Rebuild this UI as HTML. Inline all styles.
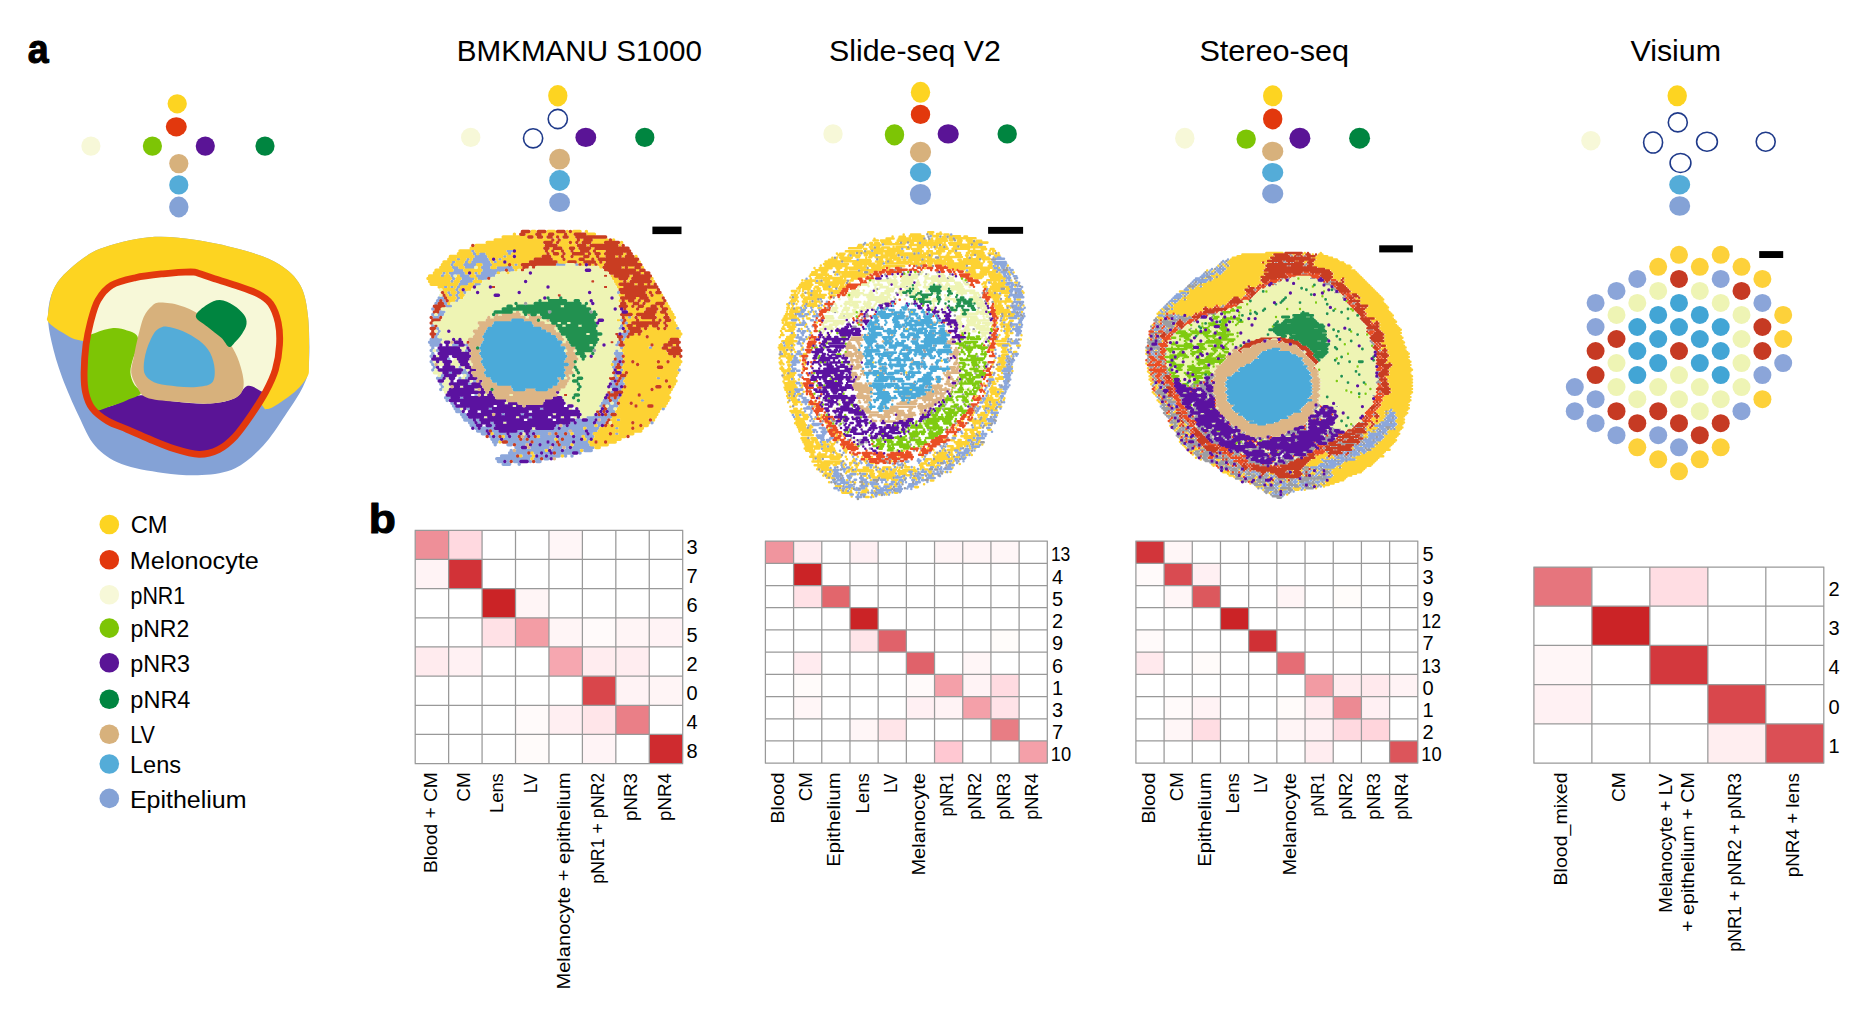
<!DOCTYPE html>
<html><head><meta charset="utf-8"><title>Figure</title>
<style>
html,body{margin:0;padding:0;background:#fff;}
svg{display:block;font-family:"Liberation Sans",sans-serif;fill:#000;}
</style></head><body>
<svg width="1875" height="1010" viewBox="0 0 1875 1010">
<text x="27.67" y="62.5" font-size="41" textLength="20.90" lengthAdjust="spacingAndGlyphs" font-weight="bold" stroke="#000" stroke-width="1.1" stroke-linejoin="round">a</text>
<text x="368.82" y="533.3" font-size="41" textLength="27.10" lengthAdjust="spacingAndGlyphs" font-weight="bold" stroke="#000" stroke-width="1.1" stroke-linejoin="round">b</text>
<text x="456.83" y="60.7" font-size="29.5" textLength="245.04" lengthAdjust="spacingAndGlyphs">BMKMANU S1000</text>
<text x="829.04" y="60.7" font-size="29.5" textLength="171.88" lengthAdjust="spacingAndGlyphs">Slide-seq V2</text>
<text x="1199.42" y="60.7" font-size="29.5" textLength="149.62" lengthAdjust="spacingAndGlyphs">Stereo-seq</text>
<text x="1630.45" y="60.7" font-size="29.5" textLength="90.65" lengthAdjust="spacingAndGlyphs">Visium</text>
<ellipse cx="177.2" cy="103.8" rx="9.65" ry="9.65" fill="#FDD421"/>
<ellipse cx="176.3" cy="126.8" rx="10.5" ry="9.6" fill="#E2380D"/>
<ellipse cx="90.9" cy="146.1" rx="9.6" ry="9.6" fill="#F7F8D8"/>
<ellipse cx="152.4" cy="146.1" rx="9.6" ry="9.6" fill="#7DC505"/>
<ellipse cx="205.3" cy="146.1" rx="9.6" ry="9.6" fill="#5A1496"/>
<ellipse cx="265" cy="146.1" rx="9.6" ry="9.6" fill="#008540"/>
<ellipse cx="178.8" cy="163.6" rx="9.6" ry="9.6" fill="#D7B17C"/>
<ellipse cx="178.8" cy="184.9" rx="9.6" ry="9.6" fill="#54ACD8"/>
<ellipse cx="178.8" cy="207" rx="9.7" ry="10.4" fill="#84A2D6"/>
<ellipse cx="557.8" cy="95.8" rx="9.65" ry="10.7" fill="#FDD421"/>
<ellipse cx="557.8" cy="119" rx="9.60" ry="9.60" fill="#fff" stroke="#1F3A8A" stroke-width="1.6"/>
<ellipse cx="470.7" cy="137.4" rx="9.7" ry="9.7" fill="#F7F8D8"/>
<ellipse cx="533.1" cy="138.3" rx="9.60" ry="9.60" fill="#fff" stroke="#1F3A8A" stroke-width="1.6"/>
<ellipse cx="585.8" cy="137.4" rx="10.4" ry="9.6" fill="#5A1496"/>
<ellipse cx="644.8" cy="137.4" rx="9.6" ry="9.6" fill="#008540"/>
<ellipse cx="559.6" cy="159.2" rx="10.4" ry="10.4" fill="#D7B17C"/>
<ellipse cx="559.6" cy="180.5" rx="10.4" ry="10.4" fill="#54ACD8"/>
<ellipse cx="559.6" cy="202.4" rx="10.4" ry="9.7" fill="#84A2D6"/>
<ellipse cx="920.5" cy="92.3" rx="9.7" ry="10.5" fill="#FDD421"/>
<ellipse cx="920.5" cy="114.4" rx="9.7" ry="9.7" fill="#E2380D"/>
<ellipse cx="833" cy="133.9" rx="9.7" ry="9.7" fill="#F7F8D8"/>
<ellipse cx="894.5" cy="134.8" rx="9.7" ry="10.6" fill="#7DC505"/>
<ellipse cx="948.2" cy="133.9" rx="10.6" ry="9.7" fill="#5A1496"/>
<ellipse cx="1007.2" cy="133.9" rx="9.7" ry="9.7" fill="#008540"/>
<ellipse cx="920.5" cy="152.1" rx="10.6" ry="10.4" fill="#D7B17C"/>
<ellipse cx="920.5" cy="172.5" rx="10.6" ry="9.7" fill="#54ACD8"/>
<ellipse cx="920.5" cy="194.5" rx="10.6" ry="10.5" fill="#84A2D6"/>
<ellipse cx="1272.7" cy="95.8" rx="9.7" ry="10.5" fill="#FDD421"/>
<ellipse cx="1272.7" cy="118.9" rx="9.7" ry="10.5" fill="#E2380D"/>
<ellipse cx="1184.8" cy="138.2" rx="9.7" ry="10.5" fill="#F7F8D8"/>
<ellipse cx="1246.2" cy="139.1" rx="9.7" ry="9.7" fill="#7DC505"/>
<ellipse cx="1299.9" cy="138.2" rx="10.5" ry="10.5" fill="#5A1496"/>
<ellipse cx="1359.6" cy="138.2" rx="10.5" ry="10.5" fill="#008540"/>
<ellipse cx="1272.7" cy="151.4" rx="10.6" ry="9.6" fill="#D7B17C"/>
<ellipse cx="1272.7" cy="172.5" rx="10.6" ry="9.6" fill="#54ACD8"/>
<ellipse cx="1272.7" cy="193.7" rx="10.6" ry="9.7" fill="#84A2D6"/>
<ellipse cx="1677.2" cy="95.8" rx="9.7" ry="10.5" fill="#FDD421"/>
<ellipse cx="1677.8" cy="122.4" rx="9.50" ry="9.50" fill="#fff" stroke="#1F3A8A" stroke-width="1.6"/>
<ellipse cx="1590.9" cy="140.7" rx="9.7" ry="9.7" fill="#F7F8D8"/>
<ellipse cx="1653.1" cy="142.5" rx="9.50" ry="10.50" fill="#fff" stroke="#1F3A8A" stroke-width="1.6"/>
<ellipse cx="1707" cy="141.7" rx="10.40" ry="9.50" fill="#fff" stroke="#1F3A8A" stroke-width="1.6"/>
<ellipse cx="1765.7" cy="141.7" rx="9.50" ry="9.50" fill="#fff" stroke="#1F3A8A" stroke-width="1.6"/>
<ellipse cx="1680.5" cy="163" rx="10.40" ry="9.50" fill="#fff" stroke="#1F3A8A" stroke-width="1.6"/>
<ellipse cx="1679.7" cy="184.7" rx="10.5" ry="9.7" fill="#54ACD8"/>
<ellipse cx="1679.7" cy="206" rx="10.5" ry="9.8" fill="#84A2D6"/>
<ellipse cx="109.3" cy="524.5" rx="9.8" ry="9.8" fill="#FDD421"/>
<text x="130.71" y="532.7" font-size="23" textLength="36.91" lengthAdjust="spacingAndGlyphs">CM</text>
<ellipse cx="109.3" cy="559.8" rx="9.8" ry="9.8" fill="#E2380D"/>
<text x="129.88" y="568.6" font-size="23" textLength="128.92" lengthAdjust="spacingAndGlyphs">Melonocyte</text>
<ellipse cx="109.3" cy="594.8" rx="9.8" ry="9.8" fill="#F7F8D8"/>
<text x="130.51" y="603.9" font-size="23" textLength="54.69" lengthAdjust="spacingAndGlyphs">pNR1</text>
<ellipse cx="109.3" cy="628.1" rx="9.8" ry="9.8" fill="#7DC505"/>
<text x="130.40" y="636.6" font-size="23" textLength="58.89" lengthAdjust="spacingAndGlyphs">pNR2</text>
<ellipse cx="109.3" cy="662.7" rx="9.8" ry="9.8" fill="#5A1496"/>
<text x="130.38" y="671.6" font-size="23" textLength="59.69" lengthAdjust="spacingAndGlyphs">pNR3</text>
<ellipse cx="109.3" cy="699.3" rx="9.8" ry="9.8" fill="#008540"/>
<text x="130.37" y="707.5" font-size="23" textLength="60.07" lengthAdjust="spacingAndGlyphs">pNR4</text>
<ellipse cx="109.3" cy="734.3" rx="9.8" ry="9.8" fill="#D7B17C"/>
<text x="130.17" y="742.5" font-size="23" textLength="24.82" lengthAdjust="spacingAndGlyphs">LV</text>
<ellipse cx="109.3" cy="764" rx="9.8" ry="9.8" fill="#54ACD8"/>
<text x="130.02" y="772.9" font-size="23" textLength="51.07" lengthAdjust="spacingAndGlyphs">Lens</text>
<ellipse cx="109.3" cy="798.4" rx="9.8" ry="9.8" fill="#84A2D6"/>
<text x="129.90" y="807.8" font-size="23" textLength="116.60" lengthAdjust="spacingAndGlyphs">Epithelium</text>
<rect x="415.20" y="530.30" width="33.44" height="29.16" fill="#EE8F98"/>
<rect x="448.64" y="530.30" width="33.44" height="29.16" fill="#FFD9E0"/>
<rect x="548.95" y="530.30" width="33.44" height="29.16" fill="#FFF6F7"/>
<rect x="415.20" y="559.46" width="33.44" height="29.16" fill="#FFF3F5"/>
<rect x="448.64" y="559.46" width="33.44" height="29.16" fill="#D23237"/>
<rect x="482.07" y="588.62" width="33.44" height="29.16" fill="#CB2326"/>
<rect x="515.51" y="588.62" width="33.44" height="29.16" fill="#FFF5F6"/>
<rect x="482.07" y="617.79" width="33.44" height="29.16" fill="#FFE1E6"/>
<rect x="515.51" y="617.79" width="33.44" height="29.16" fill="#F39DA5"/>
<rect x="548.95" y="617.79" width="33.44" height="29.16" fill="#FFF5F6"/>
<rect x="582.39" y="617.79" width="33.44" height="29.16" fill="#FFFAFA"/>
<rect x="615.83" y="617.79" width="33.44" height="29.16" fill="#FFF5F6"/>
<rect x="649.26" y="617.79" width="33.44" height="29.16" fill="#FFF3F5"/>
<rect x="415.20" y="646.95" width="33.44" height="29.16" fill="#FFEBEE"/>
<rect x="448.64" y="646.95" width="33.44" height="29.16" fill="#FFF1F3"/>
<rect x="548.95" y="646.95" width="33.44" height="29.16" fill="#F6A7B0"/>
<rect x="582.39" y="646.95" width="33.44" height="29.16" fill="#FFECEF"/>
<rect x="615.83" y="646.95" width="33.44" height="29.16" fill="#FFEDF0"/>
<rect x="582.39" y="676.11" width="33.44" height="29.16" fill="#D9464B"/>
<rect x="615.83" y="676.11" width="33.44" height="29.16" fill="#FFF3F5"/>
<rect x="649.26" y="676.11" width="33.44" height="29.16" fill="#FFF5F6"/>
<rect x="515.51" y="705.27" width="33.44" height="29.16" fill="#FFFAFA"/>
<rect x="548.95" y="705.27" width="33.44" height="29.16" fill="#FFEFF2"/>
<rect x="582.39" y="705.27" width="33.44" height="29.16" fill="#FFE5E9"/>
<rect x="615.83" y="705.27" width="33.44" height="29.16" fill="#EA7F87"/>
<rect x="515.51" y="734.44" width="33.44" height="29.16" fill="#FFFBFA"/>
<rect x="582.39" y="734.44" width="33.44" height="29.16" fill="#FFF4F6"/>
<rect x="649.26" y="734.44" width="33.44" height="29.16" fill="#CF2B2F"/>
<path d="M414.70 530.30H683.20M414.70 559.46H683.20M414.70 588.62H683.20M414.70 617.79H683.20M414.70 646.95H683.20M414.70 676.11H683.20M414.70 705.27H683.20M414.70 734.44H683.20M414.70 763.60H683.20M415.20 530.30V763.60M448.64 530.30V763.60M482.07 530.30V763.60M515.51 530.30V763.60M548.95 530.30V763.60M582.39 530.30V763.60M615.83 530.30V763.60M649.26 530.30V763.60M682.70 530.30V763.60" stroke="#999999" stroke-width="1.25" fill="none"/>
<text x="686.6" y="554.1" font-size="20">3</text>
<text x="686.6" y="583.2" font-size="20">7</text>
<text x="686.6" y="612.4" font-size="20">6</text>
<text x="686.6" y="641.6" font-size="20">5</text>
<text x="686.6" y="670.7" font-size="20">2</text>
<text x="686.6" y="699.9" font-size="20">0</text>
<text x="686.6" y="729.1" font-size="20">4</text>
<text x="686.6" y="758.2" font-size="20">8</text>
<text transform="translate(436.52 873.04) rotate(-90)" font-size="19" textLength="100.82" lengthAdjust="spacingAndGlyphs">Blood + CM</text>
<text transform="translate(469.96 801.75) rotate(-90)" font-size="19" textLength="29.57" lengthAdjust="spacingAndGlyphs">CM</text>
<text transform="translate(503.39 813.07) rotate(-90)" font-size="19" textLength="39.89" lengthAdjust="spacingAndGlyphs">Lens</text>
<text transform="translate(536.83 793.16) rotate(-90)" font-size="19" textLength="19.51" lengthAdjust="spacingAndGlyphs">LV</text>
<text transform="translate(570.27 989.51) rotate(-90)" font-size="19" textLength="216.95" lengthAdjust="spacingAndGlyphs">Melanocyte + epithelium</text>
<text transform="translate(603.71 883.85) rotate(-90)" font-size="19" textLength="111.00" lengthAdjust="spacingAndGlyphs">pNR1 + pNR2</text>
<text transform="translate(637.14 821.02) rotate(-90)" font-size="19" textLength="48.00" lengthAdjust="spacingAndGlyphs">pNR3</text>
<text transform="translate(670.58 821.02) rotate(-90)" font-size="19" textLength="47.81" lengthAdjust="spacingAndGlyphs">pNR4</text>
<rect x="765.40" y="541.10" width="28.19" height="22.21" fill="#F0959E"/>
<rect x="793.59" y="541.10" width="28.19" height="22.21" fill="#FFEDF0"/>
<rect x="849.97" y="541.10" width="28.19" height="22.21" fill="#FFF0F3"/>
<rect x="934.54" y="541.10" width="28.19" height="22.21" fill="#FFF5F6"/>
<rect x="962.73" y="541.10" width="28.19" height="22.21" fill="#FFF5F6"/>
<rect x="990.92" y="541.10" width="28.19" height="22.21" fill="#FFF6F7"/>
<rect x="793.59" y="563.31" width="28.19" height="22.21" fill="#CB2326"/>
<rect x="793.59" y="585.52" width="28.19" height="22.21" fill="#FFE1E6"/>
<rect x="821.78" y="585.52" width="28.19" height="22.21" fill="#E2666C"/>
<rect x="849.97" y="607.73" width="28.19" height="22.21" fill="#CB2326"/>
<rect x="849.97" y="629.94" width="28.19" height="22.21" fill="#FFE5E9"/>
<rect x="878.16" y="629.94" width="28.19" height="22.21" fill="#E0626A"/>
<rect x="990.92" y="629.94" width="28.19" height="22.21" fill="#FFFCFA"/>
<rect x="793.59" y="652.15" width="28.19" height="22.21" fill="#FFEBEF"/>
<rect x="906.35" y="652.15" width="28.19" height="22.21" fill="#E0626A"/>
<rect x="962.73" y="652.15" width="28.19" height="22.21" fill="#FFF6F7"/>
<rect x="793.59" y="674.36" width="28.19" height="22.21" fill="#FFFBFA"/>
<rect x="906.35" y="674.36" width="28.19" height="22.21" fill="#FFFAFA"/>
<rect x="934.54" y="674.36" width="28.19" height="22.21" fill="#F4A0A9"/>
<rect x="962.73" y="674.36" width="28.19" height="22.21" fill="#FFF3F5"/>
<rect x="990.92" y="674.36" width="28.19" height="22.21" fill="#FFDBE1"/>
<rect x="793.59" y="696.57" width="28.19" height="22.21" fill="#FFF6F7"/>
<rect x="906.35" y="696.57" width="28.19" height="22.21" fill="#FFF0F3"/>
<rect x="934.54" y="696.57" width="28.19" height="22.21" fill="#FFF3F5"/>
<rect x="962.73" y="696.57" width="28.19" height="22.21" fill="#F4A0A9"/>
<rect x="990.92" y="696.57" width="28.19" height="22.21" fill="#FFE3E8"/>
<rect x="849.97" y="718.78" width="28.19" height="22.21" fill="#FFF6F7"/>
<rect x="878.16" y="718.78" width="28.19" height="22.21" fill="#FFE5E9"/>
<rect x="990.92" y="718.78" width="28.19" height="22.21" fill="#E87D84"/>
<rect x="934.54" y="740.99" width="28.19" height="22.21" fill="#FFC8D2"/>
<rect x="1019.11" y="740.99" width="28.19" height="22.21" fill="#F4A0A9"/>
<path d="M764.90 541.10H1047.80M764.90 563.31H1047.80M764.90 585.52H1047.80M764.90 607.73H1047.80M764.90 629.94H1047.80M764.90 652.15H1047.80M764.90 674.36H1047.80M764.90 696.57H1047.80M764.90 718.78H1047.80M764.90 740.99H1047.80M764.90 763.20H1047.80M765.40 541.10V763.20M793.59 541.10V763.20M821.78 541.10V763.20M849.97 541.10V763.20M878.16 541.10V763.20M906.35 541.10V763.20M934.54 541.10V763.20M962.73 541.10V763.20M990.92 541.10V763.20M1019.11 541.10V763.20M1047.30 541.10V763.20" stroke="#999999" stroke-width="1.25" fill="none"/>
<text x="1050.89" y="561.4" font-size="20" textLength="19.45" lengthAdjust="spacingAndGlyphs">13</text>
<text x="1052" y="583.6" font-size="20">4</text>
<text x="1052" y="605.8" font-size="20">5</text>
<text x="1052" y="628.0" font-size="20">2</text>
<text x="1052" y="650.2" font-size="20">9</text>
<text x="1052" y="672.5" font-size="20">6</text>
<text x="1052" y="694.7" font-size="20">1</text>
<text x="1052" y="716.9" font-size="20">3</text>
<text x="1052" y="739.1" font-size="20">7</text>
<text x="1050.83" y="761.3" font-size="20" textLength="20.36" lengthAdjust="spacingAndGlyphs">10</text>
<text transform="translate(784.10 823.81) rotate(-90)" font-size="19" textLength="51.37" lengthAdjust="spacingAndGlyphs">Blood</text>
<text transform="translate(812.28 801.34) rotate(-90)" font-size="19" textLength="29.13" lengthAdjust="spacingAndGlyphs">CM</text>
<text transform="translate(840.48 866.82) rotate(-90)" font-size="19" textLength="94.31" lengthAdjust="spacingAndGlyphs">Epithelium</text>
<text transform="translate(868.66 813.49) rotate(-90)" font-size="19" textLength="40.31" lengthAdjust="spacingAndGlyphs">Lens</text>
<text transform="translate(896.86 793.05) rotate(-90)" font-size="19" textLength="19.40" lengthAdjust="spacingAndGlyphs">LV</text>
<text transform="translate(925.04 875.61) rotate(-90)" font-size="19" textLength="102.69" lengthAdjust="spacingAndGlyphs">Melanocyte</text>
<text transform="translate(953.24 816.51) rotate(-90)" font-size="19" textLength="43.50" lengthAdjust="spacingAndGlyphs">pNR1</text>
<text transform="translate(981.42 819.79) rotate(-90)" font-size="19" textLength="46.94" lengthAdjust="spacingAndGlyphs">pNR2</text>
<text transform="translate(1009.62 819.79) rotate(-90)" font-size="19" textLength="46.75" lengthAdjust="spacingAndGlyphs">pNR3</text>
<text transform="translate(1037.80 819.78) rotate(-90)" font-size="19" textLength="46.56" lengthAdjust="spacingAndGlyphs">pNR4</text>
<rect x="1135.90" y="541.10" width="28.19" height="22.21" fill="#D2353A"/>
<rect x="1164.09" y="541.10" width="28.19" height="22.21" fill="#FFF6F7"/>
<rect x="1135.90" y="563.31" width="28.19" height="22.21" fill="#FFFAFA"/>
<rect x="1164.09" y="563.31" width="28.19" height="22.21" fill="#D94B51"/>
<rect x="1192.28" y="563.31" width="28.19" height="22.21" fill="#FFF0F3"/>
<rect x="1164.09" y="585.52" width="28.19" height="22.21" fill="#FFF6F7"/>
<rect x="1192.28" y="585.52" width="28.19" height="22.21" fill="#DC585D"/>
<rect x="1276.85" y="585.52" width="28.19" height="22.21" fill="#FFF5F6"/>
<rect x="1333.23" y="585.52" width="28.19" height="22.21" fill="#FFFCFA"/>
<rect x="1220.47" y="607.73" width="28.19" height="22.21" fill="#CB2326"/>
<rect x="1135.90" y="629.94" width="28.19" height="22.21" fill="#FFFAFA"/>
<rect x="1248.66" y="629.94" width="28.19" height="22.21" fill="#D03035"/>
<rect x="1135.90" y="652.15" width="28.19" height="22.21" fill="#FFE9ED"/>
<rect x="1192.28" y="652.15" width="28.19" height="22.21" fill="#FFFBFA"/>
<rect x="1276.85" y="652.15" width="28.19" height="22.21" fill="#E56D75"/>
<rect x="1305.04" y="674.36" width="28.19" height="22.21" fill="#F29BA3"/>
<rect x="1333.23" y="674.36" width="28.19" height="22.21" fill="#FFECEF"/>
<rect x="1361.42" y="674.36" width="28.19" height="22.21" fill="#FFE9ED"/>
<rect x="1389.61" y="674.36" width="28.19" height="22.21" fill="#FFF3F5"/>
<rect x="1164.09" y="696.57" width="28.19" height="22.21" fill="#FFFAFA"/>
<rect x="1192.28" y="696.57" width="28.19" height="22.21" fill="#FFF3F5"/>
<rect x="1276.85" y="696.57" width="28.19" height="22.21" fill="#FFFBFA"/>
<rect x="1305.04" y="696.57" width="28.19" height="22.21" fill="#FFEDF0"/>
<rect x="1333.23" y="696.57" width="28.19" height="22.21" fill="#EC8A93"/>
<rect x="1361.42" y="696.57" width="28.19" height="22.21" fill="#FFF0F3"/>
<rect x="1164.09" y="718.78" width="28.19" height="22.21" fill="#FFF6F7"/>
<rect x="1192.28" y="718.78" width="28.19" height="22.21" fill="#FFDDE3"/>
<rect x="1276.85" y="718.78" width="28.19" height="22.21" fill="#FFF5F6"/>
<rect x="1305.04" y="718.78" width="28.19" height="22.21" fill="#FFF1F3"/>
<rect x="1333.23" y="718.78" width="28.19" height="22.21" fill="#FFD9E0"/>
<rect x="1361.42" y="718.78" width="28.19" height="22.21" fill="#FFD5DC"/>
<rect x="1305.04" y="740.99" width="28.19" height="22.21" fill="#FFEDF0"/>
<rect x="1389.61" y="740.99" width="28.19" height="22.21" fill="#DC555B"/>
<path d="M1135.40 541.10H1418.30M1135.40 563.31H1418.30M1135.40 585.52H1418.30M1135.40 607.73H1418.30M1135.40 629.94H1418.30M1135.40 652.15H1418.30M1135.40 674.36H1418.30M1135.40 696.57H1418.30M1135.40 718.78H1418.30M1135.40 740.99H1418.30M1135.40 763.20H1418.30M1135.90 541.10V763.20M1164.09 541.10V763.20M1192.28 541.10V763.20M1220.47 541.10V763.20M1248.66 541.10V763.20M1276.85 541.10V763.20M1305.04 541.10V763.20M1333.23 541.10V763.20M1361.42 541.10V763.20M1389.61 541.10V763.20M1417.80 541.10V763.20" stroke="#999999" stroke-width="1.25" fill="none"/>
<text x="1422.5" y="561.4" font-size="20">5</text>
<text x="1422.5" y="583.6" font-size="20">3</text>
<text x="1422.5" y="605.8" font-size="20">9</text>
<text x="1421.38" y="628.0" font-size="20" textLength="19.65" lengthAdjust="spacingAndGlyphs">12</text>
<text x="1422.5" y="650.2" font-size="20">7</text>
<text x="1421.39" y="672.5" font-size="20" textLength="19.45" lengthAdjust="spacingAndGlyphs">13</text>
<text x="1422.5" y="694.7" font-size="20">0</text>
<text x="1422.5" y="716.9" font-size="20">1</text>
<text x="1422.5" y="739.1" font-size="20">2</text>
<text x="1421.33" y="761.3" font-size="20" textLength="20.36" lengthAdjust="spacingAndGlyphs">10</text>
<text transform="translate(1154.60 823.81) rotate(-90)" font-size="19" textLength="51.37" lengthAdjust="spacingAndGlyphs">Blood</text>
<text transform="translate(1182.79 801.34) rotate(-90)" font-size="19" textLength="29.13" lengthAdjust="spacingAndGlyphs">CM</text>
<text transform="translate(1210.97 866.82) rotate(-90)" font-size="19" textLength="94.31" lengthAdjust="spacingAndGlyphs">Epithelium</text>
<text transform="translate(1239.16 813.49) rotate(-90)" font-size="19" textLength="40.31" lengthAdjust="spacingAndGlyphs">Lens</text>
<text transform="translate(1267.36 793.05) rotate(-90)" font-size="19" textLength="19.40" lengthAdjust="spacingAndGlyphs">LV</text>
<text transform="translate(1295.54 875.61) rotate(-90)" font-size="19" textLength="102.69" lengthAdjust="spacingAndGlyphs">Melanocyte</text>
<text transform="translate(1323.73 816.51) rotate(-90)" font-size="19" textLength="43.50" lengthAdjust="spacingAndGlyphs">pNR1</text>
<text transform="translate(1351.92 819.79) rotate(-90)" font-size="19" textLength="46.94" lengthAdjust="spacingAndGlyphs">pNR2</text>
<text transform="translate(1380.11 819.79) rotate(-90)" font-size="19" textLength="46.75" lengthAdjust="spacingAndGlyphs">pNR3</text>
<text transform="translate(1408.30 819.78) rotate(-90)" font-size="19" textLength="46.56" lengthAdjust="spacingAndGlyphs">pNR4</text>
<rect x="1533.90" y="567.00" width="57.98" height="39.24" fill="#E6757D"/>
<rect x="1649.86" y="567.00" width="57.98" height="39.24" fill="#FFDDE3"/>
<rect x="1591.88" y="606.24" width="57.98" height="39.24" fill="#CB2326"/>
<rect x="1533.90" y="645.48" width="57.98" height="39.24" fill="#FFF6F7"/>
<rect x="1649.86" y="645.48" width="57.98" height="39.24" fill="#D3383D"/>
<rect x="1533.90" y="684.72" width="57.98" height="39.24" fill="#FFF1F3"/>
<rect x="1707.84" y="684.72" width="57.98" height="39.24" fill="#D9474C"/>
<rect x="1707.84" y="723.96" width="57.98" height="39.24" fill="#FFEEF0"/>
<rect x="1765.82" y="723.96" width="57.98" height="39.24" fill="#DB4F55"/>
<path d="M1533.40 567.00H1824.30M1533.40 606.24H1824.30M1533.40 645.48H1824.30M1533.40 684.72H1824.30M1533.40 723.96H1824.30M1533.40 763.20H1824.30M1533.90 567.00V763.20M1591.88 567.00V763.20M1649.86 567.00V763.20M1707.84 567.00V763.20M1765.82 567.00V763.20M1823.80 567.00V763.20" stroke="#999999" stroke-width="1.25" fill="none"/>
<text x="1828.6" y="595.8" font-size="20">2</text>
<text x="1828.6" y="635.1" font-size="20">3</text>
<text x="1828.6" y="674.3" font-size="20">4</text>
<text x="1828.6" y="713.5" font-size="20">0</text>
<text x="1828.6" y="752.8" font-size="20">1</text>
<text transform="translate(1567.49 885.46) rotate(-90)" font-size="19" textLength="112.96" lengthAdjust="spacingAndGlyphs">Blood_mixed</text>
<text transform="translate(1625.47 801.96) rotate(-90)" font-size="19" textLength="29.79" lengthAdjust="spacingAndGlyphs">CM</text>
<text transform="translate(1672.25 912.70) rotate(-90)" font-size="19" textLength="139.04" lengthAdjust="spacingAndGlyphs">Melanocyte + LV</text>
<text transform="translate(1694.45 931.88) rotate(-90)" font-size="19" textLength="159.76" lengthAdjust="spacingAndGlyphs">+ epithelium + CM</text>
<text transform="translate(1741.43 951.87) rotate(-90)" font-size="19" textLength="178.78" lengthAdjust="spacingAndGlyphs">pNR1 + pNR2 + pNR3</text>
<text transform="translate(1799.41 877.22) rotate(-90)" font-size="19" textLength="104.10" lengthAdjust="spacingAndGlyphs">pNR4 + lens</text>
<path d="M48.0 314.3C48.3 305.5 50.1 296.7 53.6 289.3C57.0 281.9 61.2 276.6 68.8 269.9C76.4 263.2 85.9 254.6 99.3 249.1C112.7 243.7 133.0 238.7 149.2 237.2C165.4 235.7 180.2 237.7 196.4 240.0C212.5 242.3 232.4 247.0 246.3 251.1C260.1 255.1 270.5 258.7 279.5 264.4C288.5 270.0 295.6 276.4 300.3 285.2C305.1 293.9 306.7 303.9 308.1 317.0C309.5 330.2 309.8 352.6 308.9 364.2C308.1 375.7 307.1 377.8 303.1 386.4C299.1 394.9 291.8 405.5 285.1 415.5C278.4 425.4 271.2 437.2 262.9 446.0C254.6 454.8 245.3 463.3 235.2 468.2C225.0 473.0 213.9 474.3 201.9 475.1C189.9 475.9 176.5 474.7 163.1 472.9C149.7 471.0 132.8 468.5 121.5 464.0C110.2 459.5 102.3 454.1 95.2 446.0C88.0 437.9 84.1 427.0 78.5 415.5C73.0 403.9 66.4 388.9 61.9 376.7C57.4 364.4 53.9 352.4 51.6 342.0C49.3 331.6 47.7 323.0 48.0 314.3Z" fill="#84A2D6"/>
<path d="M48.0 314.3C48.9 308.8 50.1 296.7 53.6 289.3C57.0 281.9 61.2 276.6 68.8 269.9C76.4 263.2 85.9 254.6 99.3 249.1C112.7 243.7 133.0 238.7 149.2 237.2C165.4 235.7 180.2 237.7 196.4 240.0C212.5 242.3 232.4 247.0 246.3 251.1C260.1 255.1 270.5 258.7 279.5 264.4C288.5 270.0 295.6 276.4 300.3 285.2C305.1 293.9 306.7 303.9 308.1 317.0C309.5 330.2 309.1 354.2 308.9 364.2C308.8 374.1 309.4 372.3 307.3 376.7C305.1 381.0 300.8 386.1 296.2 390.5C291.6 394.9 284.4 399.9 279.5 403.0C274.7 406.1 270.3 409.1 267.1 409.1C263.8 409.1 267.3 411.4 260.1 403.0C253.0 394.6 244.0 368.3 224.1 358.6C204.2 348.9 164.5 347.7 140.9 344.8C117.3 341.8 95.6 342.8 82.7 340.9C69.7 338.9 69.0 336.3 63.3 333.1C57.5 330.0 50.8 325.2 48.3 322.0C45.8 318.9 47.1 319.7 48.0 314.3Z" fill="#FDD421"/>
<path d="M190.8 271.8C184.8 271.9 172.3 272.8 163.1 273.8C153.8 274.8 143.9 275.8 135.4 277.7C126.8 279.6 118.0 281.4 111.8 285.2C105.6 288.9 101.5 294.2 97.9 300.4C94.4 306.6 92.4 315.2 90.4 322.6C88.5 330.0 87.1 336.5 86.0 344.8C84.9 353.1 84.2 364.6 84.1 372.5C84.0 380.4 84.1 385.9 85.5 391.9C86.8 397.9 88.7 403.7 92.4 408.5C96.1 413.4 101.9 417.6 107.6 421.0C113.4 424.5 120.1 426.3 127.0 429.3C134.0 432.3 141.4 435.8 149.2 439.0C157.1 442.3 165.9 446.2 174.2 448.7C182.5 451.3 191.7 454.1 199.1 454.3C206.5 454.4 212.5 452.6 218.5 449.6C224.5 446.6 229.6 442.2 235.2 436.3C240.7 430.4 246.7 421.5 251.8 414.1C256.9 406.7 261.7 399.3 265.7 391.9C269.6 384.5 273.1 377.6 275.4 369.7C277.7 361.9 279.1 352.6 279.5 344.8C280.0 336.9 279.6 329.4 278.2 322.6C276.7 315.7 274.1 308.6 270.7 303.7C267.2 298.9 263.3 296.6 257.4 293.5C251.4 290.4 242.6 287.7 235.2 285.2C227.8 282.6 219.0 280.2 213.0 278.2C207.0 276.3 202.8 274.6 199.1 273.5C195.4 272.4 196.8 271.8 190.8 271.8Z" fill="#F7F8D8"/>
<clipPath id="rc"><path d="M190.8 271.8C184.8 271.9 172.3 272.8 163.1 273.8C153.8 274.8 143.9 275.8 135.4 277.7C126.8 279.6 118.0 281.4 111.8 285.2C105.6 288.9 101.5 294.2 97.9 300.4C94.4 306.6 92.4 315.2 90.4 322.6C88.5 330.0 87.1 336.5 86.0 344.8C84.9 353.1 84.2 364.6 84.1 372.5C84.0 380.4 84.1 385.9 85.5 391.9C86.8 397.9 88.7 403.7 92.4 408.5C96.1 413.4 101.9 417.6 107.6 421.0C113.4 424.5 120.1 426.3 127.0 429.3C134.0 432.3 141.4 435.8 149.2 439.0C157.1 442.3 165.9 446.2 174.2 448.7C182.5 451.3 191.7 454.1 199.1 454.3C206.5 454.4 212.5 452.6 218.5 449.6C224.5 446.6 229.6 442.2 235.2 436.3C240.7 430.4 246.7 421.5 251.8 414.1C256.9 406.7 261.7 399.3 265.7 391.9C269.6 384.5 273.1 377.6 275.4 369.7C277.7 361.9 279.1 352.6 279.5 344.8C280.0 336.9 279.6 329.4 278.2 322.6C276.7 315.7 274.1 308.6 270.7 303.7C267.2 298.9 263.3 296.6 257.4 293.5C251.4 290.4 242.6 287.7 235.2 285.2C227.8 282.6 219.0 280.2 213.0 278.2C207.0 276.3 202.8 274.6 199.1 273.5C195.4 272.4 196.8 271.8 190.8 271.8Z"/></clipPath>
<path d="M92.4 411.3C97.0 408.9 105.1 407.9 113.2 405.2C121.3 402.5 130.7 395.8 140.9 395.2C151.1 394.6 162.6 400.2 174.2 401.6C185.7 403.0 200.1 404.1 210.2 403.5C220.4 402.9 228.9 401.0 235.2 398.0C241.4 395.0 243.0 386.8 247.7 385.8C252.3 384.8 257.6 390.0 262.9 391.9C268.2 393.8 278.6 389.1 279.5 397.4C280.5 405.8 277.7 429.8 268.4 441.8C259.2 453.8 240.7 466.3 224.1 469.5C207.4 472.8 187.1 465.8 168.6 461.2C150.1 456.6 127.0 448.7 113.2 441.8C99.3 434.9 88.9 424.7 85.5 419.6C82.0 414.5 87.8 413.7 92.4 411.3Z" fill="#5A1496" clip-path="url(#rc)"/>
<path d="M79.9 342.0C82.9 335.9 89.6 335.4 95.2 333.1C100.7 330.8 107.9 328.6 113.2 328.1C118.5 327.7 123.2 329.2 127.0 330.4C130.9 331.5 134.6 332.7 136.5 335.1C138.3 337.5 138.7 340.8 138.1 344.8C137.6 348.7 134.4 354.0 133.1 358.6C131.8 363.3 130.2 368.2 130.4 372.5C130.5 376.7 132.2 380.7 134.0 384.1C135.7 387.6 142.1 390.6 140.9 393.3C139.8 396.0 132.1 398.0 127.0 400.2C122.0 402.4 116.2 404.6 110.4 406.3C104.6 408.1 97.9 412.2 92.4 410.8C86.8 409.3 79.7 404.3 77.1 397.4C74.6 390.6 76.7 379.0 77.1 369.7C77.6 360.5 76.9 348.1 79.9 342.0Z" fill="#7DC505" clip-path="url(#rc)"/>
<path d="M160.3 302.6C164.9 302.5 173.3 303.5 179.7 305.4C186.2 307.3 192.7 310.0 199.1 314.3C205.6 318.5 213.0 325.4 218.5 330.9C224.1 336.5 228.7 341.5 232.4 347.5C236.1 353.5 238.9 360.5 240.7 367.0C242.6 373.4 244.4 381.2 243.5 386.4C242.6 391.5 240.7 395.1 235.2 398.0C229.6 400.9 220.4 402.9 210.2 403.5C200.1 404.1 184.8 402.6 174.2 401.6C163.5 400.6 152.7 400.0 146.5 397.4C140.2 394.9 139.3 390.5 136.7 386.4C134.2 382.2 131.7 377.6 131.2 372.5C130.7 367.4 132.8 361.9 134.0 355.9C135.1 349.9 136.5 342.9 138.1 336.5C139.8 330.0 141.4 322.1 143.7 317.0C146.0 312.0 149.2 308.4 152.0 306.0C154.8 303.5 155.7 302.7 160.3 302.6Z" fill="#D7B17C"/>
<path d="M167.2 326.7C171.0 327.2 177.2 328.6 182.5 330.9C187.8 333.2 194.5 336.9 199.1 340.6C203.8 344.3 207.6 348.2 210.2 353.1C212.8 357.9 214.4 364.7 214.7 369.7C214.9 374.7 214.7 380.2 211.6 383.0C208.6 385.9 202.1 386.4 196.4 386.9C190.6 387.5 183.4 386.9 177.0 386.4C170.5 385.8 162.6 385.2 157.5 383.6C152.5 382.0 148.8 379.4 146.5 376.7C144.1 373.9 143.7 371.3 143.7 367.0C143.7 362.6 144.8 355.8 146.5 350.3C148.1 344.9 151.2 337.9 153.4 334.2C155.6 330.5 157.4 329.4 159.8 328.1C162.1 326.9 163.5 326.3 167.2 326.7Z" fill="#54ACD8"/>
<path d="M195.8 316.2C195.8 312.5 203.4 307.2 207.4 304.6C211.5 301.9 215.5 300.0 219.9 300.1C224.3 300.3 229.8 302.9 233.8 305.4C237.8 307.8 241.9 311.7 244.0 314.8C246.2 317.9 246.9 320.8 246.5 324.0C246.2 327.1 244.0 330.7 242.1 333.7C240.2 336.7 237.3 339.8 235.2 342.0C233.0 344.2 231.4 347.7 229.1 347.0C226.8 346.3 224.9 341.2 221.3 337.8C217.7 334.5 211.7 330.4 207.4 326.7C203.2 323.1 195.8 319.9 195.8 316.2Z" fill="#008540"/>
<path d="M190.8 271.8C184.8 271.9 172.3 272.8 163.1 273.8C153.8 274.8 143.9 275.8 135.4 277.7C126.8 279.6 118.0 281.4 111.8 285.2C105.6 288.9 101.5 294.2 97.9 300.4C94.4 306.6 92.4 315.2 90.4 322.6C88.5 330.0 87.1 336.5 86.0 344.8C84.9 353.1 84.2 364.6 84.1 372.5C84.0 380.4 84.1 385.9 85.5 391.9C86.8 397.9 88.7 403.7 92.4 408.5C96.1 413.4 101.9 417.6 107.6 421.0C113.4 424.5 120.1 426.3 127.0 429.3C134.0 432.3 141.4 435.8 149.2 439.0C157.1 442.3 165.9 446.2 174.2 448.7C182.5 451.3 191.7 454.1 199.1 454.3C206.5 454.4 212.5 452.6 218.5 449.6C224.5 446.6 229.6 442.2 235.2 436.3C240.7 430.4 246.7 421.5 251.8 414.1C256.9 406.7 261.7 399.3 265.7 391.9C269.6 384.5 273.1 377.6 275.4 369.7C277.7 361.9 279.1 352.6 279.5 344.8C280.0 336.9 279.6 329.4 278.2 322.6C276.7 315.7 274.1 308.6 270.7 303.7C267.2 298.9 263.3 296.6 257.4 293.5C251.4 290.4 242.6 287.7 235.2 285.2C227.8 282.6 219.0 280.2 213.0 278.2C207.0 276.3 202.8 274.6 199.1 273.5C195.4 272.4 196.8 271.8 190.8 271.8Z" fill="none" stroke="#E2380D" stroke-width="6.8" stroke-linejoin="round"/>
<path d="M472.8 250.9h0M508.0 250.9h3.2M474.4 253.7h0M480.8 253.7h3.2M509.6 253.7h0M476.0 256.5h9.6M504.8 256.5h0M458.4 259.2h0M468.0 259.2h0M474.4 259.2h12.8M500.0 259.2h0M453.6 262.0h0M466.4 262.0h0M472.8 262.0h16.0M495.2 262.0h0M452.0 264.8h0M464.8 264.8h9.6M484.0 264.8h6.4M516.0 264.8h0M557.6 264.8h6.4M576.8 264.8h0M453.6 267.6h3.2M466.4 267.6h6.4M482.4 267.6h6.4M498.4 267.6h12.8M455.2 270.3h6.4M484.0 270.3h19.2M509.6 270.3h3.2M444.0 273.1h0M450.4 273.1h12.8M476.0 273.1h0M482.4 273.1h12.8M442.4 275.9h0M452.0 275.9h0M461.6 275.9h6.4M477.6 275.9h16.0M453.6 278.6h0M463.2 278.6h9.6M479.2 278.6h6.4M452.0 281.4h0M461.6 281.4h9.6M460.0 284.2h6.4M476.0 284.2h3.2M445.6 286.9h0M452.0 286.9h0M458.4 286.9h0M456.8 289.7h0M448.8 292.5h0M458.4 292.5h0M464.8 292.5h0M618.4 292.5h0M450.4 295.2h0M456.8 295.2h0M439.2 298.0h3.2M458.4 298.0h0M437.6 300.8h0M444.0 300.8h0M456.8 300.8h0M436.0 303.6h0M445.6 303.6h0M447.2 306.3h3.2M432.8 309.1h0M440.8 311.9h3.2M432.8 314.6h0M439.2 314.6h3.2M434.4 317.4h3.2M629.6 317.4h0M621.6 320.2h0M626.4 322.9h0M432.8 325.7h0M621.6 325.7h0M437.6 328.5h0M620.0 328.5h0M677.6 328.5h0M439.2 331.3h0M628.0 331.3h0M437.6 334.0h0M623.2 334.0h3.2M436.0 336.8h0M624.8 336.8h0M431.2 339.6h9.6M623.2 339.6h0M429.6 342.3h9.6M618.4 342.3h0M431.2 345.1h6.4M453.6 345.1h3.2M466.4 345.1h0M616.8 345.1h0M432.8 347.9h0M621.6 347.9h0M650.4 347.9h0M431.2 350.6h0M437.6 350.6h0M466.4 350.6h0M616.8 350.6h0M432.8 353.4h0M615.2 353.4h6.4M431.2 356.2h0M616.8 356.2h3.2M448.8 359.0h0M618.4 359.0h3.2M431.2 361.7h0M613.6 361.7h3.2M432.8 364.5h0M615.2 364.5h0M621.6 364.5h0M434.4 367.3h0M460.0 367.3h0M613.6 367.3h0M432.8 370.0h0M464.8 370.0h0M621.6 370.0h0M679.2 370.0h0M450.4 372.8h0M463.2 372.8h3.2M442.4 375.6h0M468.0 375.6h0M615.2 375.6h0M437.6 378.3h3.2M460.0 378.3h0M466.4 378.3h0M616.8 378.3h0M623.2 378.3h0M658.4 378.3h0M474.4 381.1h0M612.0 381.1h0M621.6 381.1h0M440.8 383.9h0M469.6 383.9h0M613.6 383.9h0M620.0 383.9h3.2M442.4 386.7h0M612.0 386.7h6.4M440.8 389.4h0M620.0 389.4h0M612.0 392.2h0M476.0 395.0h0M445.6 397.7h3.2M461.6 397.7h0M612.0 397.7h0M618.4 397.7h0M447.2 400.5h0M604.0 400.5h3.2M613.6 400.5h3.2M642.4 400.5h0M452.0 403.3h0M602.4 403.3h6.4M615.2 403.3h0M453.6 406.0h0M600.8 406.0h0M610.4 406.0h6.4M455.2 408.8h3.2M468.0 408.8h0M490.4 408.8h0M541.6 408.8h0M608.8 408.8h3.2M663.2 408.8h0M456.8 411.6h3.2M610.4 411.6h3.2M461.6 414.4h3.2M503.2 414.4h0M522.4 414.4h0M608.8 414.4h0M463.2 417.1h3.2M530.4 417.1h0M588.0 417.1h22.4M464.8 419.9h6.4M477.6 419.9h0M576.8 419.9h3.2M589.6 419.9h3.2M602.4 419.9h3.2M618.4 419.9h0M469.6 422.7h3.2M479.2 422.7h0M492.0 422.7h0M572.0 422.7h0M578.4 422.7h12.8M597.6 422.7h6.4M652.0 422.7h0M471.2 425.4h3.2M493.6 425.4h0M557.6 425.4h0M564.0 425.4h0M570.4 425.4h22.4M599.2 425.4h0M476.0 428.2h0M482.4 428.2h9.6M556.0 428.2h0M562.4 428.2h19.2M588.0 428.2h9.6M616.8 428.2h0M477.6 431.0h6.4M493.6 431.0h3.2M519.2 431.0h3.2M532.0 431.0h35.2M573.6 431.0h9.6M589.6 431.0h6.4M482.4 433.7h3.2M495.2 433.7h9.6M511.2 433.7h6.4M530.4 433.7h0M536.8 433.7h9.6M552.8 433.7h0M559.2 433.7h3.2M568.8 433.7h0M575.2 433.7h9.6M591.2 433.7h0M616.8 433.7h0M490.4 436.5h0M496.8 436.5h0M506.4 436.5h0M512.8 436.5h3.2M525.6 436.5h0M532.0 436.5h0M541.6 436.5h12.8M560.8 436.5h9.6M576.8 436.5h3.2M586.4 436.5h6.4M492.0 439.3h6.4M504.8 439.3h12.8M524.0 439.3h0M530.4 439.3h22.4M559.2 439.3h0M565.6 439.3h12.8M588.0 439.3h0M493.6 442.1h3.2M509.6 442.1h19.2M535.2 442.1h9.6M551.2 442.1h3.2M560.8 442.1h9.6M576.8 442.1h9.6M495.2 444.8h0M508.0 444.8h3.2M517.6 444.8h6.4M533.6 444.8h3.2M543.2 444.8h6.4M556.0 444.8h0M562.4 444.8h6.4M575.2 444.8h12.8M516.0 447.6h3.2M532.0 447.6h16.0M554.4 447.6h6.4M567.2 447.6h0M573.6 447.6h19.2M511.2 450.4h0M517.6 450.4h25.6M552.8 450.4h6.4M565.6 450.4h12.8M584.8 450.4h6.4M509.6 453.1h16.0M535.2 453.1h3.2M544.8 453.1h3.2M557.6 453.1h12.8M580.0 453.1h0M501.6 455.9h12.8M524.0 455.9h6.4M540.0 455.9h3.2M549.6 455.9h9.6M565.6 455.9h0M572.0 455.9h0M496.8 458.7h32.0M535.2 458.7h3.2M544.8 458.7h3.2M498.4 461.4h3.2M508.0 461.4h0M514.4 461.4h3.2M530.4 461.4h0M536.8 461.4h3.2M503.2 464.2h6.4M519.2 464.2h0" stroke="#8CA7DB" stroke-width="3.5" stroke-linecap="round" fill="none"/>
<path d="M532.0 231.5h3.2M548.0 231.5h6.4M567.2 231.5h0M573.6 231.5h6.4M586.4 231.5h0M514.4 234.3h0M527.2 234.3h6.4M543.2 234.3h3.2M556.0 234.3h6.4M568.8 234.3h3.2M588.0 234.3h6.4M503.2 237.1h22.4M535.2 237.1h0M544.8 237.1h0M554.4 237.1h0M560.8 237.1h0M570.4 237.1h3.2M495.2 239.9h54.4M556.0 239.9h0M562.4 239.9h12.8M581.6 239.9h0M594.4 239.9h12.8M613.6 239.9h0M487.2 242.6h54.4M554.4 242.6h0M560.8 242.6h6.4M573.6 242.6h0M580.0 242.6h0M592.8 242.6h9.6M621.6 242.6h0M476.0 245.4h67.2M559.2 245.4h16.0M588.0 245.4h0M620.0 245.4h0M471.2 248.2h70.4M551.2 248.2h0M564.0 248.2h3.2M576.8 248.2h0M592.8 248.2h0M460.0 250.9h9.6M476.0 250.9h28.8M517.6 250.9h25.6M549.6 250.9h0M556.0 250.9h3.2M565.6 250.9h3.2M575.2 250.9h3.2M591.2 250.9h0M597.6 250.9h6.4M458.4 253.7h12.8M477.6 253.7h0M487.2 253.7h19.2M512.8 253.7h32.0M551.2 253.7h0M560.8 253.7h0M567.2 253.7h3.2M586.4 253.7h0M592.8 253.7h0M602.4 253.7h0M624.8 253.7h0M450.4 256.5h22.4M488.8 256.5h12.8M508.0 256.5h3.2M517.6 256.5h22.4M552.8 256.5h6.4M565.6 256.5h3.2M575.2 256.5h6.4M591.2 256.5h3.2M600.8 256.5h3.2M616.8 256.5h0M623.2 256.5h0M636.0 256.5h0M448.8 259.2h6.4M461.6 259.2h3.2M471.2 259.2h0M490.4 259.2h0M496.8 259.2h0M503.2 259.2h28.8M554.4 259.2h6.4M567.2 259.2h9.6M586.4 259.2h3.2M596.0 259.2h0M444.0 262.0h6.4M456.8 262.0h6.4M469.6 262.0h0M492.0 262.0h0M498.4 262.0h3.2M508.0 262.0h19.2M559.2 262.0h6.4M578.4 262.0h3.2M597.6 262.0h0M604.0 262.0h0M639.2 262.0h0M442.4 264.8h6.4M455.2 264.8h6.4M477.6 264.8h3.2M493.6 264.8h12.8M512.8 264.8h0M519.2 264.8h0M583.2 264.8h0M592.8 264.8h0M599.2 264.8h3.2M440.8 267.6h9.6M460.0 267.6h3.2M479.2 267.6h0M492.0 267.6h3.2M514.4 267.6h6.4M600.8 267.6h0M623.2 267.6h0M629.6 267.6h3.2M642.4 267.6h0M436.0 270.3h16.0M464.8 270.3h16.0M516.0 270.3h0M637.6 270.3h0M434.4 273.1h6.4M447.2 273.1h0M466.4 273.1h0M472.8 273.1h0M479.2 273.1h0M498.4 273.1h0M508.0 273.1h0M642.4 273.1h0M429.6 275.9h9.6M445.6 275.9h3.2M458.4 275.9h0M471.2 275.9h3.2M612.0 275.9h0M631.2 275.9h0M428.0 278.6h22.4M456.8 278.6h3.2M476.0 278.6h0M613.6 278.6h3.2M629.6 278.6h0M652.0 278.6h0M429.6 281.4h19.2M455.2 281.4h3.2M474.4 281.4h6.4M615.2 281.4h6.4M628.0 281.4h0M653.6 281.4h0M431.2 284.2h25.6M469.6 284.2h3.2M616.8 284.2h0M636.0 284.2h0M645.6 284.2h0M652.0 284.2h0M439.2 286.9h3.2M448.8 286.9h0M455.2 286.9h0M461.6 286.9h9.6M618.4 286.9h3.2M444.0 289.7h9.6M460.0 289.7h0M466.4 289.7h3.2M648.8 289.7h6.4M445.6 292.5h0M452.0 292.5h3.2M461.6 292.5h0M647.2 292.5h0M653.6 292.5h0M447.2 295.2h0M453.6 295.2h0M460.0 295.2h3.2M620.0 295.2h3.2M648.8 295.2h0M655.2 295.2h6.4M448.8 298.0h6.4M461.6 298.0h0M637.6 298.0h0M650.4 298.0h9.6M450.4 300.8h3.2M620.0 300.8h0M626.4 300.8h0M636.0 300.8h0M642.4 300.8h0M652.0 300.8h9.6M448.8 303.6h0M628.0 303.6h3.2M640.8 303.6h0M647.2 303.6h6.4M666.4 303.6h0M629.6 306.3h0M636.0 306.3h0M645.6 306.3h3.2M658.4 306.3h0M664.8 306.3h3.2M628.0 309.1h6.4M640.8 309.1h3.2M660.0 309.1h0M669.6 309.1h0M629.6 311.9h12.8M658.4 311.9h0M668.0 311.9h3.2M634.4 314.6h0M656.8 314.6h6.4M669.6 314.6h3.2M626.4 317.4h0M632.8 317.4h0M639.2 317.4h0M658.4 317.4h3.2M671.2 317.4h3.2M618.4 320.2h0M628.0 320.2h6.4M640.8 320.2h9.6M656.8 320.2h0M663.2 320.2h0M672.8 320.2h0M629.6 322.9h0M661.6 322.9h0M668.0 322.9h6.4M624.8 325.7h0M634.4 325.7h0M650.4 325.7h0M660.0 325.7h3.2M669.6 325.7h6.4M626.4 328.5h0M642.4 328.5h0M648.8 328.5h6.4M661.6 328.5h0M668.0 328.5h6.4M644.0 331.3h35.2M636.0 334.0h0M642.4 334.0h38.4M631.2 336.8h12.8M650.4 336.8h28.8M626.4 339.6h41.6M624.8 342.3h41.6M626.4 345.1h22.4M655.2 345.1h6.4M674.4 345.1h0M624.8 347.9h22.4M653.6 347.9h6.4M669.6 347.9h0M623.2 350.6h41.6M624.8 353.4h41.6M626.4 356.2h44.8M677.6 356.2h0M624.8 359.0h54.4M626.4 361.7h3.2M636.0 361.7h19.2M661.6 361.7h3.2M671.2 361.7h9.6M612.0 364.5h0M624.8 364.5h9.6M640.8 364.5h38.4M623.2 367.3h32.0M664.8 367.3h12.8M618.4 370.0h0M624.8 370.0h51.2M623.2 372.8h0M629.6 372.8h48.0M618.4 375.6h0M628.0 375.6h48.0M626.4 378.3h28.8M661.6 378.3h12.8M624.8 381.1h38.4M669.6 381.1h6.4M626.4 383.9h48.0M628.0 386.7h25.6M663.2 386.7h3.2M672.8 386.7h0M623.2 389.4h25.6M655.2 389.4h16.0M624.8 392.2h44.8M623.2 395.0h12.8M642.4 395.0h25.6M621.6 397.7h48.0M620.0 400.5h19.2M645.6 400.5h22.4M621.6 403.3h6.4M634.4 403.3h32.0M620.0 406.0h12.8M639.2 406.0h6.4M655.2 406.0h9.6M618.4 408.8h41.6M616.8 411.6h41.6M618.4 414.4h38.4M613.6 417.1h41.6M612.0 419.9h3.2M621.6 419.9h25.6M653.6 419.9h0M613.6 422.7h16.0M636.0 422.7h12.8M596.0 425.4h0M608.8 425.4h0M615.2 425.4h22.4M644.0 425.4h3.2M584.8 428.2h0M600.8 428.2h12.8M620.0 428.2h9.6M636.0 428.2h6.4M599.2 431.0h41.6M492.0 433.7h0M572.0 433.7h0M594.4 433.7h12.8M613.6 433.7h0M620.0 433.7h12.8M503.2 436.5h0M538.4 436.5h0M583.2 436.5h0M596.0 436.5h28.8M556.0 439.3h0M584.8 439.3h0M594.4 439.3h25.6M500.0 442.1h0M589.6 442.1h3.2M599.2 442.1h3.2M608.8 442.1h6.4M572.0 444.8h0M591.2 444.8h16.0M596.0 447.6h3.2M546.4 450.4h0M581.6 450.4h0M532.0 453.1h0M520.8 455.9h0M533.6 455.9h0M562.4 455.9h0M532.0 458.7h0" stroke="#FDD233" stroke-width="3.5" stroke-linecap="round" fill="none"/>
<path d="M522.4 231.5h6.4M538.4 231.5h6.4M557.6 231.5h6.4M570.4 231.5h0M520.8 234.3h3.2M536.8 234.3h3.2M549.6 234.3h3.2M565.6 234.3h0M575.2 234.3h9.6M528.8 237.1h3.2M538.4 237.1h3.2M548.0 237.1h3.2M557.6 237.1h0M564.0 237.1h3.2M576.8 237.1h28.8M552.8 239.9h0M559.2 239.9h0M578.4 239.9h0M584.8 239.9h6.4M610.4 239.9h0M544.8 242.6h6.4M557.6 242.6h0M570.4 242.6h0M576.8 242.6h0M583.2 242.6h6.4M605.6 242.6h12.8M472.8 245.4h0M546.4 245.4h9.6M578.4 245.4h6.4M591.2 245.4h25.6M623.2 245.4h0M544.8 248.2h3.2M554.4 248.2h6.4M570.4 248.2h3.2M580.0 248.2h9.6M596.0 248.2h32.0M546.4 250.9h0M552.8 250.9h0M562.4 250.9h0M572.0 250.9h0M581.6 250.9h6.4M594.4 250.9h0M607.2 250.9h22.4M548.0 253.7h0M554.4 253.7h3.2M564.0 253.7h0M573.6 253.7h9.6M589.6 253.7h0M596.0 253.7h3.2M605.6 253.7h16.0M628.0 253.7h3.2M543.2 256.5h6.4M562.4 256.5h0M572.0 256.5h0M584.8 256.5h3.2M597.6 256.5h0M607.2 256.5h6.4M620.0 256.5h0M626.4 256.5h6.4M535.2 259.2h16.0M564.0 259.2h0M580.0 259.2h3.2M592.8 259.2h0M599.2 259.2h38.4M530.4 262.0h25.6M568.8 262.0h6.4M584.8 262.0h9.6M600.8 262.0h0M607.2 262.0h28.8M509.6 264.8h0M522.4 264.8h32.0M580.0 264.8h0M589.6 264.8h0M596.0 264.8h0M605.6 264.8h35.2M524.0 267.6h3.2M533.6 267.6h0M604.0 267.6h16.0M626.4 267.6h0M636.0 267.6h3.2M506.4 270.3h0M522.4 270.3h0M605.6 270.3h28.8M640.8 270.3h3.2M610.4 273.1h28.8M645.6 273.1h3.2M605.6 275.9h0M615.2 275.9h12.8M634.4 275.9h16.0M488.8 278.6h0M620.0 278.6h6.4M632.8 278.6h16.0M592.8 281.4h0M624.8 281.4h0M631.2 281.4h19.2M620.0 284.2h12.8M639.2 284.2h3.2M648.8 284.2h0M655.2 284.2h0M493.6 286.9h0M605.6 286.9h0M624.8 286.9h32.0M620.0 289.7h25.6M658.4 289.7h0M442.4 292.5h0M621.6 292.5h22.4M650.4 292.5h0M656.8 292.5h3.2M444.0 295.2h0M559.2 295.2h0M626.4 295.2h19.2M652.0 295.2h0M445.6 298.0h0M621.6 298.0h12.8M640.8 298.0h6.4M663.2 298.0h0M440.8 300.8h0M447.2 300.8h0M623.2 300.8h0M629.6 300.8h3.2M639.2 300.8h0M645.6 300.8h3.2M664.8 300.8h0M439.2 303.6h3.2M621.6 303.6h3.2M634.4 303.6h3.2M644.0 303.6h0M656.8 303.6h6.4M434.4 306.3h9.6M620.0 306.3h6.4M632.8 306.3h0M639.2 306.3h3.2M652.0 306.3h3.2M661.6 306.3h0M436.0 309.1h3.2M624.8 309.1h0M637.6 309.1h0M647.2 309.1h9.6M663.2 309.1h3.2M434.4 311.9h3.2M645.6 311.9h9.6M661.6 311.9h3.2M621.6 314.6h9.6M637.6 314.6h16.0M666.4 314.6h0M431.2 317.4h0M440.8 317.4h0M623.2 317.4h0M636.0 317.4h0M642.4 317.4h12.8M664.8 317.4h3.2M432.8 320.2h6.4M624.8 320.2h0M637.6 320.2h0M653.6 320.2h0M660.0 320.2h0M666.4 320.2h3.2M431.2 322.9h0M623.2 322.9h0M632.8 322.9h25.6M664.8 322.9h0M436.0 325.7h0M628.0 325.7h3.2M637.6 325.7h9.6M653.6 325.7h3.2M666.4 325.7h0M431.2 328.5h3.2M629.6 328.5h9.6M645.6 328.5h0M658.4 328.5h0M664.8 328.5h0M432.8 331.3h0M624.8 331.3h0M631.2 331.3h9.6M431.2 334.0h3.2M616.8 334.0h0M629.6 334.0h3.2M639.2 334.0h0M432.8 336.8h0M618.4 336.8h3.2M628.0 336.8h0M647.2 336.8h0M620.0 339.6h0M671.2 339.6h6.4M468.0 342.3h0M612.0 342.3h0M621.6 342.3h0M669.6 342.3h9.6M620.0 345.1h3.2M652.0 345.1h0M664.8 345.1h6.4M677.6 345.1h0M663.2 347.9h3.2M672.8 347.9h6.4M668.0 350.6h12.8M669.6 353.4h9.6M623.2 356.2h0M674.4 356.2h0M680.8 356.2h0M615.2 359.0h0M623.2 361.7h0M632.8 361.7h0M658.4 361.7h0M668.0 361.7h0M618.4 364.5h0M637.6 364.5h0M616.8 367.3h3.2M658.4 367.3h3.2M613.6 372.8h0M626.4 372.8h0M621.6 375.6h3.2M610.4 378.3h3.2M620.0 378.3h0M618.4 381.1h0M666.4 381.1h0M616.8 383.9h0M624.8 386.7h0M656.8 386.7h3.2M669.6 386.7h0M652.0 389.4h0M608.8 392.2h0M615.2 392.2h6.4M565.6 395.0h0M610.4 395.0h6.4M639.2 395.0h0M608.8 397.7h0M615.2 397.7h0M610.4 400.5h0M618.4 403.3h0M631.2 403.3h0M604.0 406.0h0M636.0 406.0h0M648.8 406.0h3.2M605.6 408.8h0M597.6 411.6h0M604.0 411.6h0M599.2 414.4h0M605.6 414.4h0M612.0 414.4h3.2M608.8 419.9h0M650.4 419.9h0M607.2 422.7h0M632.8 422.7h0M605.6 425.4h0M612.0 425.4h0M640.8 425.4h0M632.8 428.2h0M490.4 431.0h0M556.0 433.7h0M565.6 433.7h0M610.4 433.7h0M487.2 436.5h0M500.0 436.5h0M519.2 436.5h0M535.2 436.5h0M628.0 436.5h0M520.8 439.3h0M527.2 439.3h0M562.4 439.3h0M503.2 442.1h3.2M532.0 442.1h0M557.6 442.1h0M596.0 442.1h0M605.6 442.1h0M514.4 444.8h0M559.2 444.8h0M528.8 453.1h0M554.4 453.1h0M517.6 455.9h0M541.6 458.7h0M511.2 461.4h0M533.6 461.4h0" stroke="#C93D22" stroke-width="3.5" stroke-linecap="round" fill="none"/>
<path d="M567.2 264.8h6.4M476.0 267.6h0M530.4 267.6h0M536.8 267.6h60.8M519.2 270.3h0M525.6 270.3h57.6M592.8 270.3h9.6M501.6 273.1h3.2M511.2 273.1h16.0M533.6 273.1h73.6M455.2 275.9h0M496.8 275.9h105.6M608.8 275.9h0M492.0 278.6h118.4M484.0 281.4h38.4M528.8 281.4h60.8M596.0 281.4h16.0M482.4 284.2h131.2M477.6 286.9h9.6M496.8 286.9h48.0M551.2 286.9h51.2M608.8 286.9h6.4M440.8 289.7h0M472.8 289.7h144.0M468.0 292.5h6.4M480.8 292.5h35.2M522.4 292.5h64.0M592.8 292.5h22.4M440.8 295.2h0M466.4 295.2h25.6M501.6 295.2h54.4M562.4 295.2h54.4M464.8 298.0h76.8M551.2 298.0h6.4M564.0 298.0h44.8M615.2 298.0h3.2M460.0 300.8h76.8M543.2 300.8h3.2M568.8 300.8h3.2M581.6 300.8h6.4M594.4 300.8h22.4M452.0 303.6h60.8M519.2 303.6h3.2M528.8 303.6h3.2M583.2 303.6h0M589.6 303.6h0M596.0 303.6h22.4M453.6 306.3h51.2M514.4 306.3h0M562.4 306.3h0M588.0 306.3h28.8M442.4 309.1h57.6M592.8 309.1h19.2M618.4 309.1h0M447.2 311.9h44.8M514.4 311.9h0M520.8 311.9h0M597.6 311.9h22.4M436.0 314.6h0M445.6 314.6h44.8M500.0 314.6h0M522.4 314.6h0M538.4 314.6h0M599.2 314.6h19.2M444.0 317.4h41.6M492.0 317.4h0M527.2 317.4h0M597.6 317.4h22.4M442.4 320.2h41.6M541.6 320.2h3.2M596.0 320.2h0M605.6 320.2h9.6M434.4 322.9h41.6M546.4 322.9h3.2M559.2 322.9h0M568.8 322.9h0M600.8 322.9h19.2M439.2 325.7h38.4M564.0 325.7h0M580.0 325.7h0M599.2 325.7h19.2M440.8 328.5h35.2M556.0 328.5h0M597.6 328.5h19.2M436.0 331.3h0M442.4 331.3h3.2M452.0 331.3h19.2M557.6 331.3h0M599.2 331.3h22.4M440.8 334.0h32.0M588.0 334.0h0M604.0 334.0h9.6M439.2 336.8h32.0M564.0 336.8h0M599.2 336.8h16.0M444.0 339.6h6.4M456.8 339.6h0M463.2 339.6h3.2M565.6 339.6h0M600.8 339.6h16.0M442.4 342.3h0M464.8 342.3h0M564.0 342.3h0M599.2 342.3h9.6M615.2 342.3h0M450.4 345.1h0M591.2 345.1h0M597.6 345.1h3.2M607.2 345.1h6.4M461.6 347.9h3.2M596.0 347.9h22.4M434.4 350.6h0M463.2 350.6h0M565.6 350.6h0M575.2 350.6h0M597.6 350.6h16.0M620.0 350.6h0M586.4 353.4h3.2M596.0 353.4h16.0M437.6 356.2h0M578.4 356.2h0M588.0 356.2h0M594.4 356.2h19.2M455.2 359.0h0M580.0 359.0h0M586.4 359.0h25.6M434.4 361.7h0M440.8 361.7h0M453.6 361.7h3.2M469.6 361.7h0M578.4 361.7h32.0M439.2 364.5h3.2M452.0 364.5h6.4M471.2 364.5h0M576.8 364.5h32.0M456.8 367.3h0M463.2 367.3h0M578.4 367.3h32.0M436.0 370.0h0M468.0 370.0h0M573.6 370.0h0M580.0 370.0h32.0M434.4 372.8h6.4M575.2 372.8h0M581.6 372.8h28.8M439.2 375.6h0M458.4 375.6h0M464.8 375.6h0M570.4 375.6h0M576.8 375.6h35.2M447.2 378.3h0M463.2 378.3h0M565.6 378.3h0M572.0 378.3h3.2M584.8 378.3h22.4M445.6 381.1h3.2M471.2 381.1h0M570.4 381.1h0M580.0 381.1h28.8M444.0 383.9h3.2M568.8 383.9h6.4M581.6 383.9h25.6M445.6 386.7h3.2M461.6 386.7h0M567.2 386.7h9.6M583.2 386.7h22.4M444.0 389.4h3.2M476.0 389.4h0M562.4 389.4h12.8M581.6 389.4h28.8M445.6 392.2h0M560.8 392.2h44.8M485.6 395.0h0M511.2 395.0h0M559.2 395.0h3.2M568.8 395.0h3.2M581.6 395.0h22.4M564.0 397.7h6.4M576.8 397.7h25.6M565.6 400.5h9.6M581.6 400.5h19.2M506.4 403.3h0M567.2 403.3h32.0M612.0 403.3h0M514.4 406.0h0M575.2 406.0h22.4M607.2 406.0h0M461.6 408.8h0M570.4 408.8h0M580.0 408.8h19.2M615.2 408.8h0M581.6 411.6h12.8M554.4 414.4h0M583.2 414.4h9.6M485.6 417.1h0M517.6 417.1h0M562.4 417.1h0M575.2 417.1h0M581.6 417.1h3.2M504.8 422.7h0M610.4 422.7h0M533.6 428.2h0M524.0 433.7h0" stroke="#EEF4B4" stroke-width="3.5" stroke-linecap="round" fill="none"/>
<path d="M514.4 250.9h0M514.4 256.5h0M493.6 259.2h0M504.8 262.0h0M586.4 264.8h0M586.4 270.3h3.2M469.6 273.1h0M530.4 273.1h0M525.6 281.4h0M474.4 286.9h0M490.4 286.9h0M548.0 286.9h0M463.2 289.7h0M477.6 292.5h0M519.2 292.5h0M589.6 292.5h0M495.2 295.2h3.2M544.8 298.0h0M612.0 298.0h0M591.2 300.8h0M592.8 303.6h0M615.2 309.1h0M621.6 309.1h0M623.2 311.9h3.2M599.2 320.2h3.2M597.6 322.9h0M623.2 328.5h0M448.8 331.3h0M620.0 334.0h0M453.6 339.6h0M460.0 339.6h0M445.6 342.3h3.2M455.2 342.3h6.4M440.8 345.1h0M447.2 345.1h0M460.0 345.1h3.2M604.0 345.1h0M439.2 347.9h19.2M468.0 347.9h0M440.8 350.6h19.2M469.6 350.6h0M439.2 353.4h28.8M434.4 356.2h0M440.8 356.2h6.4M453.6 356.2h16.0M591.2 356.2h0M432.8 359.0h12.8M458.4 359.0h9.6M437.6 361.7h0M444.0 361.7h6.4M460.0 361.7h6.4M620.0 361.7h0M445.6 364.5h3.2M461.6 364.5h6.4M437.6 367.3h0M444.0 367.3h9.6M466.4 367.3h3.2M439.2 370.0h22.4M471.2 370.0h3.2M615.2 370.0h0M444.0 372.8h3.2M453.6 372.8h6.4M469.6 372.8h0M616.8 372.8h3.2M445.6 375.6h9.6M471.2 375.6h0M444.0 378.3h0M450.4 378.3h3.2M469.6 378.3h6.4M439.2 381.1h3.2M452.0 381.1h0M458.4 381.1h9.6M480.8 381.1h0M615.2 381.1h0M450.4 383.9h16.0M472.8 383.9h6.4M610.4 383.9h0M455.2 386.7h3.2M464.8 386.7h16.0M608.8 386.7h0M621.6 386.7h0M450.4 389.4h22.4M482.4 389.4h0M613.6 389.4h3.2M448.8 392.2h35.2M490.4 392.2h0M557.6 392.2h0M447.2 395.0h22.4M482.4 395.0h0M488.8 395.0h3.2M607.2 395.0h0M620.0 395.0h0M452.0 397.7h6.4M464.8 397.7h28.8M554.4 397.7h6.4M605.6 397.7h0M450.4 400.5h54.4M546.4 400.5h16.0M455.2 403.3h0M461.6 403.3h41.6M509.6 403.3h6.4M544.8 403.3h19.2M456.8 406.0h35.2M498.4 406.0h12.8M517.6 406.0h3.2M527.2 406.0h35.2M568.8 406.0h3.2M464.8 408.8h0M471.2 408.8h16.0M493.6 408.8h44.8M544.8 408.8h22.4M576.8 408.8h0M602.4 408.8h0M463.2 411.6h0M469.6 411.6h6.4M482.4 411.6h44.8M533.6 411.6h44.8M600.8 411.6h0M607.2 411.6h0M468.0 414.4h22.4M496.8 414.4h3.2M506.4 414.4h12.8M525.6 414.4h25.6M557.6 414.4h22.4M596.0 414.4h0M602.4 414.4h0M469.6 417.1h12.8M488.8 417.1h25.6M520.8 417.1h6.4M533.6 417.1h12.8M552.8 417.1h6.4M565.6 417.1h3.2M578.4 417.1h0M474.4 419.9h0M480.8 419.9h41.6M528.8 419.9h22.4M557.6 419.9h16.0M583.2 419.9h3.2M596.0 419.9h0M476.0 422.7h0M482.4 422.7h6.4M495.2 422.7h6.4M508.0 422.7h60.8M575.2 422.7h0M594.4 422.7h0M477.6 425.4h3.2M487.2 425.4h3.2M496.8 425.4h57.6M567.2 425.4h0M602.4 425.4h0M472.8 428.2h0M479.2 428.2h0M495.2 428.2h35.2M536.8 428.2h16.0M559.2 428.2h0M487.2 431.0h0M500.0 431.0h16.0M525.6 431.0h3.2M586.4 431.0h0M488.8 433.7h0M508.0 433.7h0M520.8 433.7h0M527.2 433.7h0M533.6 433.7h0M588.0 433.7h0M493.6 436.5h0M509.6 436.5h0M528.8 436.5h0M557.6 436.5h0M573.6 436.5h0M501.6 439.3h0M581.6 439.3h0M591.2 439.3h0M548.0 442.1h0M573.6 442.1h0M530.4 444.8h0M540.0 444.8h0M552.8 444.8h0M522.4 447.6h3.2M570.4 447.6h0M549.6 450.4h0M562.4 450.4h0M541.6 453.1h0M551.2 453.1h0M573.6 453.1h3.2M536.8 455.9h0M546.4 455.9h0M551.2 458.7h0M504.8 461.4h0M520.8 461.4h6.4" stroke="#5B12A0" stroke-width="3.5" stroke-linecap="round" fill="none"/>
<path d="M517.6 311.9h0M496.8 314.6h0M503.2 314.6h16.0M528.8 314.6h0M488.8 317.4h0M495.2 317.4h28.8M530.4 317.4h9.6M487.2 320.2h22.4M525.6 320.2h9.6M548.0 320.2h0M479.2 322.9h12.8M533.6 322.9h9.6M480.8 325.7h9.6M535.2 325.7h19.2M479.2 328.5h6.4M543.2 328.5h9.6M474.4 331.3h9.6M548.0 331.3h6.4M476.0 334.0h6.4M552.8 334.0h6.4M474.4 336.8h6.4M557.6 336.8h3.2M469.6 339.6h12.8M559.2 339.6h3.2M452.0 342.3h0M471.2 342.3h9.6M567.2 342.3h0M469.6 345.1h9.6M562.4 345.1h6.4M471.2 347.9h3.2M567.2 347.9h6.4M472.8 350.6h6.4M568.8 350.6h3.2M471.2 353.4h6.4M567.2 353.4h6.4M472.8 356.2h6.4M568.8 356.2h6.4M471.2 359.0h9.6M567.2 359.0h9.6M472.8 361.7h6.4M565.6 361.7h6.4M436.0 364.5h0M474.4 364.5h6.4M570.4 364.5h3.2M472.8 367.3h9.6M565.6 367.3h6.4M477.6 370.0h6.4M567.2 370.0h3.2M472.8 372.8h9.6M565.6 372.8h6.4M474.4 375.6h9.6M567.2 375.6h0M479.2 378.3h9.6M559.2 378.3h0M568.8 378.3h0M477.6 381.1h0M484.0 381.1h6.4M560.8 381.1h6.4M482.4 383.9h12.8M559.2 383.9h6.4M452.0 386.7h0M484.0 386.7h25.6M554.4 386.7h9.6M479.2 389.4h0M485.6 389.4h3.2M495.2 389.4h16.0M527.2 389.4h6.4M549.6 389.4h9.6M487.2 392.2h0M493.6 392.2h60.8M479.2 395.0h0M495.2 395.0h12.8M514.4 395.0h41.6M496.8 397.7h54.4M508.0 400.5h35.2M519.2 403.3h22.4M524.0 406.0h0M493.6 414.4h0M599.2 419.9h0M560.8 425.4h0M570.4 431.0h0M549.6 433.7h0M522.4 436.5h0M527.2 444.8h0M528.8 447.6h0M551.2 447.6h0M564.0 447.6h0M514.4 450.4h0M554.4 458.7h0" stroke="#DDB585" stroke-width="3.5" stroke-linecap="round" fill="none"/>
<path d="M548.0 298.0h0M560.8 298.0h0M540.0 300.8h0M549.6 300.8h16.0M575.2 300.8h3.2M516.0 303.6h0M535.2 303.6h44.8M586.4 303.6h0M508.0 306.3h3.2M517.6 306.3h41.6M565.6 306.3h19.2M503.2 309.1h86.4M495.2 311.9h16.0M524.0 311.9h22.4M552.8 311.9h35.2M594.4 311.9h0M493.6 314.6h0M525.6 314.6h0M532.0 314.6h3.2M541.6 314.6h54.4M543.2 317.4h51.2M538.4 320.2h0M551.2 320.2h41.6M552.8 322.9h3.2M562.4 322.9h3.2M572.0 322.9h22.4M557.6 325.7h3.2M567.2 325.7h9.6M583.2 325.7h12.8M559.2 328.5h35.2M560.8 331.3h35.2M562.4 334.0h22.4M591.2 334.0h9.6M567.2 336.8h28.8M568.8 339.6h28.8M570.4 342.3h25.6M572.0 345.1h16.0M594.4 345.1h0M477.6 347.9h0M576.8 347.9h16.0M578.4 350.6h12.8M576.8 353.4h6.4M592.8 353.4h0M581.6 356.2h3.2M583.2 359.0h0M575.2 361.7h0M575.2 367.3h0M576.8 370.0h0M578.4 372.8h0M573.6 375.6h0M578.4 378.3h3.2M573.6 381.1h3.2M578.4 383.9h0M580.0 386.7h0M492.0 389.4h0M578.4 389.4h0M575.2 395.0h3.2M573.6 397.7h0M578.4 400.5h0" stroke="#229150" stroke-width="3.5" stroke-linecap="round" fill="none"/>
<path d="M512.8 320.2h9.6M495.2 322.9h35.2M493.6 325.7h38.4M488.8 328.5h51.2M487.2 331.3h57.6M485.6 334.0h64.0M484.0 336.8h70.4M485.6 339.6h70.4M484.0 342.3h76.8M482.4 345.1h76.8M480.8 347.9h83.2M482.4 350.6h80.0M480.8 353.4h83.2M482.4 356.2h83.2M484.0 359.0h80.0M482.4 361.7h80.0M484.0 364.5h83.2M485.6 367.3h76.8M487.2 370.0h76.8M485.6 372.8h76.8M487.2 375.6h76.8M492.0 378.3h64.0M562.4 378.3h0M493.6 381.1h64.0M498.4 383.9h57.6M512.8 386.7h38.4M514.4 389.4h9.6M536.8 389.4h9.6" stroke="#4BAAD9" stroke-width="3.5" stroke-linecap="round" fill="none"/>
<path d="M525.6 303.6h0M549.6 311.9h0M591.2 311.9h0M594.4 350.6h0" stroke="#9B9DA2" stroke-width="3.5" stroke-linecap="round" fill="none"/>
<rect x="652.4" y="226.6" width="29.1" height="7.5" fill="#000"/>
<path d="M928.2 232.2h5.0M940.6 232.5h0M903.7 234.6h0M911.0 234.4h9.2M930.3 234.3h1.8M937.1 234.0h4.3M944.4 234.5h4.1M892.6 236.5h0M899.6 236.8h5.3M909.8 236.3h13.8M933.3 236.1h4.7M943.0 236.9h2.4M949.8 236.3h10.2M964.5 236.4h2.5M874.5 238.7h0M886.6 238.5h7.0M898.8 238.5h11.3M913.0 238.4h9.6M932.0 238.5h0M936.6 238.7h9.9M949.5 238.4h2.2M955.9 238.3h19.6M873.5 240.5h4.4M880.9 240.6h9.1M897.7 240.6h28.1M928.8 240.6h3.9M935.5 240.7h11.7M950.1 240.1h2.5M957.9 240.7h3.7M966.8 240.4h4.9M976.7 240.7h4.5M870.3 242.9h1.6M874.9 243.2h4.2M882.1 242.5h9.0M896.3 242.8h1.8M903.5 242.6h2.2M910.5 242.7h2.5M917.9 242.8h0M922.2 242.8h19.4M944.7 242.7h0M949.2 243.0h11.8M968.4 242.6h19.0M858.9 245.0h2.4M866.6 244.8h1.7M871.2 244.9h9.4M885.1 244.3h19.2M909.7 244.9h27.9M943.1 244.7h2.3M950.2 244.7h19.0M973.9 244.8h2.9M858.0 246.6h4.8M869.8 247.1h2.5M877.0 247.2h2.2M882.2 247.5h6.9M893.6 247.0h0M896.5 247.0h9.5M910.7 247.1h0M917.9 246.9h5.0M927.5 246.7h0M931.4 247.2h0M936.9 246.8h0M940.0 246.8h1.7M946.5 246.6h0M954.0 247.0h2.1M961.0 247.1h24.0M849.1 248.3h12.2M864.2 249.0h2.1M871.0 248.9h12.0M888.0 249.0h11.5M907.0 248.8h2.1M912.1 249.0h8.9M928.8 248.7h0M935.6 248.8h0M938.5 248.6h9.2M952.6 248.7h16.4M974.2 249.2h0M981.7 249.1h4.4M990.9 249.0h2.7M845.9 251.3h16.1M867.4 251.4h2.3M874.6 251.0h28.6M913.3 251.2h9.4M927.3 251.3h4.6M937.1 251.2h7.0M949.1 251.1h4.4M968.7 251.0h13.8M989.9 250.8h0M993.1 251.0h1.9M836.9 253.6h0M839.9 253.7h4.6M849.6 253.7h4.7M859.3 253.1h0M863.9 253.1h18.5M885.6 253.0h9.0M897.5 253.4h14.4M916.6 253.5h0M920.9 253.5h0M923.9 253.5h4.5M931.4 253.4h9.2M947.8 253.2h2.5M955.2 253.1h4.9M966.9 253.0h2.2M972.4 253.1h11.2M988.7 253.6h4.6M998.6 253.1h0M838.5 255.3h4.9M848.4 255.6h0M852.8 255.5h7.2M864.8 255.3h2.0M869.9 255.5h4.6M881.7 255.4h14.4M900.9 255.3h24.1M927.9 254.8h0M932.0 255.5h0M939.4 255.5h0M946.7 255.4h1.9M956.3 254.9h4.7M966.0 255.4h1.9M970.8 255.0h2.4M977.6 255.4h7.1M994.9 255.6h4.5M832.4 257.8h0M837.1 257.5h0M840.2 257.7h11.6M856.4 257.2h2.6M866.2 257.8h0M869.1 257.3h2.2M875.7 257.2h11.7M890.4 257.8h9.0M904.8 257.3h0M909.6 257.3h21.5M940.6 257.0h21.3M967.2 257.5h0M971.5 257.5h0M977.0 257.5h11.5M995.7 257.6h0M829.0 259.8h7.4M841.4 259.9h8.9M859.9 259.9h10.0M879.7 259.6h2.2M886.5 259.6h4.6M894.3 259.4h6.2M903.4 259.5h2.2M908.6 259.7h11.7M924.5 259.8h0M927.9 259.6h6.4M937.4 259.5h3.9M944.5 259.6h7.0M958.4 259.8h2.3M963.9 259.2h13.8M982.7 259.1h7.1M825.5 261.6h14.3M844.5 261.3h26.2M876.0 261.5h6.9M885.8 261.9h0M889.9 261.4h2.7M897.4 262.0h14.2M914.8 261.5h3.7M921.8 261.3h23.4M948.1 261.3h4.9M959.7 261.6h19.6M984.0 261.6h0M988.5 262.0h2.7M824.0 264.1h24.0M853.1 263.7h21.2M877.6 263.7h4.6M886.1 263.4h21.7M910.9 263.8h13.9M928.0 263.3h4.2M935.1 263.6h47.3M990.0 263.4h2.0M820.8 265.4h0M825.4 266.0h21.1M854.6 265.7h6.9M864.6 266.0h1.6M869.3 265.6h11.4M883.6 266.2h20.6M918.7 265.9h0M928.8 265.7h2.3M942.8 266.1h0M947.8 265.6h16.5M972.0 265.8h9.7M988.8 265.7h2.6M995.4 266.0h0M1007.8 265.6h0M814.5 268.1h0M819.7 268.1h11.9M836.4 267.8h4.8M846.0 267.8h19.1M872.1 267.8h11.9M889.2 267.7h0M925.0 268.2h0M949.0 267.7h43.0M999.1 267.9h0M815.9 270.2h11.5M837.4 269.8h1.8M845.0 269.8h1.7M849.8 269.5h7.0M860.9 270.3h19.6M888.2 270.2h0M955.3 269.9h0M960.0 269.2h4.6M969.5 270.1h5.0M981.2 269.7h7.6M993.3 270.3h2.4M812.2 272.2h4.5M821.8 272.0h4.6M835.9 272.3h25.9M869.5 272.3h2.8M965.9 272.2h9.2M980.6 272.2h14.2M999.5 272.4h0M1009.0 272.2h0M1013.6 272.4h0M810.8 274.6h17.2M835.2 274.6h0M839.5 274.3h0M842.4 274.0h26.1M971.7 274.4h14.4M989.0 274.5h11.5M1010.1 274.4h0M809.8 276.2h0M816.9 276.3h5.2M826.0 276.5h0M829.1 276.2h2.1M841.0 276.4h24.3M869.8 276.7h0M970.6 276.5h12.2M989.8 276.4h12.1M810.8 278.4h0M815.8 278.1h26.2M845.2 278.3h0M852.0 278.4h5.1M974.6 278.0h6.7M991.1 278.2h14.4M802.4 280.3h0M805.3 280.6h9.5M819.4 280.9h0M823.9 280.3h5.1M833.6 280.5h12.4M850.4 280.4h2.3M987.2 280.3h12.5M1003.9 280.4h0M1011.2 280.4h0M801.8 283.0h9.5M815.9 282.8h6.5M825.4 282.6h19.0M849.6 282.9h0M983.9 282.6h2.2M991.0 282.8h0M993.9 282.7h1.9M998.7 282.8h7.0M1015.2 282.5h2.0M800.1 284.7h12.3M819.4 284.6h18.7M841.0 284.8h2.3M846.2 284.9h0M982.4 284.3h0M985.4 285.0h0M992.5 284.3h11.5M799.1 286.8h11.6M815.5 286.7h2.3M823.3 286.6h4.5M832.7 286.8h4.3M840.0 287.1h4.7M983.7 287.0h2.8M991.0 286.8h17.0M1015.2 286.5h0M797.4 288.5h2.7M803.2 289.0h6.5M814.4 288.5h0M817.4 288.5h2.2M824.1 289.1h7.4M839.2 288.6h2.1M989.6 289.0h9.5M1006.7 288.8h2.6M791.9 291.1h4.6M799.5 291.0h0M803.0 291.0h0M808.5 290.7h0M813.4 290.9h7.4M829.6 291.1h10.3M989.0 290.9h1.4M993.4 290.8h14.6M1022.3 291.2h0M795.0 293.2h0M798.5 292.9h0M802.7 293.7h0M807.4 293.1h9.5M819.9 293.0h0M829.0 293.4h0M833.8 292.8h5.0M989.6 292.8h2.9M996.9 293.6h0M1001.8 292.7h7.3M1023.5 292.8h0M791.8 294.9h5.1M801.3 295.5h2.4M808.9 295.5h0M813.0 295.0h12.7M830.1 295.5h4.9M988.6 295.1h11.7M1005.1 295.6h2.6M790.4 297.4h0M795.2 297.3h2.4M802.3 297.3h0M805.3 297.6h18.8M828.9 297.5h0M992.0 297.2h7.3M1007.0 297.0h0M792.1 299.6h4.4M804.0 298.9h12.0M830.0 298.6h0M993.8 299.2h4.4M1005.9 299.1h4.2M1017.4 299.5h2.5M790.7 301.4h4.1M798.0 301.5h0M802.9 301.6h4.1M810.0 301.8h0M814.7 301.4h4.5M994.4 301.4h17.3M787.3 304.3h0M791.8 303.9h0M796.5 304.1h0M803.8 304.0h0M808.4 303.8h7.5M820.5 303.5h0M988.3 303.6h0M995.7 303.6h0M998.7 303.6h1.8M1005.5 303.6h0M788.7 305.4h0M792.9 305.6h0M802.6 305.8h0M807.4 305.6h9.5M824.1 306.1h0M994.7 305.8h7.1M1007.0 306.0h1.8M1018.5 305.7h0M1023.4 305.5h0M787.4 307.8h1.7M792.2 307.9h0M796.5 307.7h2.4M803.9 308.3h0M813.0 307.2h0M818.4 308.0h2.3M996.0 307.9h7.0M1010.4 307.6h0M1021.2 308.0h0M787.5 309.6h0M790.6 309.8h6.7M800.7 309.8h0M996.9 310.1h11.8M786.9 311.8h0M790.1 311.7h9.0M808.6 311.7h0M813.6 311.8h0M911.8 312.2h0M996.2 312.1h14.2M1021.9 311.9h0M786.0 314.3h6.8M802.3 313.9h0M809.6 314.3h0M814.4 314.3h0M997.2 313.9h1.8M1004.2 314.1h2.0M1011.2 313.9h2.6M784.7 316.2h2.0M789.8 315.9h6.2M806.4 316.1h0M997.6 316.7h0M1000.8 316.3h0M1005.1 316.3h7.6M783.6 318.4h14.4M803.0 318.5h0M807.4 318.4h2.2M1003.8 318.2h0M1006.8 319.0h0M1018.5 318.4h0M782.5 320.2h4.1M799.0 320.1h0M1002.9 320.3h2.4M1010.2 320.7h2.5M782.8 322.8h0M785.8 322.7h9.4M800.2 322.8h0M816.9 322.5h0M996.9 322.7h0M1001.9 322.7h0M1009.0 322.6h0M784.5 324.7h5.1M792.5 324.6h2.0M806.1 324.2h0M1000.7 324.5h7.2M1019.7 324.4h0M783.4 326.8h0M788.0 326.7h7.3M805.2 326.5h0M992.3 326.5h0M1001.8 327.1h0M1006.7 326.2h2.5M1013.5 326.6h0M782.3 328.6h2.2M789.4 329.2h4.7M801.6 329.0h0M907.0 329.3h0M995.8 328.7h0M1005.0 328.7h5.1M781.0 330.9h0M785.8 330.7h6.8M807.5 330.7h0M1001.4 330.6h0M1006.6 330.6h2.6M782.2 332.9h0M793.8 333.0h0M811.1 332.7h0M1005.4 333.1h2.2M1010.6 333.0h1.8M781.1 334.9h2.4M790.6 335.3h4.7M999.5 335.1h0M1006.6 335.4h2.2M1021.5 335.3h0M779.8 337.2h0M787.2 337.0h7.1M809.0 337.2h0M997.8 337.2h0M1005.9 337.1h1.9M786.1 339.3h6.5M806.9 338.9h0M812.2 339.4h0M1002.5 339.1h3.9M1020.8 339.5h0M782.3 341.3h14.2M995.8 341.0h9.6M1012.6 341.2h0M781.2 344.0h0M786.0 343.8h6.7M802.8 343.3h0M990.0 343.5h0M996.9 343.9h11.7M779.6 345.3h2.5M787.1 345.1h1.8M794.2 345.1h0M998.5 345.4h2.0M1010.2 345.7h0M1017.2 345.6h2.7M778.8 347.4h14.1M802.6 347.6h0M1002.0 347.4h4.4M779.8 349.5h4.7M789.5 349.5h0M793.9 349.6h0M801.7 349.6h0M990.9 349.7h2.4M1003.3 349.8h2.0M1010.5 349.6h0M783.6 351.8h2.3M791.1 351.6h0M795.4 352.0h0M1001.9 351.8h4.8M1014.1 352.1h2.1M784.5 353.9h4.8M804.0 354.1h2.0M1002.7 354.6h5.1M780.8 356.3h4.6M788.4 356.0h4.6M800.4 356.1h0M1002.0 355.7h2.4M1011.4 356.3h0M779.6 358.2h0M787.0 357.8h4.7M998.5 358.3h6.8M781.3 360.4h0M788.4 359.9h2.5M800.0 360.5h0M941.7 360.7h0M994.5 360.6h0M999.5 360.4h4.1M779.7 362.4h2.4M787.2 362.3h2.0M803.7 362.4h0M873.4 362.6h0M998.3 362.5h7.1M780.6 364.2h0M783.5 364.2h0M788.3 365.0h2.3M805.1 364.4h0M992.6 364.5h0M1001.8 364.1h2.3M781.8 366.8h0M788.9 366.6h0M998.4 366.8h7.2M1012.0 366.9h0M780.4 368.6h2.8M788.3 368.9h1.9M803.0 369.1h0M996.6 368.9h5.0M782.3 370.6h7.3M998.3 370.7h2.1M1012.4 371.0h0M783.8 372.8h1.7M790.2 373.0h5.1M906.3 372.6h0M992.1 372.8h0M1002.0 372.9h0M784.4 374.9h0M787.3 374.9h6.7M878.4 375.3h0M998.3 375.0h0M783.6 377.2h9.3M989.9 377.2h2.4M999.6 377.1h2.7M784.6 379.3h4.4M793.8 379.0h0M798.9 379.5h0M996.0 378.6h7.0M783.5 381.5h0M788.8 381.4h6.7M991.7 381.4h2.5M997.5 381.3h0M784.6 383.3h9.3M801.3 383.3h0M984.0 383.6h0M993.2 383.8h2.2M785.5 385.3h9.9M802.7 385.4h0M987.5 385.5h0M992.2 386.1h0M784.6 387.4h12.0M801.7 387.7h0M981.6 387.7h0M991.3 387.8h4.4M785.4 389.7h7.8M896.2 389.2h0M910.8 389.7h0M989.9 389.4h11.7M787.0 392.1h0M791.8 391.8h2.3M803.8 391.7h0M990.8 392.1h4.9M1000.2 392.3h2.8M787.9 393.8h5.3M798.1 393.9h2.5M985.0 393.3h0M991.9 393.7h7.5M787.1 395.9h0M792.0 396.0h0M796.6 395.7h0M810.7 396.0h0M976.7 396.0h0M988.3 395.6h0M991.2 395.8h0M996.1 396.1h1.5M788.0 398.0h7.5M975.1 397.7h0M987.4 398.1h4.9M999.5 398.3h0M1004.4 398.2h0M792.1 400.1h4.7M980.9 400.3h0M986.0 400.1h12.1M1003.7 399.9h0M788.1 402.3h0M793.2 402.0h6.6M814.8 402.1h0M985.1 402.4h2.0M992.4 402.2h2.2M999.3 402.3h0M793.8 404.5h2.9M801.4 404.5h0M809.1 404.4h0M986.1 404.5h2.6M993.3 404.6h2.8M790.4 406.7h0M814.5 406.6h0M978.0 406.5h0M982.8 406.6h11.6M999.2 406.7h2.0M794.3 408.7h2.4M801.4 409.0h0M984.2 408.9h0M991.0 408.9h2.3M790.5 410.9h9.7M987.5 410.4h2.3M994.3 410.2h2.4M791.9 412.5h11.8M974.1 412.4h0M981.4 412.9h2.7M988.7 412.8h0M795.8 415.0h2.5M802.5 414.9h4.9M821.5 415.0h0M972.7 414.9h0M978.2 414.9h9.3M992.4 414.4h0M996.9 415.2h0M796.7 417.3h2.4M804.0 417.0h4.2M817.8 417.1h0M820.9 417.3h0M967.3 417.0h0M978.8 417.2h0M983.7 417.0h2.8M795.2 418.9h11.8M814.5 418.9h0M821.4 418.8h0M972.6 419.2h0M982.3 419.0h2.5M796.5 421.4h7.3M829.8 421.2h0M962.3 421.2h0M969.8 420.8h16.1M795.1 423.3h9.6M826.5 423.0h0M973.4 423.1h6.9M985.0 423.4h4.8M797.0 425.0h8.8M810.8 425.5h0M957.7 425.2h0M974.7 425.6h0M979.9 425.6h0M986.2 425.3h0M797.9 427.3h7.1M810.0 427.1h2.2M829.6 427.5h0M956.0 427.7h0M975.1 427.7h5.4M799.2 429.6h11.2M828.0 430.0h0M964.8 429.7h11.9M988.3 429.7h2.5M799.6 431.6h0M802.8 431.7h9.1M834.1 432.0h0M966.1 431.7h0M970.6 432.1h2.6M977.6 432.0h2.3M801.6 434.1h9.2M836.9 434.3h0M842.1 434.0h0M964.7 433.8h2.3M971.9 433.7h2.1M979.3 433.6h0M802.5 435.2h10.3M836.5 435.9h0M843.7 435.9h0M953.5 435.8h2.5M961.4 436.2h14.1M979.9 435.7h0M801.5 438.2h4.9M811.4 438.2h4.4M964.8 437.9h6.9M802.7 440.2h6.6M812.4 440.1h4.5M838.2 440.1h0M944.5 440.0h0M951.3 440.2h2.4M958.5 440.0h2.2M966.3 440.4h0M973.0 440.0h2.6M979.6 440.1h0M803.5 442.2h9.7M816.1 442.6h2.1M823.2 441.9h2.2M830.2 442.1h0M835.3 442.3h0M954.9 442.2h14.0M978.8 442.0h0M804.9 444.4h7.5M817.0 444.4h2.8M824.0 444.5h4.6M831.7 444.1h2.1M855.3 444.4h0M956.6 444.1h11.8M975.5 444.3h2.6M982.3 444.5h0M805.8 446.4h19.5M830.3 446.5h2.1M842.0 446.3h0M921.2 446.6h0M947.7 446.3h5.0M957.4 446.5h4.3M965.0 446.2h0M969.7 446.3h0M804.7 448.4h7.2M815.0 448.5h4.3M823.9 448.5h10.1M845.7 448.5h0M927.9 448.2h0M944.0 448.9h0M951.5 448.6h7.2M970.2 448.5h0M975.2 448.3h0M806.2 450.6h7.5M823.3 450.7h11.7M844.5 450.6h2.1M904.4 450.7h0M933.4 450.1h0M942.7 450.3h0M947.9 450.1h4.8M960.1 450.5h0M810.3 452.3h4.2M819.6 452.8h0M826.4 452.8h0M831.0 452.6h0M836.2 452.9h0M846.0 452.5h0M920.1 452.4h0M935.1 452.8h0M939.3 452.8h7.3M951.6 452.5h0M956.2 452.3h0M970.3 452.9h0M811.5 454.7h1.8M818.1 454.6h7.5M830.4 455.3h2.6M837.3 454.4h2.4M852.0 454.5h0M933.6 454.9h0M937.7 454.7h7.6M949.9 454.6h2.5M967.1 455.0h0M971.8 455.0h0M810.1 456.7h30.9M845.8 456.7h0M857.8 456.7h0M862.3 457.1h0M872.0 457.1h0M898.7 456.7h0M922.5 456.8h0M934.3 456.7h12.4M952.0 457.2h0M956.2 457.1h2.6M963.4 457.1h0M813.5 459.0h0M817.9 459.3h2.4M830.6 458.6h8.7M846.9 459.3h0M854.0 459.0h0M866.6 459.0h0M926.1 459.2h4.8M936.0 458.7h16.6M812.5 461.5h9.0M824.4 461.5h17.0M852.9 461.1h2.4M864.7 461.1h0M891.6 461.2h0M925.1 461.0h2.0M932.2 461.0h9.9M946.9 461.4h0M953.8 461.1h0M818.4 463.3h0M821.3 463.1h11.0M835.5 463.5h4.1M844.5 463.5h0M850.1 463.1h1.4M858.9 463.2h0M866.3 462.9h0M871.3 462.9h2.2M904.9 463.3h0M921.4 463.5h4.6M931.1 462.6h4.7M947.7 463.3h0M952.6 463.0h0M959.8 464.0h0M814.7 465.3h14.5M833.8 465.1h2.1M842.9 465.2h0M850.3 465.1h0M855.4 465.3h2.5M876.0 465.5h0M893.7 465.3h0M905.6 465.7h0M920.0 465.3h2.4M927.1 465.3h7.2M937.3 465.4h2.3M818.4 467.4h9.4M844.3 467.2h0M852.2 467.5h0M856.7 467.6h0M863.7 467.6h4.5M873.8 467.6h0M878.1 467.8h0M883.3 467.4h7.0M897.3 467.5h0M900.2 467.5h0M905.2 467.2h4.0M914.3 467.6h0M921.1 467.4h2.4M935.6 467.3h0M952.5 467.7h0M817.2 469.3h0M821.9 469.8h9.3M848.6 469.2h2.3M857.9 470.0h14.4M882.0 469.8h2.3M889.0 469.3h0M893.5 469.4h2.3M899.1 469.8h0M903.3 469.9h12.1M920.5 469.2h0M925.1 469.5h2.4M820.5 471.4h0M825.7 471.5h0M832.6 471.4h0M847.1 471.4h2.0M852.1 471.4h4.2M859.2 471.1h13.9M877.9 471.5h2.8M885.6 471.6h1.8M890.3 471.6h4.4M897.8 471.2h9.1M913.9 471.3h2.7M929.0 471.6h2.2M945.6 472.0h0M950.5 471.9h0M824.4 473.7h7.0M846.0 473.3h0M857.7 474.3h0M866.9 474.0h0M870.3 473.7h3.6M879.5 473.7h14.1M898.8 473.7h6.9M912.8 474.1h0M925.0 473.8h0M929.9 473.5h0M823.3 475.6h0M827.8 475.9h2.4M851.5 476.0h0M864.0 475.8h1.8M871.0 475.9h2.8M878.2 475.9h16.8M899.5 475.5h0M907.1 475.3h2.6M933.1 475.7h0M826.9 477.8h0M831.6 478.0h2.2M867.4 477.9h0M872.4 477.5h4.9M882.0 477.9h9.2M903.8 478.1h0M913.1 478.1h2.5M922.8 477.9h0M847.0 480.2h0M870.9 480.3h0M887.6 479.9h0M892.2 479.8h5.3M916.5 479.6h0M930.9 480.4h2.4M829.1 482.2h0M850.7 482.3h0M855.1 482.5h0M895.9 482.2h0M901.2 482.3h0M846.9 484.2h0M863.7 484.0h0M868.3 484.0h0M885.0 484.4h2.6M894.9 484.5h0M924.1 484.3h0M835.9 486.3h5.2M874.6 486.4h2.6M891.2 486.0h0M896.2 486.3h0M915.2 487.1h2.7M847.2 488.3h0M852.1 488.3h0M866.3 488.2h0M878.4 488.5h0M888.3 488.2h2.2M841.2 490.3h0M846.0 490.3h0M851.0 490.7h0M862.6 490.5h5.2M874.6 490.9h0M842.3 492.6h9.1M856.6 492.5h0M861.4 492.4h4.4M885.4 492.9h0M889.8 492.6h0M894.9 492.6h2.5M872.1 495.1h0M879.4 494.5h0M886.7 494.4h0M851.7 496.4h0M865.8 496.9h2.8M873.4 496.7h0" stroke="#FDD233" stroke-width="2.55" stroke-linecap="round" fill="none"/>
<path d="M951.2 234.5h0M930.7 236.1h0M865.1 243.1h0M919.9 242.9h0M883.0 244.4h0M979.3 244.6h2.3M902.2 248.8h0M872.2 250.8h0M918.6 253.3h0M850.6 255.5h0M876.9 255.3h0M907.3 257.6h0M993.7 257.6h0M998.2 257.4h2.1M857.7 259.7h0M996.3 258.7h7.7M993.4 262.1h12.2M883.8 263.5h0M994.9 263.6h11.3M993.6 265.9h0M997.8 265.9h0M1000.8 265.5h4.7M994.4 268.3h2.6M1002.0 267.6h2.2M1009.5 267.9h0M967.0 270.4h0M998.3 270.0h2.3M1010.4 269.9h2.2M1001.5 272.3h5.0M1011.2 272.5h0M837.3 274.4h0M1003.8 274.2h1.2M1008.0 274.1h0M1012.6 274.0h0M1004.4 276.3h2.0M1009.3 276.2h0M1013.9 276.3h2.5M806.6 278.8h0M1007.3 278.1h2.9M1017.1 277.9h0M817.0 281.0h0M1002.0 280.8h0M1006.3 280.4h0M1009.3 280.3h0M1016.4 280.8h0M989.2 282.6h0M1007.6 282.9h4.9M1019.2 282.8h0M1006.4 284.5h2.3M1011.7 284.8h2.0M1018.6 284.6h0M829.6 286.7h0M1010.1 286.7h2.1M1017.6 286.5h0M1022.1 287.1h0M987.3 288.9h0M1011.2 289.2h9.5M811.6 291.1h0M1010.1 291.1h2.0M1015.6 291.2h4.7M999.9 293.4h0M1011.3 293.0h0M1018.4 293.1h2.8M1010.1 295.1h12.0M1009.1 297.1h0M1014.1 297.3h9.2M820.8 299.3h0M1014.8 299.5h0M826.9 301.7h0M1014.2 301.9h8.8M789.4 303.3h0M793.8 303.7h0M1017.0 303.7h0M1022.3 304.1h0M805.1 306.1h0M818.9 305.7h0M821.8 305.2h0M1011.3 305.8h4.9M1020.7 305.5h0M801.0 307.7h0M806.1 307.7h0M811.3 307.7h0M1015.0 307.7h5.1M1024.7 307.8h0M802.1 310.1h2.8M812.2 309.9h0M819.4 309.8h0M1013.8 309.4h9.2M801.4 311.8h2.1M810.7 312.0h0M815.7 311.6h0M1012.3 312.0h2.7M1019.9 312.2h0M798.0 314.1h2.5M805.3 314.2h2.6M817.0 314.1h0M1016.4 313.6h1.9M1023.7 313.7h0M799.5 316.2h4.3M813.2 316.2h5.1M1015.0 316.0h4.7M1024.4 316.2h0M1001.4 318.2h0M1009.4 317.9h6.7M1021.1 318.3h1.8M792.1 320.1h4.3M803.6 320.7h0M811.0 320.3h2.0M816.0 320.2h0M1019.6 320.1h2.1M802.6 322.7h2.5M1004.2 322.4h0M1011.2 322.9h0M1019.0 322.4h2.0M796.7 324.8h7.0M1012.6 324.5h4.6M1022.0 324.7h0M807.0 326.7h0M812.6 326.3h0M997.2 327.0h0M1011.4 326.6h0M1016.4 326.9h5.0M799.0 328.9h0M808.4 329.1h0M1013.0 329.2h6.6M797.7 331.0h2.2M802.9 331.3h2.3M809.8 331.3h0M1004.3 331.0h0M1011.1 331.2h0M1016.1 330.9h4.8M791.9 332.9h0M801.6 333.1h2.0M1017.3 333.2h2.9M797.9 335.1h0M802.9 335.2h0M809.9 335.1h0M997.0 335.0h0M1016.5 335.2h1.8M796.5 337.5h4.8M806.3 337.1h0M799.8 339.4h4.9M1008.6 339.0h0M1016.2 339.5h0M798.9 341.4h0M803.8 341.4h0M1010.1 341.4h0M1014.7 341.1h2.5M783.8 342.7h0M797.7 343.4h2.5M1011.4 343.2h7.0M784.5 345.4h0M791.8 345.5h0M801.4 345.8h0M1003.0 345.4h4.6M1011.1 348.2h0M1018.4 347.7h0M803.3 349.5h0M995.4 349.8h0M1007.9 349.8h0M798.1 351.6h1.8M1009.2 352.0h1.9M781.9 354.0h0M792.0 354.3h0M796.8 353.9h4.6M995.7 353.7h0M1015.3 354.0h2.4M795.1 356.1h0M999.4 355.9h0M1006.9 356.4h1.8M1013.5 356.2h0M1016.5 355.7h0M794.3 357.9h2.4M995.6 357.8h0M1010.2 358.5h0M793.1 360.6h4.8M1006.4 360.3h0M1011.7 360.3h2.3M791.6 362.3h7.4M1007.6 362.1h4.9M792.9 364.7h2.5M999.4 364.2h0M1006.8 364.8h0M1011.6 364.4h0M791.8 366.6h0M1007.5 366.5h2.7M793.0 368.8h2.4M1004.3 368.7h7.5M791.6 370.9h2.4M797.0 370.8h2.4M1002.6 370.7h7.6M1004.2 373.5h2.5M1011.6 373.0h0M798.7 374.9h2.6M993.6 374.7h0M1005.4 375.0h4.6M800.1 376.7h0M1004.2 376.9h5.2M792.0 379.1h0M988.7 379.6h4.6M1006.1 379.4h4.2M1004.1 381.3h2.9M796.7 383.1h2.4M988.7 383.6h0M1004.9 383.1h2.8M800.3 385.4h0M989.2 385.8h0M999.6 385.3h0M1004.9 385.4h1.5M1009.4 385.3h0M986.4 387.4h0M1000.5 387.3h7.5M795.1 389.6h7.3M985.2 389.7h0M1003.9 389.3h2.6M796.4 391.6h2.6M988.0 391.6h0M998.1 392.1h0M1005.5 391.7h0M795.0 393.7h0M802.5 393.9h0M987.2 393.4h0M1002.1 393.5h2.6M799.5 395.9h2.0M986.4 395.8h0M1000.7 396.2h2.3M802.6 397.9h2.9M982.5 398.4h2.5M1001.7 398.0h0M798.8 399.8h0M804.0 400.3h4.3M983.7 400.4h0M1000.9 400.5h0M802.4 402.0h5.2M980.5 402.4h1.9M996.9 402.4h0M1004.1 402.3h0M805.8 404.1h0M990.6 404.4h0M998.5 404.4h1.8M807.5 406.9h1.7M812.2 406.5h0M980.1 406.9h0M997.1 407.1h0M804.2 408.4h6.8M977.0 408.5h2.3M988.4 408.6h0M1000.5 408.6h0M805.1 411.2h0M811.6 410.7h0M977.9 410.8h0M985.2 410.5h0M991.8 410.6h0M811.3 412.7h0M976.5 412.8h0M986.2 412.5h0M991.4 412.7h6.4M792.9 414.9h0M800.2 415.0h0M809.6 414.8h0M995.1 415.0h0M794.2 416.9h0M811.1 416.7h0M815.7 417.3h0M993.5 417.0h2.6M812.0 418.7h0M987.3 419.2h5.0M810.4 420.7h0M813.5 421.3h0M988.8 421.2h4.9M812.6 424.0h9.1M982.5 423.0h0M994.8 423.1h0M808.6 425.4h0M813.4 425.0h4.9M981.2 425.6h0M988.9 425.1h0M819.8 428.0h4.4M972.9 427.4h0M987.2 427.9h2.3M813.4 429.9h2.1M822.8 429.1h2.5M814.0 431.9h0M817.0 432.1h0M821.6 431.8h5.0M958.2 431.8h0M961.3 431.6h0M982.9 431.5h0M992.0 431.8h0M823.1 433.5h2.2M962.1 433.3h0M981.6 434.0h4.6M816.9 435.6h6.8M982.4 436.1h0M985.4 435.9h0M818.0 437.6h5.2M830.2 438.3h2.6M952.7 438.1h2.3M974.0 438.0h0M977.0 438.3h6.9M821.4 439.8h2.4M827.0 440.1h2.5M968.3 440.2h2.3M977.6 440.1h0M820.8 442.1h0M827.6 441.8h0M973.7 442.8h0M976.6 442.3h0M822.0 444.4h0M946.6 444.0h0M970.8 444.2h0M980.1 444.7h0M827.9 446.5h0M940.7 446.1h0M945.3 446.6h0M967.3 446.3h0M972.1 446.6h6.9M821.9 448.7h0M942.1 448.2h0M960.9 448.6h0M965.9 449.0h2.1M972.5 448.5h0M840.0 450.7h0M940.1 451.0h0M955.1 450.5h2.4M964.7 450.4h4.6M974.5 450.5h0M843.6 452.7h0M930.0 452.6h0M958.3 452.8h9.6M926.4 454.3h0M947.5 455.1h0M957.2 455.1h0M962.4 454.9h2.2M969.4 454.9h0M853.1 456.8h0M948.8 457.0h0M961.4 456.7h0M965.5 457.5h0M856.4 459.2h0M918.4 459.3h0M924.0 459.2h0M955.2 459.2h2.3M962.3 458.7h2.2M860.3 461.1h0M905.9 461.6h2.4M917.8 460.8h2.6M944.1 461.3h0M951.3 460.9h0M956.2 460.6h0M963.5 461.2h0M841.6 463.1h0M854.3 462.8h0M861.5 463.1h0M868.7 463.5h0M892.8 463.8h0M897.3 463.2h0M902.0 463.5h0M919.0 462.7h0M928.8 463.3h0M938.1 463.0h0M945.0 462.7h0M957.0 463.0h0M841.5 465.3h0M845.7 464.7h0M867.1 465.2h5.1M898.5 465.0h2.0M949.1 465.1h4.7M830.5 467.9h0M835.1 467.6h0M842.2 467.3h0M847.1 467.4h2.1M870.8 467.5h0M895.0 467.1h0M911.7 467.1h0M931.1 467.3h1.8M938.0 467.2h0M941.3 467.3h0M947.8 467.0h2.1M833.6 469.9h4.9M843.1 469.3h2.3M855.4 469.4h0M879.8 469.1h0M887.1 469.1h0M891.2 469.6h0M917.9 469.1h0M922.9 469.8h0M939.6 469.3h1.7M944.3 469.0h7.1M830.1 471.7h0M834.9 472.1h2.3M844.4 471.6h0M909.3 471.7h2.5M918.5 471.9h0M921.6 471.8h4.6M933.6 471.4h0M937.7 471.6h0M942.8 471.5h0M947.2 472.1h0M834.2 473.6h4.4M850.6 474.1h4.8M862.4 473.9h2.7M896.0 473.4h0M910.7 473.9h0M917.8 473.7h0M927.6 474.0h0M934.6 473.7h5.1M832.9 475.9h7.0M847.3 475.7h2.1M869.0 475.8h0M897.5 475.9h0M902.6 476.2h0M911.5 475.3h0M916.3 475.7h2.3M921.5 475.3h1.8M928.7 475.6h2.5M940.0 476.1h0M836.7 477.8h1.8M843.1 478.1h0M848.1 477.6h2.8M860.1 478.0h2.6M869.9 477.7h0M895.9 477.4h5.2M905.8 478.2h0M910.5 477.6h0M918.0 477.7h2.4M927.3 478.0h7.4M833.0 479.8h0M837.6 480.2h6.6M849.5 480.1h0M854.6 479.7h1.5M861.5 479.7h4.5M880.7 479.8h4.3M899.6 480.2h2.9M912.3 480.1h2.0M919.0 479.7h0M921.9 480.1h2.0M833.9 482.0h2.4M841.4 482.6h6.9M864.9 482.3h2.6M870.4 482.4h4.3M882.0 482.3h0M886.2 482.0h0M891.8 481.9h2.1M898.6 482.3h0M902.9 481.8h0M906.0 482.2h0M915.9 482.3h3.9M927.4 482.0h0M837.6 484.0h2.4M844.3 484.1h0M849.2 485.1h2.7M866.4 484.2h0M871.0 483.9h7.0M890.0 484.2h2.6M899.4 484.3h0M909.3 484.3h7.4M845.7 486.8h4.8M853.7 486.7h0M860.5 486.0h6.7M872.4 486.1h0M879.5 486.4h0M884.4 486.6h4.3M898.5 486.6h2.3M908.3 486.4h4.6M834.4 488.3h2.7M842.7 488.5h1.7M849.5 488.7h0M856.7 487.9h0M861.4 488.3h2.8M873.6 488.0h0M881.0 488.4h1.9M885.8 488.4h0M895.0 488.9h6.9M907.3 488.5h0M911.3 488.9h0M838.7 490.2h0M847.9 490.9h0M855.3 489.8h4.7M872.0 490.5h0M876.9 490.3h14.3M896.0 490.9h4.8M858.9 492.8h0M871.3 492.7h2.2M878.1 492.8h4.7M887.4 492.3h0M892.5 492.4h0M899.9 492.3h0M850.5 494.5h2.3M857.9 495.0h0M862.7 494.6h2.4M875.0 494.5h1.9M884.3 494.6h0M889.0 494.6h0M856.4 497.0h4.9M871.2 497.2h0M876.1 496.3h0" stroke="#8CA7DB" stroke-width="2.55" stroke-linecap="round" fill="none"/>
<path d="M927.4 234.3h0M928.5 236.7h0M940.4 236.4h0M947.6 236.7h0M924.4 238.5h0M929.3 238.7h0M953.8 238.6h0M954.9 240.3h0M974.1 241.1h0M901.0 242.7h0M908.0 242.5h0M863.7 244.5h0M940.1 245.0h0M971.8 244.6h0M874.9 247.4h0M908.2 247.2h0M934.6 246.9h0M944.3 246.9h0M958.3 246.4h0M865.1 251.3h0M956.0 250.7h0M857.0 253.0h0M861.4 253.2h0M914.4 253.6h0M996.1 253.2h0M898.6 255.2h0M929.7 255.3h0M975.1 255.0h0M989.7 255.3h0M835.0 257.8h0M902.1 257.2h0M936.0 257.5h2.1M969.7 257.8h0M877.2 259.3h0M922.5 259.5h0M980.1 259.3h0M992.2 259.5h2.7M842.2 261.4h0M888.1 261.4h0M916.5 266.0h0M921.4 265.8h0M933.0 266.0h0M966.8 265.8h0M867.6 268.1h0M900.9 268.0h0M1006.8 268.1h0M859.0 270.4h0M894.9 270.0h0M1003.4 269.9h4.2M834.0 271.9h0M865.1 272.2h2.0M903.5 272.2h0M920.1 272.3h0M937.4 272.3h0M997.0 271.8h0M885.3 274.5h0M918.6 274.5h0M926.3 274.2h0M950.2 274.1h0M887.6 278.6h0M947.9 278.3h0M1015.0 278.5h0M821.5 280.7h0M847.9 280.7h0M847.0 283.0h0M967.2 282.8h0M939.4 284.7h0M1016.2 284.9h0M907.0 287.1h0M1020.2 286.3h0M836.3 288.6h0M877.5 289.0h0M1001.5 288.7h2.4M986.6 290.7h0M805.4 292.8h0M831.8 292.9h0M896.4 292.9h0M982.7 293.1h0M994.9 293.0h0M1015.8 292.9h0M811.2 295.1h0M906.6 295.2h0M792.9 297.2h0M833.7 297.6h0M980.3 297.7h0M818.3 299.3h0M895.2 299.3h0M1000.9 299.1h0M812.5 301.3h0M821.8 301.5h0M985.2 301.3h0M992.6 301.9h0M806.4 303.9h0M882.7 303.4h0M911.9 303.8h0M1012.6 303.5h0M1019.9 303.5h0M831.4 305.6h0M794.1 308.4h0M827.7 307.7h0M885.4 307.8h0M978.7 307.6h0M1007.6 307.8h0M1012.7 307.5h0M874.3 309.9h0M884.1 309.5h0M908.5 309.6h0M835.1 312.0h0M892.4 311.9h0M1017.3 312.2h0M795.7 314.1h0M867.2 314.3h0M898.7 314.5h0M937.4 314.3h0M1002.2 313.9h0M1009.1 314.3h0M1021.0 314.6h0M844.1 316.4h0M865.5 316.1h2.7M907.1 316.5h0M954.8 315.4h0M1002.6 316.1h0M1022.4 316.0h0M862.4 317.8h0M989.9 318.2h0M859.1 320.4h0M1000.7 320.4h0M848.7 322.5h0M860.1 322.1h2.3M1010.5 324.6h0M853.3 326.7h2.3M882.0 327.1h0M903.6 326.4h0M1004.0 326.5h0M973.7 329.2h0M933.2 333.2h0M939.9 335.5h0M990.8 336.7h0M913.0 339.1h2.4M987.5 339.1h0M996.7 339.0h0M1011.3 339.3h0M1018.8 339.4h0M890.0 341.3h0M1007.9 341.4h0M877.4 343.9h0M946.5 343.4h0M815.9 345.6h0M934.0 345.6h0M967.2 345.9h0M988.4 345.6h0M869.4 347.5h0M787.2 349.9h0M791.7 349.9h0M887.3 349.8h0M907.1 349.9h0M924.1 350.0h0M780.5 351.9h0M925.0 351.7h0M779.8 354.3h0M1012.7 354.0h0M977.5 356.6h0M806.2 358.5h0M923.7 358.1h0M947.8 358.2h0M1007.7 358.5h0M1012.9 358.5h0M912.9 360.2h0M949.4 360.6h0M1009.3 360.6h0M921.7 362.5h0M932.1 364.5h0M987.5 364.4h0M997.1 364.8h0M1009.1 364.2h0M885.2 366.7h0M921.7 366.6h0M976.4 366.6h0M993.5 366.9h0M869.3 370.7h1.3M788.3 373.2h0M884.2 373.4h0M901.3 373.7h0M975.5 373.2h0M994.4 372.9h0M1008.8 373.0h0M782.5 375.4h0M811.3 375.0h0M907.1 375.0h0M894.2 381.1h0M958.5 381.4h0M990.1 381.7h0M1008.6 381.3h0M913.8 383.4h0M990.5 383.5h0M927.3 385.7h0M979.9 385.7h0M1001.6 385.4h0M926.0 387.2h0M810.0 389.3h0M822.2 389.8h0M789.7 391.9h0M963.0 394.5h0M789.4 395.6h0M794.1 396.0h0M818.2 396.1h0M902.2 396.4h0M789.5 400.4h0M823.3 400.0h0M963.6 401.9h0M989.9 402.1h0M1001.8 402.3h0M945.4 404.5h0M793.1 406.3h0M958.5 406.9h0M970.5 406.8h0M975.2 406.8h0M943.0 409.3h0M954.7 408.3h0M974.1 408.5h0M986.2 408.3h0M995.9 408.4h0M975.6 410.7h0M827.7 412.8h0M933.1 412.8h0M819.2 414.8h0M836.3 415.1h0M981.3 417.4h0M990.9 416.9h0M831.5 418.8h0M925.0 419.1h0M975.4 419.0h0M980.4 419.3h0M994.3 419.4h0M822.7 421.2h0M832.4 421.0h2.6M995.7 420.8h0M843.6 422.9h0M955.7 423.3h0M968.0 423.0h0M992.0 423.4h0M839.5 425.4h0M972.0 425.2h0M984.2 425.5h0M991.1 425.0h0M807.8 427.7h0M831.3 427.6h0M983.0 427.5h0M928.3 429.7h0M945.4 429.5h0M976.5 434.1h0M978.0 435.6h0M808.3 437.9h0M851.5 438.0h0M877.9 438.4h0M909.8 438.1h0M914.2 438.0h0M947.6 438.0h0M848.4 440.0h0M860.3 440.1h0M881.5 440.1h0M837.2 442.2h0M859.1 442.3h0M866.3 442.3h0M971.7 442.1h0M981.2 442.3h2.5M860.5 444.3h2.2M910.8 444.6h0M944.1 443.6h0M973.0 444.5h0M943.4 446.3h0M869.9 448.4h0M920.6 448.4h0M963.1 448.3h0M914.0 450.5h0M945.3 450.6h0M971.9 450.7h0M833.6 452.4h0M937.2 452.8h0M949.2 452.5h0M842.0 455.1h0M959.5 454.9h0M887.1 456.4h0M925.0 456.6h0M954.0 456.6h0M815.7 458.4h0M822.8 458.9h0M882.7 459.2h0M890.1 459.1h0M933.9 459.1h0M960.1 459.0h0M843.2 461.2h0M867.2 461.2h0M886.3 461.5h0M898.6 461.4h0M949.2 461.0h0M958.5 461.3h0M856.5 463.5h0M887.9 462.7h0M940.7 463.3h2.2M950.3 463.5h0M903.1 465.3h0M946.5 465.2h0M837.4 467.3h0M875.9 467.0h0M902.0 467.6h0M945.6 467.6h0M819.1 469.5h0M840.9 469.6h0M853.0 470.1h0M876.5 469.7h0M929.8 469.2h2.3M935.1 469.4h2.0M822.3 471.7h0M883.3 471.3h0M940.6 471.6h0M840.8 474.0h0M860.1 473.5h0M915.5 473.5h0M920.0 473.7h0M932.4 473.7h0M942.0 473.4h0M825.7 475.6h0M842.3 475.7h0M861.3 476.0h0M904.4 475.8h0M914.3 475.9h0M926.1 475.8h0M938.6 475.5h0M829.0 477.7h0M841.0 478.2h0M879.2 478.0h0M893.6 477.7h0M834.8 479.6h0M873.5 480.1h4.5M905.0 479.8h0M926.0 479.9h1.7M831.4 482.3h0M852.9 481.8h0M860.3 481.9h2.2M876.8 481.7h0M913.2 482.2h0M835.2 483.6h0M854.3 484.3h0M862.1 484.4h0M897.1 484.1h0M902.5 484.3h0M843.4 486.2h0M894.0 486.8h0M839.9 488.1h0M854.1 488.9h0M859.0 488.5h0M876.0 488.5h0M892.5 488.7h0M904.9 488.2h0M843.2 490.6h0M894.2 490.4h0M868.3 492.6h0M876.0 492.6h0M860.9 494.7h0M881.9 495.0h0M864.0 496.6h0M857.9 498.9h0" stroke="#9B9DA2" stroke-width="2.55" stroke-linecap="round" fill="none"/>
<path d="M909.6 265.6h0M914.2 266.0h0M923.6 265.6h2.7M936.0 265.8h4.8M945.2 266.4h0M887.0 268.1h0M896.1 268.1h2.6M913.0 268.4h0M917.7 267.7h2.3M923.0 267.8h0M927.5 267.9h4.6M937.1 267.7h9.9M882.9 270.2h2.5M890.3 270.1h2.4M897.6 269.8h9.1M909.7 270.0h1.6M914.3 270.3h2.0M921.4 269.8h0M931.2 270.1h0M935.8 270.2h2.0M940.8 269.8h1.9M947.7 270.3h2.2M952.9 269.6h0M957.5 270.0h0M874.8 271.9h1.9M879.7 272.3h4.0M886.9 272.0h13.9M918.2 271.7h0M942.0 271.8h1.8M949.1 271.7h2.0M954.2 272.0h0M958.9 271.6h3.8M870.5 274.8h0M873.7 274.2h4.1M880.7 274.3h0M888.0 273.9h2.1M955.4 274.2h0M960.1 274.4h9.2M867.6 276.7h0M872.2 276.3h0M876.7 276.4h2.5M901.1 276.4h0M961.2 276.4h6.9M858.9 278.7h2.4M866.4 278.5h6.8M966.5 278.4h5.3M860.3 280.5h2.1M865.3 281.0h0M968.5 280.6h9.1M861.2 282.8h4.9M971.8 283.0h0M976.4 282.5h2.7M848.2 284.8h11.9M970.6 284.9h2.3M847.0 286.6h9.3M974.0 286.7h0M843.4 289.0h4.1M850.9 288.8h3.8M985.2 289.0h0M842.3 291.1h4.8M983.9 290.8h0M840.8 293.1h2.1M845.9 293.5h0M984.5 293.1h0M987.5 292.9h0M837.8 295.2h1.7M842.8 294.9h1.8M983.6 294.9h2.5M831.1 297.1h0M838.7 296.9h0M983.1 297.2h6.6M899.7 299.7h0M986.4 299.3h2.2M829.0 301.9h0M833.7 301.9h0M987.4 300.9h0M825.4 304.0h7.0M890.2 303.4h0M895.1 303.6h0M993.1 304.0h0M828.8 305.7h0M992.5 305.8h0M825.3 307.9h0M829.8 307.8h0M990.9 307.7h2.3M822.3 309.9h7.1M992.0 310.3h2.8M820.3 311.6h5.3M991.2 311.9h2.5M819.5 314.2h2.5M860.4 314.3h2.2M874.9 314.4h0M992.0 313.9h2.8M820.3 315.5h0M823.2 316.4h0M859.1 315.9h0M870.6 316.3h0M933.2 315.9h0M993.2 316.2h2.7M816.8 318.2h0M821.7 318.3h2.1M853.3 318.2h0M857.5 318.3h0M865.0 318.6h0M994.3 318.2h0M997.4 318.2h0M818.9 320.6h1.9M854.1 320.2h0M861.4 320.1h0M993.4 320.5h2.6M814.8 322.3h0M822.0 322.3h0M857.7 322.8h0M944.0 322.6h0M994.5 322.5h0M813.5 325.1h2.0M820.3 324.7h0M861.3 324.9h0M993.2 324.7h2.3M814.9 326.5h1.9M994.5 326.5h0M815.5 328.5h0M993.4 329.4h0M997.9 329.0h0M814.7 331.0h2.0M994.8 330.7h2.2M950.2 332.4h0M993.8 333.3h1.9M812.1 335.4h0M961.2 335.4h0M991.8 335.1h2.7M811.3 337.2h4.3M818.8 337.0h0M993.8 336.9h2.3M809.8 338.6h0M814.7 339.4h0M990.3 339.0h4.6M809.1 341.8h6.5M993.1 341.3h0M807.9 343.8h6.7M819.7 343.1h0M992.1 343.6h2.6M808.4 345.5h2.8M984.1 345.5h0M990.9 345.8h2.5M807.6 347.1h2.2M814.9 347.4h0M989.6 347.5h4.7M806.2 350.0h5.1M988.8 349.6h0M807.4 352.2h2.3M987.5 351.8h1.8M992.3 351.9h0M993.1 354.1h0M802.4 356.1h4.8M990.0 356.0h4.3M803.6 358.2h0M803.0 360.3h2.0M814.6 360.3h0M805.9 362.4h0M811.2 362.3h0M988.6 362.2h4.9M802.7 364.2h0M803.6 366.7h0M811.2 366.5h0M991.2 366.6h0M804.8 368.6h2.1M987.5 368.7h2.4M803.8 370.5h0M983.5 370.6h0M986.6 370.8h2.2M802.2 372.7h0M806.9 373.2h0M811.8 372.8h0M990.0 372.8h0M808.3 375.3h0M986.1 374.7h4.7M802.6 377.6h0M985.1 377.1h0M804.2 379.3h4.4M984.0 379.0h0M807.3 381.1h2.6M816.8 381.1h0M987.3 381.1h0M803.7 383.4h9.5M981.1 383.4h0M805.0 385.7h2.3M982.4 385.6h0M985.3 385.8h0M806.2 387.6h6.6M818.1 387.5h2.6M807.1 389.7h0M980.0 390.0h2.2M806.5 391.5h4.3M980.9 391.8h0M983.9 391.6h0M807.0 394.1h0M810.0 394.1h2.3M821.4 394.2h0M813.0 395.7h0M974.0 396.2h0M979.4 396.2h0M983.1 396.0h0M811.7 397.8h2.5M819.2 398.2h0M973.0 398.2h0M977.5 398.2h2.9M811.1 400.7h0M815.8 400.7h0M974.4 399.8h4.5M809.6 402.3h2.8M819.5 402.1h0M978.2 402.4h0M810.8 404.0h7.6M971.4 404.4h5.0M816.8 406.3h2.8M973.4 406.5h0M812.9 408.6h0M816.4 408.8h6.5M969.7 408.7h2.4M814.5 410.7h7.6M968.1 410.5h5.0M816.0 412.5h2.0M824.9 412.4h0M966.8 412.9h5.1M817.1 414.8h0M824.0 415.3h0M963.7 415.2h2.0M970.5 414.9h0M822.7 417.2h0M825.6 417.0h6.8M962.3 416.8h2.5M968.9 416.9h0M972.0 417.4h0M817.3 418.8h2.1M824.2 419.2h2.8M833.7 419.2h0M838.7 419.0h0M961.0 418.8h2.5M968.3 419.4h2.4M820.5 421.3h0M825.6 421.5h2.6M957.4 421.3h2.7M828.7 423.1h2.3M958.6 423.0h4.6M966.2 423.3h0M822.6 425.1h0M827.6 425.7h7.3M952.5 425.0h1.8M960.0 425.6h4.6M827.0 427.4h0M833.5 427.7h2.7M951.7 427.4h1.6M963.2 427.3h0M830.0 430.1h7.2M947.3 429.4h0M950.4 429.8h0M953.3 429.6h0M957.3 429.6h2.5M828.8 431.5h2.8M836.3 432.2h4.7M946.4 431.9h9.7M830.2 433.8h4.4M840.2 433.6h0M947.6 434.1h0M955.1 434.1h0M831.5 435.7h2.2M838.7 435.9h1.8M939.7 436.3h6.8M835.0 438.0h4.5M844.9 438.3h0M935.6 437.4h9.9M833.7 439.9h2.4M840.8 440.0h2.5M850.2 440.0h0M932.3 440.0h9.6M946.6 440.1h2.6M842.2 441.9h6.9M852.1 442.7h0M931.4 441.7h14.0M841.0 444.4h12.0M872.3 444.0h0M924.6 444.3h4.7M932.6 444.3h6.8M844.2 446.4h0M847.1 446.9h9.5M878.7 446.7h0M923.8 446.7h0M928.9 446.3h6.6M843.4 448.3h0M848.0 448.6h9.6M910.7 448.6h7.1M922.6 448.9h2.4M930.3 448.7h1.8M851.9 450.3h2.7M866.5 450.6h0M907.3 450.9h0M916.9 450.4h0M921.6 450.4h9.3M850.2 452.6h0M853.4 453.0h0M857.8 453.0h1.9M862.7 453.1h8.8M874.6 452.7h0M879.3 452.8h2.2M891.4 452.8h11.4M906.2 452.6h4.1M923.1 452.7h4.2M854.4 454.5h2.4M863.6 454.9h5.2M873.7 454.3h9.4M887.6 454.8h23.9M919.1 454.8h4.0M865.0 456.7h5.0M877.2 456.8h6.9M889.2 457.2h6.6M901.3 457.1h11.5M861.7 459.3h2.5M869.1 459.2h11.4M885.5 459.3h2.2M892.4 458.8h7.0M904.7 459.2h1.9M911.7 459.2h0M870.1 461.7h6.5M879.5 461.1h4.5M889.7 461.1h0M894.2 461.2h2.1M900.9 461.0h2.1M876.0 462.9h2.3M883.7 462.8h1.8M889.8 463.0h0M894.8 463.4h0" stroke="#EA4E24" stroke-width="2.55" stroke-linecap="round" fill="none"/>
<path d="M922.5 272.0h0M894.8 274.5h0M899.6 274.4h0M906.9 274.5h0M911.4 274.3h0M914.3 274.7h2.2M921.2 274.0h0M928.4 274.4h0M938.3 274.2h4.7M893.7 276.7h2.4M903.2 276.4h14.2M924.7 276.2h2.8M932.3 276.4h4.6M942.1 276.1h2.4M949.1 276.8h0M954.0 276.3h0M890.4 278.5h0M894.9 278.5h0M902.1 278.1h14.4M925.7 278.5h12.3M941.0 278.4h4.7M950.2 278.3h2.3M872.2 280.5h2.0M877.2 280.5h19.1M901.2 280.7h11.4M918.1 280.5h0M925.3 280.4h0M932.3 280.6h21.5M963.4 280.7h0M868.6 282.7h0M873.5 282.3h0M878.5 282.6h0M888.0 282.5h9.3M902.6 282.8h9.1M916.8 282.6h2.1M924.3 282.2h2.0M931.1 283.0h2.1M938.5 282.4h1.9M947.4 282.7h0M955.1 282.8h4.7M964.3 282.5h0M862.2 284.6h5.5M874.5 284.7h7.3M889.2 284.7h0M893.9 284.6h2.4M901.3 284.4h9.3M915.6 284.9h4.6M925.0 284.8h0M929.4 284.5h0M932.6 284.4h0M937.4 284.9h0M941.7 284.8h0M946.2 284.6h2.7M956.2 284.6h5.4M965.6 284.3h2.5M859.2 286.5h0M868.6 286.2h0M875.5 286.9h0M880.6 287.1h7.1M894.9 286.8h9.5M909.4 287.2h2.2M914.6 286.8h2.1M923.9 287.1h4.3M943.2 286.8h3.9M950.2 286.5h12.4M969.7 286.9h0M857.9 289.4h0M874.6 289.1h0M879.1 288.8h0M887.2 288.8h6.7M898.7 288.8h0M905.6 288.3h2.3M915.2 289.1h2.7M927.4 288.8h0M941.9 289.1h4.8M951.4 289.1h12.3M852.1 290.7h6.8M863.7 290.6h0M870.8 291.1h0M875.8 291.0h0M885.5 291.1h7.4M899.7 290.9h5.0M914.0 290.8h5.0M926.2 291.1h2.0M952.4 290.9h0M957.6 290.8h16.6M848.2 293.2h14.5M869.7 292.9h2.6M876.9 293.0h0M881.6 293.2h7.4M898.8 293.0h2.7M908.3 293.0h0M912.9 293.1h2.3M934.7 293.4h0M956.6 293.2h9.4M970.4 292.9h7.5M847.0 295.3h0M851.7 295.3h7.5M863.9 294.9h9.6M880.3 295.5h2.8M887.7 294.9h2.4M901.4 295.3h0M909.4 295.5h4.7M918.8 295.0h0M940.5 294.8h0M945.1 295.2h0M950.1 295.8h0M961.9 295.1h0M974.4 295.3h1.9M979.3 295.0h0M848.3 297.1h4.3M855.8 297.0h2.0M867.4 297.3h21.4M894.1 297.2h0M918.1 297.4h2.0M930.0 297.5h0M946.5 297.8h2.1M970.4 297.6h7.6M839.5 299.2h0M849.4 299.6h2.4M868.6 299.6h18.6M890.5 299.1h0M904.9 299.3h0M926.5 299.3h2.0M933.6 298.9h2.3M945.4 299.7h2.1M950.5 299.3h4.1M974.1 299.6h7.2M845.7 301.9h14.6M864.6 301.7h0M867.6 302.0h1.9M876.6 301.6h12.4M896.0 301.7h0M917.1 301.6h0M932.2 300.9h4.8M954.1 301.4h2.4M973.1 301.6h4.4M980.6 301.4h1.8M835.0 303.7h0M844.6 303.8h5.0M852.5 303.6h4.4M863.9 303.7h6.8M875.8 303.7h0M880.5 303.6h0M933.5 303.6h0M976.7 303.6h7.3M836.1 305.5h0M841.2 306.0h0M845.7 305.8h0M850.2 305.3h7.7M865.3 305.7h4.4M874.5 305.6h0M934.1 305.6h0M946.4 306.0h0M977.9 305.9h6.9M832.6 308.1h4.6M844.4 307.9h4.6M854.3 307.5h4.1M861.5 307.5h2.3M866.7 307.7h6.6M931.5 307.7h2.0M945.4 307.7h0M954.8 307.6h0M981.2 308.0h0M984.4 307.9h2.0M831.4 310.7h4.8M843.3 310.0h5.2M853.0 310.2h2.5M860.2 310.0h5.0M939.4 310.1h0M944.4 309.7h0M961.1 310.2h0M978.1 310.1h0M982.7 310.1h4.2M828.2 311.9h0M833.2 311.7h0M837.3 312.1h0M842.4 311.6h0M847.1 312.0h0M853.9 312.2h0M859.4 311.9h0M955.1 311.6h0M962.4 312.0h0M967.3 312.0h0M976.8 311.9h6.5M841.0 314.0h13.6M858.2 314.3h0M944.2 314.4h0M961.4 313.9h0M968.1 313.8h9.5M980.7 313.7h6.6M825.6 316.2h6.9M840.1 316.0h1.5M847.1 316.5h4.7M957.4 316.4h18.9M983.6 316.2h0M986.7 316.6h1.5M826.3 318.2h7.0M838.9 317.6h6.3M848.6 318.3h0M944.4 318.6h0M956.3 318.7h4.2M967.9 318.3h0M971.1 318.4h6.3M984.4 318.5h0M825.3 320.9h19.6M957.6 320.7h2.3M967.1 320.5h21.6M824.4 322.5h1.9M834.0 323.1h9.3M946.3 322.4h0M958.3 322.3h2.6M968.0 322.4h6.9M977.9 322.9h2.1M982.9 323.2h9.3M823.1 324.5h0M830.1 324.7h7.4M842.4 324.3h0M952.1 324.3h0M959.6 324.3h2.5M967.1 324.9h11.9M986.3 324.9h2.4M823.8 326.7h7.7M835.9 327.0h0M949.0 326.5h0M954.0 327.0h0M958.8 326.6h2.2M965.7 327.2h2.5M975.3 326.3h9.3M987.6 326.6h0M820.4 329.0h2.5M828.0 328.7h4.8M839.5 328.7h0M959.9 328.3h0M964.7 329.4h4.8M976.7 328.5h12.0M824.0 330.6h0M961.1 331.1h4.2M968.3 331.1h0M973.0 331.2h2.4M980.1 330.3h9.7M822.6 332.7h0M830.4 333.1h0M959.9 332.6h0M966.9 333.1h0M981.7 333.1h7.0M826.6 335.3h0M982.7 335.4h2.4M990.1 334.9h0M824.7 337.1h0M981.6 337.4h0M986.0 337.6h0M965.8 339.3h0M984.9 339.0h0M827.6 341.4h2.4M842.3 341.5h0M957.9 341.1h0M984.1 341.3h0M972.0 345.4h0M842.1 350.4h0M849.7 366.6h0M971.7 367.0h0M981.6 366.4h0M980.0 368.9h2.3M851.9 370.7h0M971.6 370.8h0M839.0 373.4h0M961.3 372.8h0M832.6 375.2h0M833.8 377.3h0M968.6 376.9h0M981.6 379.7h0M963.1 381.7h0M962.8 385.6h0M969.2 387.9h0M965.9 389.7h0M970.4 389.8h0M844.7 391.5h0M954.3 393.7h0M968.3 397.6h0M839.9 400.4h0M847.3 400.4h0M838.5 401.9h0M858.1 402.6h0M951.5 402.2h0M967.2 404.2h0M834.9 408.5h0M952.3 408.7h0M956.5 410.7h0M854.3 417.2h0M931.1 416.8h0M842.0 420.9h0M923.2 423.5h0M862.6 427.2h0M900.9 428.1h0M900.0 429.5h0M906.9 429.6h0M862.6 435.5h0M879.6 436.1h0M906.8 438.2h0M916.4 438.5h0M855.1 440.2h0M894.1 439.7h0M882.7 441.9h0M928.6 441.9h0M915.5 444.3h0M900.7 448.1h0M895.0 450.9h0" stroke="#EEF4B4" stroke-width="2.55" stroke-linecap="round" fill="none"/>
<path d="M908.3 272.1h0M915.3 271.9h0M904.3 273.8h0M962.0 278.6h0M870.0 280.3h0M965.7 280.3h0M849.2 295.1h0M916.3 299.3h0M923.0 305.4h0M931.8 309.9h0M856.7 312.3h0M988.8 312.3h0M856.7 316.4h0M858.9 324.4h0M991.3 329.0h0M819.5 331.2h0M991.7 330.9h0M837.4 333.1h0M962.4 333.2h0M969.2 333.5h0M979.1 332.6h0M963.1 335.1h0M968.8 335.4h0M842.5 337.0h2.3M967.4 337.5h6.4M976.8 336.5h2.3M960.9 339.1h1.8M968.0 339.0h0M970.9 339.0h9.1M964.7 341.9h12.3M988.5 341.3h0M826.8 343.1h0M845.7 343.7h0M956.2 343.4h6.8M965.8 343.3h4.4M973.8 343.8h1.4M982.3 343.7h0M960.0 345.5h4.8M969.4 346.0h0M974.4 345.8h6.8M812.3 347.8h0M816.7 347.8h0M824.3 347.5h0M958.8 347.9h0M963.7 347.4h11.6M978.3 347.6h8.5M962.1 350.0h0M966.5 349.6h5.4M981.7 349.3h2.3M845.8 352.0h0M961.5 352.0h1.9M968.5 351.8h2.0M982.3 351.7h0M985.3 352.3h0M837.4 354.5h2.8M959.6 354.3h0M964.7 354.1h0M969.2 353.8h0M976.5 354.0h0M981.4 354.3h4.7M819.4 356.1h0M968.1 356.1h7.2M985.2 356.5h0M818.5 357.9h0M960.0 358.4h1.9M967.0 358.6h0M971.6 358.5h12.3M961.0 359.9h21.3M820.9 362.2h0M825.2 362.1h0M842.2 362.3h0M959.7 362.9h4.5M972.1 362.6h4.2M979.4 362.5h0M983.3 362.5h2.3M848.5 364.0h0M963.5 364.6h2.0M968.5 364.7h0M972.7 364.8h5.0M984.9 364.6h0M959.7 366.7h0M962.6 366.8h1.9M973.9 366.6h0M979.2 366.7h0M984.0 366.4h0M961.0 369.2h2.3M970.4 368.9h7.2M985.1 368.2h0M965.0 370.7h1.6M974.6 371.2h7.3M814.3 372.9h0M966.0 373.1h4.7M980.2 373.3h4.7M960.1 375.0h11.9M976.7 375.1h7.1M960.7 377.2h4.8M970.1 376.8h0M973.2 377.2h6.5M830.6 379.1h0M957.3 379.5h0M962.1 379.3h0M966.7 379.1h7.3M814.6 381.4h0M836.0 381.5h0M961.4 381.2h0M965.3 381.5h0M968.2 380.9h4.4M975.9 381.7h4.7M959.8 383.4h18.8M817.1 385.6h0M824.3 385.4h0M955.9 385.6h0M961.2 385.7h0M973.1 385.1h2.3M978.4 385.5h0M952.8 387.4h0M960.1 387.7h2.0M974.2 387.8h5.0M958.6 389.4h4.4M968.1 389.6h0M973.1 389.7h0M977.6 389.5h0M952.3 391.6h0M955.3 391.9h6.6M965.2 392.2h1.4M970.0 391.4h1.0M974.3 391.4h2.0M814.4 393.7h0M843.5 393.8h0M951.1 393.8h0M965.7 393.9h9.6M947.7 396.2h0M952.3 396.6h0M957.8 396.4h6.5M967.4 395.9h0M829.1 398.4h0M946.2 398.5h5.1M956.5 397.6h0M963.3 398.0h2.6M945.2 400.0h7.3M957.4 400.1h0M962.6 400.2h4.7M972.0 400.4h0M942.0 402.1h0M946.6 402.3h0M953.6 402.2h0M966.0 401.8h2.0M823.1 404.5h0M839.4 404.4h0M851.7 404.4h0M942.9 404.4h0M954.9 404.8h2.8M964.6 404.3h0M969.5 404.4h0M853.3 406.2h0M941.4 406.3h2.7M951.5 406.5h4.6M961.2 406.5h0M965.7 405.8h0M935.7 408.4h4.8M945.4 408.8h4.8M957.4 408.6h4.9M859.9 411.0h0M931.9 410.5h0M937.4 410.5h2.2M944.2 410.8h0M949.0 410.0h4.9M958.5 410.7h7.6M931.0 412.8h0M935.8 412.5h2.2M945.4 412.6h12.1M962.5 412.7h2.0M826.7 415.0h0M845.2 415.1h0M925.2 415.0h0M932.3 415.1h4.7M942.1 414.7h0M946.7 415.1h4.5M954.3 415.1h1.8M961.0 415.0h0M860.9 417.3h0M933.6 417.3h1.9M938.6 417.2h4.1M945.8 417.1h6.9M843.8 419.3h0M927.7 418.9h23.9M955.9 419.1h0M916.5 421.4h0M923.4 421.1h0M926.4 421.0h12.0M943.2 421.1h7.1M955.0 421.2h0M833.2 423.5h0M840.8 423.8h0M869.6 422.7h0M910.3 423.2h0M916.1 423.5h0M920.3 423.4h0M924.8 423.4h12.0M944.3 423.5h6.9M895.1 425.6h0M911.9 425.5h2.7M918.6 425.7h2.8M925.9 425.8h2.4M933.6 425.4h4.7M950.2 425.2h0M908.0 427.6h0M911.0 427.5h11.2M927.3 427.6h14.4M947.2 427.6h0M849.8 429.6h0M909.1 429.7h0M916.5 429.4h0M924.0 429.6h0M930.6 429.8h0M933.5 429.4h2.1M938.6 429.9h4.3M845.4 431.6h0M848.3 432.1h0M901.5 431.8h0M905.8 431.6h0M913.3 431.8h4.0M920.2 431.7h4.8M930.0 431.7h2.2M936.9 432.2h5.0M847.0 434.4h0M882.7 433.7h0M909.5 433.6h9.5M922.1 434.0h1.6M928.9 433.6h11.5M869.7 435.4h0M897.9 436.4h0M905.9 436.0h0M910.6 436.1h6.9M929.6 435.7h7.4M880.6 438.2h0M895.3 437.6h9.0M911.8 438.1h0M919.5 438.1h0M926.0 437.9h7.3M872.0 440.2h0M876.9 439.9h2.6M883.8 440.0h7.4M898.6 439.8h7.6M910.7 439.9h9.6M925.1 440.2h0M873.7 442.1h0M877.9 441.8h2.7M888.1 441.9h4.5M897.4 442.2h4.6M907.3 442.0h2.3M916.4 442.3h9.7M877.1 444.3h7.0M888.5 444.3h0M891.6 444.4h16.5M917.8 443.9h5.2M858.5 446.1h0M873.5 445.9h2.9M880.5 446.5h2.5M888.0 446.3h1.8M892.8 446.4h0M900.1 446.6h9.5M914.0 446.9h0M918.8 446.3h0M879.3 448.8h2.5M888.9 448.2h4.9M903.9 448.5h4.4M888.0 450.3h4.5M897.7 450.3h0M901.8 450.8h0" stroke="#7FCB10" stroke-width="2.55" stroke-linecap="round" fill="none"/>
<path d="M926.1 312.2h0M878.3 316.7h0M919.0 320.5h0M934.6 322.5h0M939.3 322.6h0M875.6 324.5h0M931.0 324.8h0M946.3 331.1h0M948.0 333.0h0M862.3 335.3h0M867.4 334.9h0M891.9 334.8h0M852.0 337.5h9.2M851.0 339.8h11.4M951.4 339.2h2.3M849.4 341.4h0M856.7 341.5h1.9M882.9 341.4h0M947.8 341.4h2.3M848.1 343.4h2.6M858.0 343.4h2.1M948.9 343.4h5.1M847.1 345.8h7.0M859.2 345.5h0M846.2 347.7h9.2M859.7 347.7h0M951.1 348.0h0M956.1 348.1h0M961.0 348.0h0M847.4 350.0h0M854.2 349.7h2.6M954.8 350.0h2.5M848.2 352.3h2.5M855.5 352.3h4.9M953.8 352.0h4.9M844.7 354.0h11.3M859.0 353.7h2.7M890.1 354.2h0M950.3 354.3h7.4M846.1 356.0h7.0M856.1 356.3h6.9M956.5 355.9h0M851.5 358.3h0M857.4 358.2h4.3M952.8 358.0h0M957.2 358.4h0M850.9 360.3h6.8M860.8 360.4h0M956.6 360.4h0M852.4 362.3h0M856.4 362.3h2.4M911.9 362.4h0M954.9 362.7h2.4M850.6 364.9h2.6M857.3 364.9h2.7M954.2 364.3h1.6M958.8 364.7h0M854.5 367.0h6.8M880.6 366.5h0M940.7 366.9h0M950.2 367.2h4.6M957.8 366.8h0M853.4 368.4h4.7M951.4 368.8h2.4M956.9 368.5h1.4M861.4 370.8h2.1M880.8 370.5h0M948.2 370.7h0M952.3 370.5h4.6M853.1 373.0h2.5M863.1 373.1h0M943.9 373.2h0M947.0 372.8h12.0M851.6 374.8h5.1M861.0 374.3h0M864.0 374.8h0M945.4 375.2h4.5M852.9 377.0h0M858.2 377.1h1.7M947.1 376.7h0M951.4 377.1h0M958.2 377.5h0M851.6 379.1h0M856.8 379.1h1.9M936.2 379.3h0M942.6 379.0h0M947.8 378.9h4.8M855.2 381.3h0M946.9 381.5h2.0M953.5 381.3h2.8M854.5 383.6h6.8M865.8 383.5h0M868.8 383.6h2.0M938.2 383.9h0M945.4 383.9h4.9M957.6 383.7h0M853.1 385.5h13.8M932.0 385.8h9.8M949.2 385.7h4.5M854.1 387.7h16.7M933.3 387.8h7.6M945.6 388.1h0M954.6 387.8h0M855.5 389.6h16.6M884.0 389.9h0M931.9 389.7h0M934.9 389.7h1.8M939.6 389.6h9.3M951.9 389.7h0M859.1 391.7h9.7M926.0 391.6h0M928.9 392.0h2.1M935.6 391.8h2.2M940.7 391.6h0M945.6 392.0h0M950.5 392.3h0M858.0 394.2h4.5M867.5 393.3h4.6M927.3 393.4h17.2M857.0 395.9h11.6M906.7 395.4h2.2M923.6 395.8h9.7M936.2 396.1h0M940.8 396.1h2.3M857.9 397.8h11.8M917.9 397.9h13.9M936.9 398.2h4.4M944.3 397.9h0M859.2 400.7h0M863.9 399.8h0M866.8 400.3h4.1M892.5 400.4h0M907.1 400.1h0M914.7 400.6h1.9M923.3 400.0h17.3M860.1 402.4h0M865.0 402.2h2.2M900.7 402.3h5.1M910.6 402.0h4.7M924.9 402.0h0M929.4 402.5h0M932.4 402.6h4.7M868.7 404.7h0M897.4 403.8h18.9M919.5 404.3h2.5M926.6 404.4h6.8M859.8 406.5h2.8M867.4 407.0h0M884.4 406.8h0M891.2 406.8h23.9M918.3 406.3h14.1M861.6 408.8h6.9M890.3 408.7h7.1M909.7 408.4h2.3M919.0 408.3h7.1M929.0 408.2h0M865.2 410.9h4.7M884.1 410.9h19.0M908.2 410.8h2.4M920.6 410.7h1.8M927.3 411.0h0M866.8 412.5h11.2M885.3 412.7h7.1M897.1 413.3h7.0M909.2 413.1h5.1M921.5 413.0h4.5M870.0 415.2h11.6M884.5 414.6h4.3M894.0 414.8h0M898.3 415.0h16.8M920.3 414.1h0M868.8 416.9h2.1M878.4 416.7h11.5M897.6 416.6h2.4M904.8 416.9h7.1M872.3 419.4h0M881.6 418.9h2.6M888.8 419.0h0M896.3 418.8h4.2M903.5 419.7h2.2M873.3 420.9h2.8M880.7 420.8h0M885.5 421.4h9.5M897.9 421.4h0M904.4 420.6h0M885.7 425.3h0" stroke="#DDB585" stroke-width="2.55" stroke-linecap="round" fill="none"/>
<path d="M910.8 271.9h0M939.4 272.0h0M892.4 274.2h0M897.9 273.7h0M902.3 274.2h0M909.7 274.8h0M952.6 274.5h0M881.9 276.0h0M886.7 276.2h0M939.4 276.2h0M956.0 276.3h0M876.2 278.5h4.3M914.4 282.6h0M891.6 284.6h0M900.7 289.0h0M873.8 290.7h0M897.6 294.8h0M891.7 301.7h2.1M914.9 301.3h0M885.4 303.8h2.9M906.9 303.5h0M914.3 303.7h2.3M921.5 303.8h0M986.0 303.5h0M879.5 305.5h2.3M886.5 305.8h2.1M891.5 305.7h0M907.9 305.6h0M918.0 305.9h1.8M927.8 305.6h0M987.7 306.0h0M880.7 308.0h1.8M918.8 308.1h2.6M928.6 308.0h0M935.7 307.7h0M947.8 307.6h0M988.4 307.9h0M867.7 310.3h0M872.2 309.8h0M927.3 309.8h2.7M934.7 310.0h0M942.0 309.5h0M949.2 310.0h0M861.5 311.5h0M866.3 311.9h0M876.0 311.7h0M933.1 311.7h5.3M942.8 312.2h2.4M950.3 312.1h0M986.3 311.7h0M864.6 314.1h0M927.5 314.1h0M934.5 313.5h0M946.6 313.9h2.4M990.2 314.1h0M864.4 316.4h0M938.3 315.9h0M945.1 315.9h5.1M871.7 317.8h0M939.5 318.4h0M946.3 318.6h2.6M992.2 318.5h0M822.6 320.5h0M846.8 320.0h0M856.7 320.7h0M863.6 320.8h4.9M942.7 320.4h12.5M990.9 320.1h0M853.2 322.4h0M864.8 322.3h2.6M941.8 322.5h0M949.1 322.5h7.1M847.3 324.4h2.5M866.2 324.1h0M947.8 324.3h2.3M954.9 324.7h2.3M845.5 327.0h2.6M851.1 326.5h0M863.0 326.9h0M951.1 326.8h0M956.4 326.7h0M963.2 326.3h0M825.4 328.9h0M837.5 328.9h0M842.2 328.8h4.6M852.2 329.0h6.9M863.8 328.7h0M955.3 328.6h1.8M831.7 331.1h0M836.2 330.6h16.5M855.9 331.1h4.2M949.1 331.0h7.2M820.5 332.6h0M827.9 333.1h0M839.7 333.2h19.3M955.4 332.8h0M965.0 333.1h0M990.4 333.0h0M819.4 335.0h2.3M828.9 335.1h0M840.9 335.2h9.2M853.3 334.8h6.7M956.1 335.2h2.8M820.3 337.2h0M823.3 337.2h0M827.6 337.1h2.6M835.2 336.9h2.2M849.1 337.0h0M952.9 337.3h11.9M989.2 337.6h0M816.8 339.5h2.2M824.5 339.1h23.6M958.8 339.5h0M823.1 341.6h2.9M832.8 341.0h6.9M844.2 341.3h0M952.8 341.7h2.0M960.0 341.5h0M986.1 341.7h0M821.6 344.0h2.7M828.9 343.5h14.7M813.4 345.7h0M820.3 346.1h0M823.6 345.4h1.5M829.9 346.3h14.8M821.7 347.7h0M826.5 347.3h2.2M836.2 347.5h6.8M816.1 349.6h7.0M827.8 349.9h2.5M835.0 349.9h2.0M840.2 349.9h0M812.4 351.9h9.6M829.0 351.8h7.1M839.0 351.6h0M815.9 353.8h2.1M823.0 354.1h1.8M827.9 354.5h0M832.4 354.4h2.5M814.6 355.8h2.1M821.9 356.1h2.5M829.5 356.1h1.5M836.5 356.3h4.1M843.5 355.6h0M953.7 356.2h0M813.5 358.3h2.6M820.5 357.9h16.9M842.5 358.1h4.5M950.9 358.1h0M955.1 357.8h0M819.4 360.2h9.8M834.0 360.2h0M839.2 360.5h0M845.7 360.0h0M808.2 362.3h0M813.6 362.3h4.8M822.9 362.2h0M827.5 362.8h0M830.4 362.4h9.4M844.1 362.1h5.0M861.8 362.5h0M807.7 364.1h0M812.7 364.0h0M819.4 364.3h0M824.2 364.4h6.9M836.2 364.9h0M841.2 364.7h2.6M820.6 366.0h0M827.7 366.6h5.0M837.4 366.7h9.7M851.7 366.5h0M986.2 366.6h0M812.5 368.2h0M819.2 368.4h0M824.3 368.8h14.3M845.6 369.1h5.6M813.8 370.9h35.3M959.9 370.7h0M809.5 373.2h0M817.1 372.9h19.5M841.0 373.2h2.4M848.8 372.6h1.6M813.1 375.5h0M817.8 375.0h0M823.0 375.6h6.8M835.0 374.9h7.4M846.7 374.8h0M849.8 374.9h0M811.8 377.2h14.6M831.6 377.1h0M835.8 377.2h15.0M855.9 377.1h0M949.1 377.4h0M982.3 377.0h0M811.0 379.6h4.8M820.1 379.1h0M823.5 379.1h2.3M832.7 379.0h9.7M846.8 379.5h2.6M854.3 379.4h0M960.1 379.3h0M824.5 381.2h8.7M838.9 381.1h2.2M848.2 381.4h5.3M818.5 383.3h2.1M825.8 383.3h16.2M847.1 382.9h0M952.7 383.1h2.3M810.0 385.4h2.6M819.6 385.3h2.3M826.8 385.7h14.1M846.0 385.3h4.8M823.3 387.5h14.0M840.3 387.6h11.7M814.4 389.6h2.1M819.7 389.8h0M823.8 389.9h2.1M831.4 389.7h14.2M852.8 389.4h0M816.3 391.8h11.2M832.4 391.4h5.0M842.3 391.8h0M947.6 391.5h0M823.8 394.0h0M826.8 393.9h1.9M833.8 393.5h2.1M838.8 394.2h2.6M949.2 393.8h0M820.5 395.9h0M825.5 396.3h21.1M851.7 396.0h2.8M950.3 396.0h0M817.1 398.1h0M823.9 398.0h2.5M831.2 397.9h24.0M825.5 400.4h7.3M837.2 400.0h0M842.3 400.1h2.3M849.4 400.3h4.5M943.1 400.2h0M821.9 402.4h0M828.8 402.2h7.4M843.2 402.5h9.4M939.1 402.3h0M944.1 402.1h0M820.5 404.6h0M825.5 404.4h2.2M830.7 404.5h1.8M837.5 404.3h0M844.3 404.5h5.0M854.0 404.9h2.5M935.4 404.6h0M940.9 404.5h0M822.0 406.6h0M829.2 406.5h2.3M841.4 406.7h6.9M854.7 406.6h0M858.2 406.6h0M939.3 406.1h0M968.3 406.5h0M825.1 408.5h2.6M837.2 408.7h14.7M856.5 408.6h2.8M930.6 408.4h0M933.5 408.9h0M826.5 410.8h2.2M833.4 411.1h4.8M841.3 410.2h16.6M862.6 410.7h0M925.2 410.5h0M929.6 410.8h0M934.9 410.8h0M835.3 412.6h0M839.8 412.5h2.1M849.3 412.5h14.3M928.4 412.5h0M828.9 414.8h0M838.8 414.7h2.2M855.3 414.5h9.4M896.1 414.7h0M922.9 414.8h0M927.5 414.8h2.2M835.1 417.1h11.5M852.4 417.2h0M856.6 417.6h2.4M863.6 416.9h2.7M921.3 416.9h6.8M829.2 418.7h0M841.1 419.0h0M846.0 418.8h2.3M853.0 418.9h4.3M860.3 419.4h0M864.9 419.8h2.5M908.5 419.3h4.2M920.4 418.7h2.2M837.2 421.1h2.8M844.4 420.6h2.7M856.7 421.2h9.6M870.9 421.2h0M883.2 421.1h0M899.8 421.3h2.5M906.8 421.0h4.8M919.4 421.0h1.6M836.4 423.5h0M846.0 423.4h0M850.5 422.9h2.3M857.6 423.1h2.4M865.4 423.2h2.0M872.7 423.6h1.7M881.9 422.9h2.6M894.0 423.0h13.9M913.1 423.1h0M844.6 425.3h0M849.3 425.3h0M856.4 425.5h4.8M866.1 425.4h0M871.2 425.4h4.3M887.3 425.2h2.4M892.9 425.3h0M897.5 425.4h0M902.2 425.5h7.1M916.5 425.3h0M841.0 428.0h0M845.9 427.5h2.4M853.0 427.8h2.3M860.0 427.0h0M869.8 428.0h6.8M879.6 427.3h1.9M884.6 427.6h13.6M903.2 427.6h0M906.3 427.3h0M844.6 429.9h2.5M851.9 429.4h4.7M861.6 429.4h0M868.6 429.7h1.9M873.5 429.9h0M880.5 429.4h4.6M890.4 429.7h7.1M902.1 429.6h2.3M850.8 431.7h4.5M862.7 431.8h5.0M872.5 432.1h0M879.4 431.7h5.3M889.2 431.9h4.7M898.8 432.0h0M903.8 431.9h0M908.4 431.6h0M844.3 434.0h0M854.2 433.7h8.9M866.0 433.8h0M871.2 433.5h0M875.9 433.9h4.6M885.1 433.6h2.6M892.5 433.0h7.6M904.5 433.8h0M845.7 435.6h5.0M871.6 436.3h0M874.6 436.3h2.2M882.1 435.8h9.1M900.8 436.2h0M854.0 437.8h0M863.9 437.8h2.4M871.3 438.0h4.5M883.3 438.1h0M887.8 437.8h5.1M857.6 440.2h0M862.4 439.9h5.4M854.1 441.9h0M861.2 442.3h2.2M868.8 442.1h0M885.2 441.8h0M857.7 444.2h0M869.6 444.7h0M863.3 446.4h0M865.3 448.8h0M871.8 448.7h0M877.3 448.1h0M873.4 450.8h2.0M899.1 451.3h0M876.9 452.7h0M884.2 453.2h0" stroke="#5B12A0" stroke-width="2.55" stroke-linecap="round" fill="none"/>
<path d="M912.9 285.3h0M934.1 284.7h0M930.8 286.8h9.7M910.0 288.8h0M913.0 288.8h0M929.5 289.1h9.9M949.0 288.8h0M907.1 291.0h4.2M921.2 291.4h0M931.1 291.0h9.5M948.0 291.2h2.3M903.3 292.6h2.9M910.1 293.1h0M918.1 293.2h2.3M932.0 293.4h0M937.5 293.2h2.0M949.3 293.4h2.5M916.5 294.8h0M921.5 294.8h9.6M937.7 295.4h0M948.2 295.2h0M957.1 295.3h0M910.6 296.8h4.5M923.0 297.1h4.2M937.2 297.3h2.4M956.3 297.1h0M961.0 297.4h2.3M914.3 299.2h0M918.7 299.3h4.9M938.0 299.3h2.4M957.3 299.8h8.0M969.5 299.4h2.4M920.3 301.7h9.9M939.2 301.6h0M948.8 301.5h0M958.4 301.7h2.0M963.5 301.6h7.2M923.6 303.5h0M930.6 303.5h0M938.2 303.8h0M945.5 303.6h0M957.5 303.5h2.3M964.3 303.5h7.1M974.5 303.4h0M948.9 305.7h0M956.4 306.0h7.2M968.3 305.9h4.8M950.6 307.7h1.9M956.9 307.6h0M962.4 307.9h0M971.9 308.0h1.9M951.5 310.0h4.8M963.4 310.0h4.9M972.8 309.7h2.2M964.7 312.2h0M963.0 314.1h2.7" stroke="#229150" stroke-width="2.55" stroke-linecap="round" fill="none"/>
<path d="M892.6 303.3h0M908.9 304.1h0M893.2 305.9h0M905.9 305.5h0M915.6 305.6h0M878.1 307.7h0M887.4 308.0h0M902.3 307.5h4.5M877.3 309.6h0M881.6 309.8h0M886.1 309.3h0M889.3 310.1h4.5M900.8 310.2h0M903.7 309.5h2.0M910.9 310.0h4.2M923.0 309.9h0M878.5 312.1h6.3M894.9 312.4h9.2M909.5 312.0h0M914.2 311.8h0M921.8 312.0h2.2M928.8 312.1h0M877.1 314.2h19.0M900.8 314.0h2.4M910.2 314.1h7.1M924.5 314.3h0M930.0 314.6h2.2M873.4 316.2h2.5M880.6 316.0h10.0M895.0 316.3h9.6M909.6 316.6h0M916.6 315.9h0M919.5 316.2h0M924.0 316.6h7.2M936.1 316.1h0M874.8 317.9h2.3M881.6 317.6h7.0M893.8 318.2h9.7M906.6 318.5h1.6M911.2 318.6h1.5M917.5 318.3h2.3M925.3 318.2h4.4M937.2 318.3h0M870.9 320.5h0M875.6 320.6h2.7M885.4 320.4h0M893.1 320.0h4.2M905.0 320.4h1.3M909.7 321.0h7.0M921.3 320.3h10.0M938.0 320.5h2.7M869.9 322.5h7.0M886.5 322.6h0M893.7 322.2h4.9M905.7 322.9h5.0M915.4 322.6h16.9M937.0 322.8h0M868.5 324.5h5.0M878.7 324.2h0M885.2 324.8h0M895.2 324.7h4.5M902.6 324.7h1.7M907.2 325.0h16.2M926.4 324.6h2.3M933.2 324.6h2.5M943.5 324.6h0M867.8 326.3h1.4M872.1 326.7h7.3M894.4 326.7h7.0M905.8 326.7h0M910.5 326.9h1.9M915.5 326.7h0M922.7 326.8h0M927.6 326.6h4.6M939.2 326.3h4.9M865.9 328.9h0M869.0 328.7h13.8M888.3 329.2h1.9M894.8 328.9h0M899.4 328.7h0M904.2 329.1h0M909.5 329.0h6.8M919.2 328.8h6.9M930.5 328.3h5.1M940.7 329.1h2.9M869.8 330.7h4.8M884.0 330.9h12.0M903.9 330.9h4.3M913.3 330.5h8.7M925.3 330.9h1.7M930.3 331.1h4.5M939.5 330.9h4.6M868.7 333.2h0M871.6 332.9h8.9M887.9 332.9h7.2M902.3 333.2h0M909.1 333.5h4.8M916.9 332.9h9.0M929.0 333.0h2.2M935.8 333.2h9.8M865.1 334.9h0M870.0 334.9h11.4M888.8 334.8h0M894.3 335.4h0M900.9 334.8h2.9M908.3 335.0h9.6M924.9 335.2h9.9M941.6 335.1h7.5M863.8 337.2h12.6M882.9 337.3h9.6M901.8 337.1h7.4M914.2 337.3h5.1M926.0 337.1h7.6M937.9 337.5h7.4M865.1 339.4h9.4M884.2 339.0h2.2M889.4 339.3h2.0M896.3 339.3h0M908.1 339.5h0M917.5 339.7h0M924.8 339.2h21.9M866.3 341.4h9.7M885.4 340.9h2.4M892.6 341.2h0M897.6 341.5h0M902.3 341.1h2.5M911.7 341.4h5.3M921.7 341.4h23.9M867.3 343.1h4.7M884.4 343.1h7.1M895.9 343.2h7.1M913.2 343.5h4.7M925.0 343.2h19.4M861.5 345.7h0M868.5 345.4h2.6M875.8 345.8h6.8M885.9 345.1h0M890.1 345.5h17.2M916.2 345.6h14.8M935.8 345.7h0M945.3 345.5h4.3M865.3 347.5h2.6M872.1 347.6h0M877.2 347.5h7.0M889.6 347.5h6.4M903.6 347.6h6.9M915.9 347.7h11.7M930.4 347.9h4.2M944.1 347.1h5.2M859.1 350.0h0M866.1 350.1h12.3M884.9 349.8h0M894.8 349.8h0M902.0 349.7h2.6M909.0 350.2h12.4M926.4 349.9h8.9M938.5 349.9h11.7M864.8 351.4h14.6M884.0 352.6h11.9M900.7 351.6h0M908.1 352.5h2.7M915.3 352.0h7.0M928.0 351.8h3.9M937.2 352.0h14.1M863.7 354.1h0M866.7 353.8h4.2M876.0 354.2h11.7M892.5 354.3h0M899.7 353.8h9.7M914.4 354.2h1.9M919.5 354.3h11.2M938.4 353.8h2.5M947.6 354.1h0M865.3 355.9h6.9M879.2 356.3h0M882.1 355.8h9.2M898.8 356.0h0M903.5 356.0h4.5M915.3 355.7h0M922.6 355.9h2.6M929.7 355.9h1.9M934.8 356.2h0M939.1 356.0h0M866.1 358.1h0M871.3 358.3h2.0M880.4 358.2h2.1M888.0 358.0h2.2M895.5 358.2h4.1M904.6 358.3h4.5M912.1 358.6h0M921.7 358.0h0M931.0 358.0h2.7M940.9 357.9h0M867.0 360.4h5.1M879.1 360.5h2.2M889.1 359.9h21.5M922.5 360.5h0M937.2 360.5h2.6M944.2 359.8h2.4M866.3 362.8h4.5M875.7 362.4h0M878.6 362.2h1.6M885.2 362.9h0M890.4 362.5h0M897.5 362.5h2.5M904.6 362.1h0M914.0 362.3h5.0M924.3 362.3h0M935.9 362.4h1.8M945.1 362.0h2.4M865.2 364.3h7.3M879.6 364.3h6.4M889.0 364.8h16.9M910.7 364.3h14.4M936.9 364.3h0M866.3 367.0h2.1M871.3 366.6h4.3M882.8 366.9h0M890.1 366.4h2.2M895.4 366.0h9.2M909.8 366.7h1.6M916.9 366.6h2.1M923.7 366.8h2.8M930.8 366.8h7.3M947.5 366.7h0M862.9 368.7h0M872.0 368.7h0M879.5 368.5h6.9M891.5 368.4h0M901.0 368.5h2.0M910.6 368.6h2.5M917.7 368.5h1.9M924.9 368.5h0M929.8 368.7h19.4M873.7 371.2h4.4M883.0 371.1h2.7M895.3 370.7h9.1M909.7 371.4h2.5M918.8 371.2h0M931.3 370.7h4.4M943.0 370.4h2.3M865.0 373.1h17.0M886.1 372.9h0M889.1 373.0h9.5M903.8 372.7h0M908.6 372.6h11.7M927.5 373.0h4.1M866.7 375.1h1.5M873.7 375.0h2.1M880.1 375.2h2.9M887.5 374.4h5.2M904.1 374.6h0M908.9 374.8h0M912.1 375.3h2.2M924.2 375.0h6.2M867.2 377.6h0M877.0 377.2h16.8M906.0 376.9h7.0M922.9 377.5h8.9M936.8 377.1h2.7M875.6 378.9h0M878.7 379.2h9.0M890.6 378.9h11.3M907.2 379.2h2.0M918.7 379.3h14.5M938.1 379.1h2.4M867.6 381.1h0M874.8 380.8h11.7M891.4 381.2h0M898.5 381.2h4.9M914.9 381.7h0M917.9 381.2h12.0M937.0 381.6h2.6M873.3 383.5h9.4M885.7 384.0h11.5M902.3 384.0h9.6M916.7 383.5h0M923.6 383.8h7.5M870.0 385.8h23.2M896.3 385.8h2.2M902.9 385.5h0M910.6 385.3h4.5M920.2 385.4h4.3M929.5 385.1h0M874.0 387.5h11.1M888.2 387.3h2.0M895.0 387.7h28.3M928.6 387.3h2.4M877.0 389.6h4.7M898.4 389.3h0M903.5 389.7h4.9M913.1 390.0h16.5M871.1 391.9h0M878.0 392.3h9.8M894.4 391.8h17.1M916.6 391.7h7.0M933.0 391.6h0M874.1 393.8h14.8M898.8 394.1h26.3M871.4 396.4h0M878.2 396.3h11.6M894.9 396.0h0M899.9 395.7h0M904.3 396.0h0M911.7 395.9h7.8M877.1 398.0h19.3M901.5 397.8h13.6M873.9 400.0h4.1M882.9 400.0h7.1M902.4 400.3h1.7M909.5 400.0h0M869.7 402.5h0M874.9 401.9h0M881.9 402.3h6.5M908.3 402.5h0M871.0 404.6h0M880.7 404.1h4.6M892.2 404.4h0M869.8 406.7h4.7M879.4 406.4h2.7M886.1 406.5h0M870.9 408.7h0M878.3 408.2h4.5M885.8 408.3h2.2M879.6 410.8h2.1" stroke="#4BAAD9" stroke-width="2.55" stroke-linecap="round" fill="none"/>
<rect x="988.1" y="226.9" width="35.0" height="6.9" fill="#000"/>
<path d="M1266.4 253.0h16.0M1304.8 253.0h0M1320.8 253.0h0M1242.4 254.6h28.8M1293.6 254.6h0M1303.2 254.6h0M1312.8 254.6h0M1319.2 254.6h3.2M1237.6 256.2h35.2M1317.6 256.2h9.6M1232.8 257.8h35.2M1312.8 257.8h19.2M1231.2 259.4h38.4M1317.6 259.4h19.2M1229.6 261.0h35.2M1296.8 261.0h0M1306.4 261.0h0M1316.0 261.0h22.4M1228.0 262.6h32.0M1266.4 262.6h3.2M1304.8 262.6h0M1314.4 262.6h28.8M1223.2 264.2h0M1229.6 264.2h35.2M1316.0 264.2h28.8M1218.4 265.8h0M1224.8 265.8h0M1231.2 265.8h32.0M1314.4 265.8h35.2M1226.4 267.4h38.4M1319.2 267.4h32.0M1228.0 269.0h35.2M1327.2 269.0h22.4M1207.2 270.6h0M1213.6 270.6h0M1226.4 270.6h35.2M1332.0 270.6h22.4M1212.0 272.2h0M1224.8 272.2h41.6M1333.6 272.2h22.4M1216.8 273.8h0M1223.2 273.8h38.4M1335.2 273.8h22.4M1212.0 275.4h51.2M1333.6 275.4h25.6M1213.6 277.0h0M1220.0 277.0h38.4M1335.2 277.0h25.6M1205.6 278.6h0M1215.2 278.6h44.8M1333.6 278.6h6.4M1346.4 278.6h16.0M1213.6 280.2h44.8M1338.4 280.2h0M1344.8 280.2h19.2M1208.8 281.8h51.2M1340.0 281.8h0M1346.4 281.8h19.2M1204.0 283.4h57.6M1344.8 283.4h22.4M1199.2 285.0h57.6M1346.4 285.0h22.4M1197.6 286.6h0M1204.0 286.6h41.6M1252.0 286.6h3.2M1348.0 286.6h22.4M1189.6 288.2h0M1196.0 288.2h51.2M1349.6 288.2h22.4M1191.2 289.8h51.2M1351.2 289.8h22.4M1180.0 291.4h64.0M1352.8 291.4h22.4M1191.2 293.0h54.4M1351.2 293.0h25.6M1183.2 294.6h0M1189.6 294.6h54.4M1359.2 294.6h19.2M1188.0 296.2h54.4M1360.8 296.2h19.2M1183.2 297.8h48.0M1240.8 297.8h0M1356.0 297.8h0M1362.4 297.8h19.2M1175.2 299.4h0M1181.6 299.4h0M1188.0 299.4h41.6M1357.6 299.4h25.6M1180.0 301.0h48.0M1362.4 301.0h19.2M1172.0 302.6h0M1178.4 302.6h48.0M1360.8 302.6h22.4M1173.6 304.2h51.2M1362.4 304.2h22.4M1168.8 305.8h0M1175.2 305.8h38.4M1220.0 305.8h0M1370.4 305.8h16.0M1170.4 307.4h32.0M1208.8 307.4h3.2M1368.8 307.4h19.2M1162.4 309.0h0M1175.2 309.0h25.6M1367.2 309.0h19.2M1164.0 310.6h0M1170.4 310.6h32.0M1365.6 310.6h22.4M1159.2 312.2h0M1168.8 312.2h28.8M1367.2 312.2h22.4M1157.6 313.8h6.4M1170.4 313.8h0M1176.8 313.8h16.0M1368.8 313.8h22.4M1181.6 315.4h0M1188.0 315.4h3.2M1367.2 315.4h25.6M1157.6 317.0h3.2M1186.4 317.0h0M1368.8 317.0h22.4M1159.2 318.6h3.2M1376.8 318.6h16.0M1170.4 320.2h0M1372.0 320.2h22.4M1159.2 321.8h0M1373.6 321.8h0M1380.0 321.8h16.0M1381.6 323.4h12.8M1152.8 325.0h0M1175.2 325.0h0M1380.0 325.0h16.0M1381.6 326.6h16.0M1168.8 328.2h0M1380.0 328.2h19.2M1381.6 329.8h19.2M1156.0 331.4h0M1383.2 331.4h16.0M1384.8 333.0h16.0M1159.2 334.6h0M1386.4 334.6h12.8M1384.8 336.2h16.0M1149.6 337.8h0M1386.4 337.8h16.0M1384.8 339.4h16.0M1162.4 341.0h0M1386.4 341.0h16.0M1381.6 342.6h22.4M1383.2 344.2h19.2M1388.0 345.8h16.0M1383.2 347.4h22.4M1381.6 349.0h0M1388.0 349.0h16.0M1146.4 350.6h0M1156.0 350.6h0M1389.6 350.6h16.0M1388.0 352.2h19.2M1146.4 353.8h0M1389.6 353.8h19.2M1391.2 355.4h16.0M1389.6 357.0h19.2M1388.0 358.6h19.2M1389.6 360.2h19.2M1388.0 361.8h22.4M1146.4 363.4h0M1386.4 363.4h0M1392.8 363.4h16.0M1394.4 365.0h16.0M1392.8 366.6h16.0M1148.0 368.2h0M1391.2 368.2h19.2M1389.6 369.8h22.4M1148.0 371.4h0M1391.2 371.4h19.2M1149.6 373.0h0M1389.6 373.0h19.2M1391.2 374.6h19.2M1149.6 376.2h0M1386.4 376.2h25.6M1151.2 377.8h0M1388.0 377.8h22.4M1149.6 379.4h0M1389.6 379.4h22.4M1151.2 381.0h0M1388.0 381.0h22.4M1152.8 382.6h0M1389.6 382.6h22.4M1151.2 384.2h0M1157.6 384.2h0M1391.2 384.2h19.2M1156.0 385.8h0M1389.6 385.8h22.4M1157.6 387.4h0M1391.2 387.4h19.2M1156.0 389.0h0M1162.4 389.0h0M1392.8 389.0h19.2M1391.2 390.6h19.2M1152.8 392.2h0M1392.8 392.2h19.2M1154.4 393.8h0M1167.2 393.8h0M1391.2 393.8h19.2M1156.0 395.4h0M1386.4 395.4h22.4M1160.8 397.0h0M1384.8 397.0h25.6M1168.8 398.6h0M1383.2 398.6h25.6M1157.6 400.2h0M1173.6 400.2h0M1384.8 400.2h25.6M1159.2 401.8h0M1383.2 401.8h25.6M1160.8 403.4h0M1167.2 403.4h0M1381.6 403.4h25.6M1383.2 405.0h25.6M1167.2 406.6h0M1173.6 406.6h0M1381.6 406.6h25.6M1380.0 408.2h28.8M1378.4 409.8h9.6M1394.4 409.8h12.8M1175.2 411.4h0M1376.8 411.4h6.4M1392.8 411.4h12.8M1173.6 413.0h0M1378.4 413.0h9.6M1397.6 413.0h9.6M1168.8 414.6h0M1380.0 414.6h3.2M1396.0 414.6h9.6M1381.6 416.2h3.2M1397.6 416.2h6.4M1373.6 417.8h0M1380.0 417.8h3.2M1399.2 417.8h3.2M1372.0 419.4h9.6M1397.6 419.4h6.4M1175.2 421.0h0M1373.6 421.0h0M1380.0 421.0h3.2M1396.0 421.0h6.4M1180.0 422.6h0M1368.8 422.6h0M1375.2 422.6h3.2M1397.6 422.6h6.4M1172.0 424.2h0M1178.4 424.2h0M1184.8 424.2h0M1370.4 424.2h0M1376.8 424.2h0M1399.2 424.2h3.2M1170.4 425.8h0M1186.4 425.8h0M1368.8 425.8h0M1397.6 425.8h3.2M1178.4 427.4h0M1367.2 427.4h0M1373.6 427.4h3.2M1396.0 427.4h6.4M1176.8 429.0h0M1368.8 429.0h6.4M1397.6 429.0h3.2M1175.2 430.6h0M1367.2 430.6h3.2M1389.6 430.6h9.6M1186.4 432.2h0M1372.0 432.2h3.2M1388.0 432.2h9.6M1188.0 433.8h0M1364.0 433.8h3.2M1389.6 433.8h9.6M1183.2 435.4h0M1189.6 435.4h0M1365.6 435.4h0M1384.8 435.4h12.8M1364.0 437.0h3.2M1386.4 437.0h9.6M1180.0 438.6h0M1189.6 438.6h3.2M1384.8 438.6h9.6M1383.2 440.2h12.8M1180.0 441.8h0M1378.4 441.8h16.0M1191.2 443.4h0M1380.0 443.4h12.8M1183.2 445.0h0M1375.2 445.0h16.0M1184.8 446.6h0M1360.8 446.6h0M1376.8 446.6h12.8M1186.4 448.2h0M1196.0 448.2h0M1202.4 448.2h0M1352.8 448.2h0M1372.0 448.2h16.0M1194.4 449.8h3.2M1373.6 449.8h16.0M1189.6 451.4h3.2M1368.8 451.4h16.0M1200.8 453.0h0M1325.6 453.0h0M1360.8 453.0h0M1367.2 453.0h16.0M1192.8 454.6h0M1218.4 454.6h0M1320.8 454.6h6.4M1362.4 454.6h19.2M1316.0 456.2h9.6M1332.0 456.2h0M1357.6 456.2h25.6M1196.0 457.8h0M1317.6 457.8h6.4M1330.4 457.8h3.2M1352.8 457.8h25.6M1200.8 459.4h0M1216.8 459.4h3.2M1312.8 459.4h6.4M1325.6 459.4h3.2M1338.4 459.4h0M1357.6 459.4h19.2M1218.4 461.0h0M1311.2 461.0h9.6M1349.6 461.0h25.6M1309.6 462.6h12.8M1344.8 462.6h28.8M1212.0 464.2h3.2M1308.0 464.2h9.6M1343.2 464.2h28.8M1213.6 465.8h0M1223.2 465.8h0M1229.6 465.8h0M1306.4 465.8h9.6M1338.4 465.8h32.0M1336.8 467.4h0M1343.2 467.4h22.4M1239.2 469.0h0M1306.4 469.0h0M1312.8 469.0h0M1325.6 469.0h38.4M1224.8 470.6h0M1292.0 470.6h0M1301.6 470.6h0M1317.6 470.6h0M1333.6 470.6h28.8M1223.2 472.2h6.4M1312.8 472.2h0M1322.4 472.2h0M1332.0 472.2h28.8M1228.0 473.8h0M1244.0 473.8h0M1253.6 473.8h0M1269.6 473.8h3.2M1292.0 473.8h0M1311.2 473.8h3.2M1333.6 473.8h22.4M1229.6 475.4h3.2M1242.4 475.4h0M1248.8 475.4h0M1303.2 475.4h0M1319.2 475.4h0M1328.8 475.4h0M1335.2 475.4h16.0M1234.4 477.0h0M1240.8 477.0h0M1256.8 477.0h0M1269.6 477.0h0M1333.6 477.0h12.8M1255.2 478.6h0M1268.0 478.6h0M1274.4 478.6h0M1287.2 478.6h0M1328.8 478.6h16.0M1240.8 480.2h0M1250.4 480.2h0M1282.4 480.2h0M1298.4 480.2h0M1317.6 480.2h0M1330.4 480.2h12.8M1255.2 481.8h0M1271.2 481.8h0M1287.2 481.8h0M1325.6 481.8h12.8M1250.4 483.4h0M1260.0 483.4h0M1266.4 483.4h0M1272.8 483.4h0M1298.4 483.4h0M1320.8 483.4h0M1327.2 483.4h6.4M1268.0 485.0h0M1280.8 485.0h0M1312.8 485.0h3.2M1322.4 485.0h6.4M1256.8 486.6h6.4M1279.2 486.6h0M1324.0 486.6h0M1293.6 488.2h6.4M1316.0 488.2h0M1263.2 489.8h0M1279.2 489.8h6.4M1295.2 489.8h3.2M1304.8 489.8h0M1271.2 491.4h0M1269.6 493.0h0M1287.2 494.6h0" stroke="#FDD233" stroke-width="2.5" stroke-linecap="round" fill="none"/>
<path d="M1228.0 259.4h0M1223.2 261.0h0M1224.8 262.6h0M1220.0 264.2h0M1216.8 267.4h0M1223.2 267.4h0M1212.0 269.0h0M1218.4 269.0h6.4M1210.4 270.6h0M1216.8 270.6h3.2M1208.8 272.2h0M1218.4 272.2h3.2M1204.0 273.8h0M1210.4 273.8h3.2M1220.0 273.8h0M1202.4 275.4h6.4M1200.8 277.0h3.2M1196.0 278.6h3.2M1208.8 278.6h3.2M1194.4 280.2h12.8M1192.8 281.8h0M1199.2 281.8h6.4M1191.2 283.4h0M1197.6 283.4h0M1192.8 285.0h0M1200.8 286.6h0M1186.4 288.2h0M1192.8 288.2h0M1184.8 289.8h3.2M1181.6 293.0h3.2M1176.8 294.6h3.2M1186.4 294.6h0M1175.2 296.2h6.4M1173.6 297.8h6.4M1172.0 299.4h0M1170.4 301.0h6.4M1168.8 302.6h0M1175.2 302.6h0M1170.4 304.2h0M1165.6 305.8h0M1172.0 305.8h0M1164.0 307.4h3.2M1172.0 309.0h0M1160.8 310.6h0M1167.2 310.6h0M1162.4 312.2h0M1159.2 315.4h3.2M1175.2 315.4h0M1164.0 317.0h0M1176.8 317.0h0M1175.2 318.6h0M1175.2 321.8h0M1156.0 325.0h0M1162.4 325.0h0M1165.6 328.2h0M1154.4 329.8h3.2M1164.0 329.8h0M1160.8 339.4h0M1157.6 345.8h0M1154.4 349.0h0M1151.2 352.2h0M1152.8 353.8h0M1154.4 355.4h0M1154.4 384.2h0M1162.4 385.8h0M1157.6 397.0h0M1170.4 403.4h3.2M1175.2 405.0h0M1160.8 406.6h0M1173.6 409.8h0M1391.2 409.8h0M1389.6 411.4h0M1391.2 413.0h3.2M1389.6 414.6h3.2M1176.8 416.2h0M1388.0 416.2h6.4M1168.8 417.8h0M1386.4 417.8h3.2M1396.0 417.8h0M1388.0 419.4h6.4M1386.4 421.0h6.4M1381.6 422.6h6.4M1394.4 422.6h0M1383.2 424.2h12.8M1375.2 425.8h19.2M1191.2 427.4h0M1380.0 427.4h3.2M1392.8 427.4h0M1183.2 429.0h0M1381.6 429.0h3.2M1391.2 429.0h0M1376.8 430.6h0M1383.2 430.6h3.2M1368.8 432.2h0M1378.4 432.2h6.4M1370.4 433.8h9.6M1386.4 433.8h0M1368.8 435.4h12.8M1188.0 437.0h0M1370.4 437.0h3.2M1380.0 437.0h3.2M1368.8 438.6h12.8M1364.0 440.2h6.4M1376.8 440.2h3.2M1365.6 441.8h9.6M1360.8 443.4h0M1367.2 443.4h6.4M1186.4 445.0h0M1205.6 445.0h0M1359.2 445.0h12.8M1354.4 446.6h3.2M1364.0 446.6h9.6M1356.0 448.2h6.4M1368.8 448.2h0M1357.6 449.8h6.4M1346.4 451.4h9.6M1362.4 451.4h3.2M1197.6 453.0h0M1344.8 453.0h0M1354.4 453.0h3.2M1364.0 453.0h0M1340.0 454.6h3.2M1349.6 454.6h9.6M1220.0 456.2h0M1335.2 456.2h0M1341.6 456.2h0M1348.0 456.2h0M1354.4 456.2h0M1327.2 457.8h0M1336.8 457.8h6.4M1349.6 457.8h0M1210.4 459.4h0M1232.8 459.4h0M1322.4 459.4h0M1332.0 459.4h0M1341.6 459.4h12.8M1231.2 461.0h0M1324.0 461.0h19.2M1328.8 462.6h6.4M1341.6 462.6h0M1320.8 464.2h3.2M1330.4 464.2h9.6M1319.2 465.8h16.0M1234.4 467.4h0M1311.2 467.4h6.4M1324.0 467.4h9.6M1220.0 469.0h0M1229.6 469.0h0M1319.2 469.0h0M1240.8 470.6h0M1311.2 470.6h0M1330.4 470.6h0M1245.6 472.2h0M1252.0 472.2h3.2M1303.2 472.2h0M1309.6 472.2h0M1319.2 472.2h0M1256.8 473.8h0M1266.4 473.8h0M1317.6 473.8h0M1327.2 473.8h0M1258.4 475.4h0M1271.2 475.4h0M1316.0 475.4h0M1332.0 475.4h0M1247.2 477.0h3.2M1266.4 477.0h0M1272.8 477.0h0M1301.6 477.0h0M1314.4 477.0h0M1324.0 477.0h6.4M1296.8 478.6h0M1263.2 480.2h0M1276.0 480.2h0M1295.2 480.2h0M1311.2 480.2h0M1320.8 480.2h3.2M1268.0 481.8h0M1277.6 481.8h0M1293.6 481.8h3.2M1306.4 481.8h3.2M1316.0 481.8h3.2M1263.2 483.4h0M1282.4 483.4h3.2M1295.2 483.4h0M1301.6 483.4h3.2M1317.6 483.4h0M1274.4 485.0h3.2M1284.0 485.0h0M1300.0 485.0h0M1309.6 485.0h0M1266.4 486.6h0M1276.0 486.6h0M1282.4 486.6h3.2M1292.0 486.6h0M1301.6 486.6h0M1311.2 486.6h0M1320.8 486.6h0M1261.6 488.2h0M1277.6 488.2h0M1303.2 488.2h0M1266.4 489.8h6.4M1301.6 489.8h0M1284.0 491.4h3.2M1293.6 491.4h0M1272.8 493.0h0M1279.2 493.0h0M1285.6 493.0h0M1274.4 494.6h3.2M1282.4 496.2h0" stroke="#8CA7DB" stroke-width="2.5" stroke-linecap="round" fill="none"/>
<path d="M1290.4 254.6h0M1292.0 256.2h0M1298.4 256.2h0M1304.8 256.2h0M1226.4 261.0h0M1284.0 261.0h0M1221.6 262.6h0M1276.0 262.6h0M1285.6 262.6h0M1292.0 262.6h0M1226.4 264.2h0M1306.4 264.2h0M1221.6 265.8h0M1228.0 265.8h0M1288.8 265.8h0M1304.8 265.8h0M1220.0 267.4h0M1215.2 269.0h0M1223.2 270.6h0M1205.6 272.2h0M1215.2 272.2h0M1207.2 273.8h0M1303.2 273.8h3.2M1207.2 277.0h3.2M1216.8 277.0h0M1293.6 277.0h0M1202.4 278.6h0M1282.4 278.6h0M1288.8 278.6h0M1311.2 278.6h3.2M1210.4 280.2h0M1196.0 281.8h0M1279.2 281.8h0M1320.8 281.8h0M1330.4 281.8h3.2M1194.4 283.4h0M1200.8 283.4h0M1274.4 283.4h0M1325.6 283.4h3.2M1189.6 285.0h0M1196.0 285.0h0M1266.4 285.0h0M1276.0 285.0h0M1327.2 285.0h3.2M1188.0 286.6h6.4M1333.6 288.2h0M1255.2 289.8h0M1335.2 289.8h0M1188.0 293.0h0M1335.2 293.0h3.2M1184.8 296.2h0M1245.6 296.2h0M1344.8 296.2h0M1343.2 297.8h0M1178.4 299.4h0M1184.8 299.4h0M1354.4 302.6h0M1167.2 304.2h0M1352.8 304.2h0M1223.2 305.8h0M1221.6 307.4h0M1165.6 309.0h3.2M1165.6 312.2h0M1208.8 313.8h6.4M1165.6 315.4h6.4M1178.4 315.4h0M1204.0 315.4h0M1170.4 317.0h3.2M1180.0 317.0h3.2M1189.6 317.0h0M1212.0 317.0h0M1156.0 318.6h0M1178.4 318.6h12.8M1200.8 318.6h0M1154.4 320.2h3.2M1164.0 320.2h3.2M1173.6 320.2h3.2M1183.2 320.2h3.2M1156.0 321.8h0M1162.4 321.8h9.6M1184.8 321.8h0M1194.4 321.8h0M1157.6 323.4h0M1164.0 323.4h6.4M1159.2 325.0h0M1165.6 325.0h6.4M1151.2 326.6h0M1160.8 326.6h0M1167.2 326.6h6.4M1156.0 328.2h3.2M1172.0 328.2h0M1178.4 328.2h0M1191.2 328.2h0M1151.2 329.8h0M1160.8 329.8h0M1167.2 329.8h0M1180.0 329.8h0M1368.8 329.8h3.2M1165.6 331.4h3.2M1151.2 333.0h9.6M1167.2 333.0h0M1173.6 333.0h0M1152.8 334.6h0M1154.4 336.2h0M1152.8 337.8h0M1159.2 337.8h0M1148.0 339.4h0M1154.4 339.4h3.2M1266.4 339.4h0M1149.6 341.0h3.2M1159.2 341.0h0M1370.4 341.0h0M1148.0 342.6h12.8M1247.2 342.6h0M1372.0 342.6h0M1149.6 344.2h0M1373.6 344.2h0M1151.2 345.8h3.2M1146.4 347.4h12.8M1165.6 347.4h0M1148.0 349.0h0M1157.6 349.0h0M1234.4 349.0h0M1152.8 350.6h0M1159.2 350.6h0M1303.2 350.6h0M1380.0 350.6h0M1154.4 352.2h3.2M1159.2 353.8h0M1165.6 353.8h0M1148.0 355.4h3.2M1157.6 355.4h3.2M1156.0 357.0h0M1148.0 358.6h0M1157.6 358.6h0M1221.6 358.6h0M1149.6 360.2h0M1159.2 360.2h3.2M1148.0 361.8h0M1154.4 361.8h0M1164.0 361.8h0M1152.8 363.4h0M1162.4 363.4h0M1164.0 365.0h0M1149.6 366.6h3.2M1159.2 366.6h0M1151.2 368.2h0M1157.6 368.2h0M1164.0 368.2h3.2M1151.2 371.4h0M1167.2 371.4h0M1378.4 371.4h0M1156.0 373.0h0M1162.4 373.0h0M1168.8 373.0h0M1154.4 374.6h0M1164.0 374.6h3.2M1152.8 376.2h0M1162.4 376.2h0M1207.2 376.2h6.4M1154.4 377.8h0M1160.8 377.8h0M1212.0 377.8h0M1378.4 377.8h0M1156.0 379.4h0M1162.4 379.4h0M1210.4 379.4h0M1154.4 381.0h0M1164.0 381.0h0M1202.4 381.0h6.4M1378.4 381.0h0M1210.4 382.6h0M1376.8 382.6h3.2M1160.8 384.2h0M1167.2 384.2h0M1192.8 384.2h9.6M1208.8 384.2h3.2M1152.8 385.8h0M1159.2 385.8h0M1165.6 385.8h3.2M1191.2 385.8h0M1200.8 385.8h3.2M1164.0 387.4h0M1186.4 387.4h0M1192.8 387.4h3.2M1202.4 387.4h6.4M1159.2 389.0h0M1165.6 389.0h0M1204.0 389.0h0M1157.6 390.6h3.2M1189.6 390.6h0M1199.2 390.6h0M1205.6 390.6h0M1156.0 392.2h6.4M1207.2 392.2h3.2M1380.0 392.2h0M1157.6 393.8h6.4M1176.8 393.8h0M1183.2 393.8h3.2M1208.8 393.8h3.2M1162.4 395.4h3.2M1194.4 395.4h0M1207.2 395.4h0M1213.6 395.4h0M1373.6 395.4h0M1380.0 395.4h0M1167.2 397.0h3.2M1180.0 397.0h3.2M1189.6 397.0h0M1199.2 397.0h0M1159.2 398.6h0M1165.6 398.6h0M1172.0 398.6h0M1181.6 398.6h0M1200.8 398.6h0M1207.2 398.6h0M1160.8 400.2h9.6M1205.6 400.2h0M1212.0 400.2h0M1168.8 401.8h6.4M1181.6 401.8h0M1194.4 401.8h0M1164.0 403.4h0M1162.4 405.0h3.2M1172.0 405.0h0M1184.8 405.0h0M1319.2 405.0h0M1164.0 406.6h0M1196.0 406.6h0M1317.6 406.6h0M1336.8 406.6h0M1162.4 408.2h6.4M1175.2 408.2h3.2M1194.4 408.2h0M1210.4 408.2h0M1316.0 408.2h0M1164.0 409.8h6.4M1183.2 409.8h0M1196.0 409.8h0M1205.6 409.8h0M1314.4 409.8h0M1327.2 409.8h0M1333.6 409.8h0M1165.6 411.4h0M1172.0 411.4h0M1178.4 411.4h0M1188.0 411.4h0M1194.4 411.4h3.2M1319.2 411.4h0M1386.4 411.4h0M1164.0 413.0h0M1170.4 413.0h0M1189.6 413.0h0M1333.6 413.0h0M1165.6 414.6h0M1172.0 414.6h6.4M1184.8 414.6h3.2M1197.6 414.6h0M1204.0 414.6h0M1316.0 414.6h0M1373.6 414.6h0M1386.4 414.6h0M1167.2 416.2h6.4M1196.0 416.2h0M1320.8 416.2h0M1178.4 417.8h0M1191.2 417.8h6.4M1312.8 417.8h6.4M1392.8 417.8h0M1173.6 419.4h3.2M1183.2 419.4h0M1192.8 419.4h0M1212.0 419.4h0M1221.6 419.4h3.2M1311.2 419.4h0M1324.0 419.4h0M1384.8 419.4h0M1172.0 421.0h0M1184.8 421.0h0M1226.4 421.0h0M1319.2 421.0h0M1170.4 422.6h6.4M1186.4 422.6h0M1212.0 422.6h0M1311.2 422.6h0M1324.0 422.6h0M1362.4 422.6h0M1391.2 422.6h0M1175.2 424.2h0M1188.0 424.2h0M1220.0 424.2h0M1306.4 424.2h0M1380.0 424.2h0M1173.6 425.8h3.2M1202.4 425.8h0M1231.2 425.8h0M1301.6 425.8h0M1314.4 425.8h0M1324.0 425.8h0M1352.8 425.8h0M1175.2 427.4h0M1181.6 427.4h3.2M1197.6 427.4h6.4M1220.0 427.4h3.2M1232.8 427.4h0M1306.4 427.4h0M1319.2 427.4h0M1332.0 427.4h0M1357.6 427.4h3.2M1386.4 427.4h3.2M1173.6 429.0h0M1180.0 429.0h0M1189.6 429.0h0M1199.2 429.0h0M1212.0 429.0h0M1237.6 429.0h0M1301.6 429.0h0M1333.6 429.0h6.4M1349.6 429.0h0M1365.6 429.0h0M1378.4 429.0h0M1388.0 429.0h0M1394.4 429.0h0M1178.4 430.6h9.6M1200.8 430.6h0M1210.4 430.6h0M1226.4 430.6h0M1290.4 430.6h16.0M1328.8 430.6h3.2M1373.6 430.6h0M1380.0 430.6h0M1176.8 432.2h3.2M1189.6 432.2h0M1202.4 432.2h0M1208.8 432.2h0M1237.6 432.2h0M1244.0 432.2h0M1292.0 432.2h3.2M1327.2 432.2h0M1333.6 432.2h0M1349.6 432.2h0M1181.6 433.8h3.2M1204.0 433.8h6.4M1242.4 433.8h0M1287.2 433.8h3.2M1296.8 433.8h0M1309.6 433.8h0M1322.4 433.8h0M1328.8 433.8h0M1335.2 433.8h0M1357.6 433.8h3.2M1383.2 433.8h0M1176.8 435.4h3.2M1205.6 435.4h0M1212.0 435.4h0M1221.6 435.4h0M1231.2 435.4h0M1237.6 435.4h0M1269.6 435.4h0M1285.6 435.4h3.2M1298.4 435.4h0M1317.6 435.4h3.2M1330.4 435.4h0M1340.0 435.4h0M1352.8 435.4h0M1362.4 435.4h0M1178.4 437.0h0M1184.8 437.0h0M1194.4 437.0h0M1210.4 437.0h0M1223.2 437.0h0M1252.0 437.0h0M1258.4 437.0h0M1280.8 437.0h0M1325.6 437.0h3.2M1360.8 437.0h0M1376.8 437.0h0M1183.2 438.6h0M1196.0 438.6h0M1212.0 438.6h0M1224.8 438.6h0M1231.2 438.6h0M1256.8 438.6h0M1263.2 438.6h0M1295.2 438.6h0M1301.6 438.6h3.2M1327.2 438.6h3.2M1340.0 438.6h0M1346.4 438.6h0M1356.0 438.6h0M1365.6 438.6h0M1184.8 440.2h9.6M1213.6 440.2h0M1229.6 440.2h0M1242.4 440.2h0M1268.0 440.2h0M1296.8 440.2h0M1322.4 440.2h3.2M1335.2 440.2h0M1344.8 440.2h0M1360.8 440.2h0M1373.6 440.2h0M1183.2 441.8h0M1196.0 441.8h0M1215.2 441.8h3.2M1279.2 441.8h0M1288.8 441.8h0M1295.2 441.8h0M1324.0 441.8h3.2M1340.0 441.8h0M1362.4 441.8h0M1181.6 443.4h0M1188.0 443.4h0M1194.4 443.4h3.2M1213.6 443.4h3.2M1242.4 443.4h0M1277.6 443.4h0M1309.6 443.4h0M1316.0 443.4h0M1338.4 443.4h16.0M1364.0 443.4h0M1376.8 443.4h0M1189.6 445.0h6.4M1244.0 445.0h0M1295.2 445.0h0M1320.8 445.0h0M1327.2 445.0h0M1343.2 445.0h0M1356.0 445.0h0M1188.0 446.6h3.2M1197.6 446.6h3.2M1258.4 446.6h0M1312.8 446.6h0M1332.0 446.6h3.2M1189.6 448.2h0M1247.2 448.2h0M1253.6 448.2h3.2M1263.2 448.2h0M1301.6 448.2h0M1311.2 448.2h3.2M1324.0 448.2h0M1365.6 448.2h0M1191.2 449.8h0M1200.8 449.8h3.2M1232.8 449.8h0M1248.8 449.8h12.8M1280.8 449.8h0M1309.6 449.8h3.2M1335.2 449.8h0M1354.4 449.8h0M1367.2 449.8h3.2M1196.0 451.4h3.2M1205.6 451.4h3.2M1218.4 451.4h3.2M1234.4 451.4h0M1240.8 451.4h0M1279.2 451.4h0M1285.6 451.4h0M1327.2 451.4h0M1343.2 451.4h0M1359.2 451.4h0M1194.4 453.0h0M1204.0 453.0h3.2M1213.6 453.0h0M1236.0 453.0h3.2M1255.2 453.0h0M1264.8 453.0h3.2M1284.0 453.0h0M1290.4 453.0h3.2M1303.2 453.0h3.2M1351.2 453.0h0M1196.0 454.6h12.8M1215.2 454.6h0M1221.6 454.6h3.2M1234.4 454.6h3.2M1244.0 454.6h0M1260.0 454.6h0M1292.0 454.6h0M1333.6 454.6h0M1197.6 456.2h0M1204.0 456.2h3.2M1226.4 456.2h0M1232.8 456.2h0M1239.2 456.2h0M1252.0 456.2h0M1264.8 456.2h0M1271.2 456.2h0M1300.0 456.2h0M1306.4 456.2h0M1338.4 456.2h0M1344.8 456.2h0M1351.2 456.2h0M1202.4 457.8h3.2M1215.2 457.8h12.8M1244.0 457.8h0M1250.4 457.8h0M1266.4 457.8h0M1276.0 457.8h0M1282.4 457.8h0M1298.4 457.8h0M1346.4 457.8h0M1204.0 459.4h3.2M1213.6 459.4h0M1229.6 459.4h0M1236.0 459.4h0M1248.8 459.4h0M1258.4 459.4h0M1284.0 459.4h0M1290.4 459.4h3.2M1335.2 459.4h0M1205.6 461.0h3.2M1215.2 461.0h0M1221.6 461.0h6.4M1250.4 461.0h3.2M1269.6 461.0h0M1285.6 461.0h6.4M1346.4 461.0h0M1210.4 462.6h3.2M1220.0 462.6h3.2M1229.6 462.6h6.4M1248.8 462.6h9.6M1274.4 462.6h6.4M1287.2 462.6h0M1325.6 462.6h0M1338.4 462.6h0M1218.4 464.2h6.4M1231.2 464.2h0M1237.6 464.2h0M1256.8 464.2h3.2M1266.4 464.2h3.2M1279.2 464.2h6.4M1327.2 464.2h0M1220.0 465.8h0M1226.4 465.8h0M1239.2 465.8h0M1261.6 465.8h3.2M1224.8 467.4h6.4M1237.6 467.4h3.2M1304.8 467.4h3.2M1320.8 467.4h0M1340.0 467.4h0M1223.2 469.0h0M1232.8 469.0h3.2M1248.8 469.0h0M1303.2 469.0h0M1316.0 469.0h0M1322.4 469.0h0M1231.2 470.6h6.4M1247.2 470.6h0M1253.6 470.6h0M1288.8 470.6h0M1304.8 470.6h3.2M1320.8 470.6h0M1327.2 470.6h0M1236.0 472.2h0M1242.4 472.2h0M1248.8 472.2h0M1258.4 472.2h0M1268.0 472.2h0M1287.2 472.2h0M1316.0 472.2h0M1325.6 472.2h3.2M1231.2 473.8h9.6M1247.2 473.8h3.2M1260.0 473.8h0M1304.8 473.8h3.2M1320.8 473.8h0M1330.4 473.8h0M1236.0 475.4h0M1245.6 475.4h0M1252.0 475.4h3.2M1264.8 475.4h3.2M1274.4 475.4h0M1312.8 475.4h0M1322.4 475.4h3.2M1237.6 477.0h0M1253.6 477.0h0M1263.2 477.0h0M1276.0 477.0h0M1304.8 477.0h6.4M1317.6 477.0h3.2M1236.0 478.6h6.4M1248.8 478.6h3.2M1258.4 478.6h6.4M1277.6 478.6h6.4M1290.4 478.6h3.2M1303.2 478.6h22.4M1244.0 480.2h3.2M1256.8 480.2h3.2M1279.2 480.2h0M1285.6 480.2h0M1292.0 480.2h0M1301.6 480.2h6.4M1314.4 480.2h0M1245.6 481.8h0M1258.4 481.8h6.4M1274.4 481.8h0M1284.0 481.8h0M1290.4 481.8h0M1300.0 481.8h3.2M1312.8 481.8h0M1322.4 481.8h0M1253.6 483.4h3.2M1269.6 483.4h0M1276.0 483.4h3.2M1288.8 483.4h3.2M1308.0 483.4h6.4M1324.0 483.4h0M1255.2 485.0h6.4M1287.2 485.0h9.6M1303.2 485.0h0M1319.2 485.0h0M1269.6 486.6h3.2M1288.8 486.6h0M1295.2 486.6h3.2M1304.8 486.6h3.2M1317.6 486.6h0M1258.4 488.2h0M1264.8 488.2h9.6M1280.8 488.2h9.6M1306.4 488.2h6.4M1276.0 489.8h0M1288.8 489.8h3.2M1264.8 491.4h3.2M1274.4 491.4h3.2M1290.4 491.4h0M1266.4 493.0h0M1276.0 493.0h0M1282.4 493.0h0M1288.8 493.0h0M1271.2 494.6h0M1284.0 494.6h0M1272.8 496.2h6.4M1277.6 497.8h3.2" stroke="#9B9DA2" stroke-width="2.5" stroke-linecap="round" fill="none"/>
<path d="M1304.8 272.2h3.2M1287.2 273.8h3.2M1309.6 273.8h0M1316.0 273.8h3.2M1288.8 275.4h28.8M1290.4 277.0h0M1312.8 277.0h6.4M1279.2 278.6h0M1317.6 278.6h0M1271.2 280.2h6.4M1332.0 280.2h3.2M1269.6 281.8h6.4M1324.0 281.8h0M1264.8 283.4h3.2M1260.0 285.0h0M1272.8 285.0h0M1333.6 285.0h0M1261.6 286.6h3.2M1335.2 286.6h0M1256.8 288.2h3.2M1258.4 289.8h0M1256.8 291.4h0M1248.8 293.0h0M1341.6 293.0h0M1348.0 293.0h0M1247.2 294.6h0M1346.4 294.6h3.2M1248.8 296.2h0M1348.0 296.2h3.2M1244.0 297.8h3.2M1346.4 297.8h0M1242.4 299.4h6.4M1348.0 299.4h0M1354.4 299.4h0M1348.0 302.6h3.2M1228.0 304.2h0M1234.4 304.2h0M1216.8 305.8h0M1226.4 305.8h9.6M1351.2 305.8h3.2M1218.4 307.4h0M1224.8 307.4h6.4M1352.8 307.4h0M1362.4 307.4h0M1210.4 309.0h0M1224.8 310.6h0M1200.8 312.2h0M1216.8 312.2h0M1167.2 313.8h0M1173.6 313.8h0M1199.2 313.8h6.4M1365.6 313.8h0M1194.4 315.4h0M1207.2 315.4h0M1167.2 317.0h0M1365.6 317.0h0M1168.8 318.6h0M1194.4 318.6h0M1160.8 320.2h0M1189.6 320.2h3.2M1188.0 321.8h3.2M1154.4 323.4h0M1160.8 323.4h0M1186.4 323.4h3.2M1372.0 323.4h0M1184.8 325.0h0M1373.6 325.0h0M1154.4 326.6h0M1164.0 326.6h0M1176.8 326.6h0M1152.8 328.2h0M1162.4 328.2h0M1175.2 328.2h0M1173.6 329.8h3.2M1149.6 331.4h3.2M1159.2 331.4h3.2M1172.0 331.4h3.2M1370.4 331.4h3.2M1170.4 333.0h0M1368.8 333.0h3.2M1149.6 334.6h0M1156.0 334.6h0M1168.8 334.6h0M1370.4 334.6h0M1167.2 336.2h3.2M1156.0 337.8h0M1162.4 337.8h6.4M1151.2 339.4h0M1164.0 339.4h6.4M1280.8 341.0h0M1164.0 342.6h0M1279.2 342.6h0M1375.2 342.6h0M1159.2 344.2h6.4M1376.8 344.2h0M1148.0 345.8h0M1160.8 345.8h6.4M1378.4 345.8h0M1162.4 347.4h0M1380.0 347.4h0M1164.0 349.0h0M1375.2 349.0h3.2M1149.6 350.6h0M1162.4 350.6h3.2M1160.8 352.2h3.2M1381.6 352.2h0M1149.6 353.8h0M1156.0 353.8h0M1162.4 353.8h0M1164.0 355.4h0M1378.4 355.4h0M1149.6 357.0h3.2M1159.2 357.0h3.2M1380.0 357.0h0M1151.2 358.6h3.2M1160.8 358.6h3.2M1381.6 358.6h0M1146.4 360.2h0M1152.8 360.2h3.2M1165.6 360.2h0M1151.2 361.8h0M1157.6 361.8h3.2M1149.6 363.4h0M1156.0 363.4h3.2M1165.6 363.4h0M1148.0 365.0h12.8M1156.0 366.6h0M1162.4 366.6h3.2M1380.0 366.6h0M1154.4 368.2h0M1160.8 368.2h0M1314.4 368.2h0M1378.4 368.2h3.2M1149.6 369.8h16.0M1376.8 369.8h3.2M1154.4 371.4h9.6M1152.8 373.0h0M1159.2 373.0h0M1165.6 373.0h0M1151.2 374.6h0M1157.6 374.6h3.2M1170.4 374.6h0M1156.0 376.2h3.2M1157.6 377.8h0M1164.0 377.8h0M1384.8 377.8h0M1152.8 379.4h0M1159.2 379.4h0M1165.6 379.4h0M1172.0 379.4h0M1157.6 381.0h3.2M1167.2 381.0h3.2M1212.0 381.0h0M1381.6 381.0h0M1159.2 382.6h0M1165.6 382.6h6.4M1204.0 382.6h0M1170.4 384.2h3.2M1378.4 384.2h0M1172.0 385.8h0M1197.6 385.8h0M1380.0 385.8h0M1154.4 387.4h0M1173.6 387.4h0M1189.6 387.4h0M1378.4 387.4h3.2M1152.8 389.0h0M1175.2 389.0h0M1194.4 389.0h0M1154.4 390.6h0M1173.6 390.6h0M1378.4 390.6h0M1175.2 392.2h0M1191.2 392.2h0M1376.8 392.2h0M1173.6 393.8h0M1378.4 393.8h3.2M1159.2 395.4h0M1175.2 395.4h3.2M1376.8 395.4h0M1383.2 395.4h0M1173.6 397.0h3.2M1375.2 397.0h6.4M1162.4 398.6h0M1175.2 398.6h3.2M1376.8 398.6h3.2M1176.8 400.2h3.2M1215.2 400.2h0M1375.2 400.2h6.4M1165.6 401.8h0M1178.4 401.8h0M1373.6 401.8h0M1380.0 401.8h0M1176.8 403.4h3.2M1215.2 403.4h0M1375.2 403.4h0M1178.4 405.0h3.2M1373.6 405.0h0M1380.0 405.0h0M1170.4 406.6h0M1180.0 406.6h3.2M1215.2 406.6h0M1320.8 406.6h0M1378.4 406.6h0M1181.6 408.2h3.2M1325.6 408.2h0M1376.8 408.2h0M1176.8 409.8h3.2M1368.8 409.8h0M1375.2 409.8h0M1168.8 411.4h0M1181.6 411.4h3.2M1367.2 411.4h6.4M1167.2 413.0h0M1183.2 413.0h3.2M1365.6 413.0h6.4M1220.0 414.6h0M1332.0 414.6h0M1367.2 414.6h3.2M1183.2 416.2h3.2M1192.8 416.2h0M1368.8 416.2h3.2M1172.0 417.8h0M1184.8 417.8h3.2M1364.0 417.8h0M1370.4 417.8h0M1170.4 419.4h0M1180.0 419.4h0M1186.4 419.4h3.2M1314.4 419.4h0M1320.8 419.4h0M1362.4 419.4h0M1368.8 419.4h0M1168.8 421.0h0M1191.2 421.0h3.2M1364.0 421.0h6.4M1189.6 422.6h0M1196.0 422.6h0M1202.4 422.6h0M1181.6 424.2h0M1191.2 424.2h0M1229.6 424.2h0M1180.0 425.8h0M1189.6 425.8h3.2M1304.8 425.8h0M1365.6 425.8h0M1186.4 429.0h0M1192.8 429.0h3.2M1304.8 429.0h0M1352.8 429.0h0M1191.2 430.6h0M1183.2 432.2h0M1192.8 432.2h0M1205.6 432.2h0M1346.4 432.2h0M1191.2 433.8h0M1338.4 433.8h3.2M1247.2 435.4h0M1295.2 435.4h0M1327.2 435.4h0M1181.6 437.0h0M1197.6 437.0h0M1232.8 437.0h0M1271.2 437.0h0M1186.4 438.6h0M1269.6 438.6h0M1248.8 440.2h3.2M1186.4 441.8h0M1247.2 441.8h0M1253.6 441.8h3.2M1314.4 441.8h0M1207.2 443.4h3.2M1202.4 445.0h0M1208.8 445.0h6.4M1256.8 445.0h0M1317.6 445.0h0M1324.0 445.0h0M1194.4 446.6h0M1216.8 446.6h0M1223.2 446.6h0M1280.8 446.6h0M1319.2 446.6h3.2M1199.2 448.2h0M1221.6 448.2h6.4M1220.0 449.8h6.4M1268.0 449.8h0M1277.6 449.8h0M1316.0 449.8h0M1322.4 449.8h0M1202.4 451.4h0M1228.0 451.4h0M1314.4 451.4h9.6M1191.2 453.0h0M1223.2 453.0h3.2M1232.8 453.0h0M1309.6 453.0h0M1316.0 453.0h6.4M1228.0 454.6h3.2M1240.8 454.6h0M1269.6 454.6h0M1317.6 454.6h0M1200.8 456.2h0M1210.4 456.2h3.2M1223.2 456.2h0M1229.6 456.2h0M1236.0 456.2h0M1242.4 456.2h3.2M1293.6 456.2h0M1303.2 456.2h0M1208.8 457.8h3.2M1231.2 457.8h9.6M1269.6 457.8h0M1223.2 459.4h0M1239.2 459.4h0M1245.6 459.4h0M1234.4 461.0h12.8M1272.8 461.0h0M1239.2 462.6h3.2M1228.0 464.2h0M1240.8 464.2h0M1247.2 464.2h0M1253.6 464.2h0M1263.2 464.2h0M1216.8 465.8h0M1232.8 465.8h0M1248.8 465.8h0M1271.2 465.8h0M1277.6 465.8h0M1218.4 467.4h0M1250.4 467.4h0M1279.2 467.4h0M1228.0 470.6h0M1250.4 470.6h0M1232.8 472.2h0M1239.2 472.2h0M1244.0 477.0h0M1248.8 481.8h0" stroke="#EA4E24" stroke-width="2.5" stroke-linecap="round" fill="none"/>
<path d="M1285.6 253.0h16.0M1308.0 253.0h0M1274.4 254.6h12.8M1296.8 254.6h3.2M1306.4 254.6h3.2M1316.0 254.6h0M1276.0 256.2h12.8M1295.2 256.2h0M1301.6 256.2h0M1308.0 256.2h6.4M1271.2 257.8h38.4M1272.8 259.4h41.6M1268.0 261.0h12.8M1287.2 261.0h6.4M1300.0 261.0h3.2M1309.6 261.0h3.2M1263.2 262.6h0M1272.8 262.6h0M1279.2 262.6h3.2M1288.8 262.6h0M1295.2 262.6h6.4M1308.0 262.6h3.2M1268.0 264.2h35.2M1309.6 264.2h3.2M1266.4 265.8h19.2M1292.0 265.8h9.6M1308.0 265.8h3.2M1268.0 267.4h48.0M1266.4 269.0h57.6M1264.8 270.6h64.0M1269.6 272.2h32.0M1311.2 272.2h19.2M1264.8 273.8h19.2M1293.6 273.8h6.4M1312.8 273.8h0M1322.4 273.8h9.6M1266.4 275.4h19.2M1320.8 275.4h9.6M1261.6 277.0h25.6M1322.4 277.0h9.6M1263.2 278.6h12.8M1285.6 278.6h0M1324.0 278.6h6.4M1343.2 278.6h0M1261.6 280.2h6.4M1280.8 280.2h0M1325.6 280.2h3.2M1341.6 280.2h0M1263.2 281.8h3.2M1327.2 281.8h0M1336.8 281.8h0M1343.2 281.8h0M1332.0 283.4h9.6M1263.2 285.0h0M1336.8 285.0h6.4M1248.8 286.6h0M1258.4 286.6h0M1338.4 286.6h6.4M1250.4 288.2h3.2M1263.2 288.2h0M1336.8 288.2h9.6M1245.6 289.8h6.4M1338.4 289.8h9.6M1247.2 291.4h6.4M1340.0 291.4h9.6M1252.0 293.0h3.2M1344.8 293.0h0M1250.4 294.6h3.2M1343.2 294.6h0M1352.8 294.6h3.2M1252.0 296.2h0M1354.4 296.2h3.2M1234.4 297.8h3.2M1250.4 297.8h0M1349.6 297.8h3.2M1359.2 297.8h0M1232.8 299.4h6.4M1351.2 299.4h0M1231.2 301.0h9.6M1349.6 301.0h9.6M1229.6 302.6h12.8M1357.6 302.6h0M1231.2 304.2h0M1237.6 304.2h0M1349.6 304.2h0M1356.0 304.2h3.2M1357.6 305.8h9.6M1205.6 307.4h0M1215.2 307.4h0M1356.0 307.4h3.2M1365.6 307.4h0M1204.0 309.0h3.2M1213.6 309.0h12.8M1354.4 309.0h9.6M1205.6 310.6h16.0M1356.0 310.6h6.4M1204.0 312.2h9.6M1357.6 312.2h6.4M1196.0 313.8h0M1359.2 313.8h3.2M1197.6 315.4h3.2M1360.8 315.4h3.2M1192.8 317.0h6.4M1362.4 317.0h0M1197.6 318.6h0M1360.8 318.6h12.8M1180.0 320.2h0M1196.0 320.2h0M1362.4 320.2h6.4M1178.4 321.8h3.2M1364.0 321.8h6.4M1376.8 321.8h0M1176.8 323.4h6.4M1365.6 323.4h3.2M1375.2 323.4h3.2M1178.4 325.0h3.2M1367.2 325.0h3.2M1376.8 325.0h0M1180.0 326.6h3.2M1368.8 326.6h9.6M1181.6 328.2h0M1367.2 328.2h9.6M1375.2 329.8h3.2M1367.2 331.4h0M1376.8 331.4h3.2M1164.0 333.0h0M1375.2 333.0h6.4M1162.4 334.6h3.2M1172.0 334.6h0M1373.6 334.6h9.6M1160.8 336.2h3.2M1372.0 336.2h9.6M1261.6 337.8h22.4M1370.4 337.8h12.8M1256.8 339.4h6.4M1269.6 339.4h0M1282.4 339.4h9.6M1372.0 339.4h9.6M1165.6 341.0h0M1252.0 341.0h9.6M1284.0 341.0h12.8M1373.6 341.0h9.6M1167.2 342.6h0M1250.4 342.6h9.6M1285.6 342.6h12.8M1378.4 342.6h0M1245.6 344.2h9.6M1293.6 344.2h6.4M1380.0 344.2h0M1244.0 345.8h6.4M1298.4 345.8h6.4M1375.2 345.8h0M1381.6 345.8h3.2M1242.4 347.4h6.4M1300.0 347.4h6.4M1373.6 347.4h3.2M1160.8 349.0h0M1240.8 349.0h0M1301.6 349.0h6.4M1384.8 349.0h0M1239.2 350.6h0M1306.4 350.6h3.2M1376.8 350.6h0M1383.2 350.6h3.2M1240.8 352.2h0M1308.0 352.2h3.2M1378.4 352.2h0M1384.8 352.2h0M1306.4 353.8h6.4M1376.8 353.8h9.6M1308.0 355.4h3.2M1381.6 355.4h6.4M1309.6 357.0h3.2M1376.8 357.0h0M1383.2 357.0h3.2M1311.2 358.6h3.2M1378.4 358.6h0M1384.8 358.6h0M1312.8 360.2h3.2M1376.8 360.2h9.6M1314.4 361.8h3.2M1378.4 361.8h6.4M1316.0 363.4h0M1376.8 363.4h6.4M1389.6 363.4h0M1378.4 365.0h12.8M1383.2 366.6h6.4M1384.8 368.2h3.2M1383.2 369.8h3.2M1381.6 371.4h6.4M1380.0 373.0h6.4M1378.4 374.6h9.6M1165.6 376.2h3.2M1380.0 376.2h3.2M1167.2 377.8h3.2M1381.6 377.8h0M1168.8 379.4h0M1380.0 379.4h6.4M1384.8 381.0h0M1383.2 382.6h3.2M1164.0 384.2h0M1381.6 384.2h6.4M1383.2 385.8h3.2M1167.2 387.4h3.2M1384.8 387.4h3.2M1168.8 389.0h3.2M1376.8 389.0h12.8M1170.4 390.6h0M1381.6 390.6h6.4M1168.8 392.2h3.2M1383.2 392.2h6.4M1170.4 393.8h0M1384.8 393.8h3.2M1168.8 395.4h3.2M1376.8 401.8h0M1378.4 403.4h0M1376.8 405.0h0M1372.0 406.6h3.2M1370.4 408.2h3.2M1186.4 409.8h0M1372.0 409.8h0M1176.8 413.0h3.2M1375.2 413.0h0M1181.6 414.6h0M1376.8 414.6h0M1180.0 416.2h0M1365.6 416.2h0M1375.2 416.2h3.2M1181.6 417.8h0M1367.2 417.8h0M1376.8 417.8h0M1365.6 419.4h0M1181.6 421.0h0M1188.0 421.0h0M1376.8 421.0h0M1183.2 422.6h0M1192.8 422.6h0M1359.2 422.6h0M1365.6 422.6h0M1372.0 422.6h0M1194.4 424.2h0M1357.6 424.2h9.6M1373.6 424.2h0M1183.2 425.8h0M1356.0 425.8h6.4M1372.0 425.8h0M1194.4 427.4h0M1354.4 427.4h0M1364.0 427.4h0M1370.4 427.4h0M1356.0 429.0h6.4M1194.4 430.6h3.2M1348.0 430.6h16.0M1196.0 432.2h3.2M1352.8 432.2h12.8M1194.4 433.8h6.4M1344.8 433.8h9.6M1196.0 435.4h6.4M1343.2 435.4h6.4M1356.0 435.4h3.2M1200.8 437.0h3.2M1338.4 437.0h19.2M1199.2 438.6h6.4M1336.8 438.6h0M1343.2 438.6h0M1349.6 438.6h3.2M1359.2 438.6h3.2M1197.6 440.2h9.6M1338.4 440.2h3.2M1348.0 440.2h9.6M1199.2 441.8h9.6M1330.4 441.8h6.4M1343.2 441.8h16.0M1200.8 443.4h3.2M1328.8 443.4h6.4M1357.6 443.4h0M1218.4 445.0h0M1330.4 445.0h9.6M1346.4 445.0h6.4M1204.0 446.6h9.6M1220.0 446.6h0M1325.6 446.6h3.2M1338.4 446.6h12.8M1205.6 448.2h12.8M1320.8 448.2h0M1327.2 448.2h22.4M1207.2 449.8h9.6M1319.2 449.8h0M1325.6 449.8h6.4M1338.4 449.8h12.8M1212.0 451.4h3.2M1224.8 451.4h0M1330.4 451.4h9.6M1216.8 453.0h0M1229.6 453.0h0M1312.8 453.0h0M1328.8 453.0h12.8M1348.0 453.0h0M1308.0 454.6h6.4M1330.4 454.6h0M1336.8 454.6h0M1346.4 454.6h0M1309.6 456.2h3.2M1328.8 456.2h0M1304.8 457.8h9.6M1226.4 459.4h0M1242.4 459.4h0M1296.8 459.4h12.8M1295.2 461.0h12.8M1245.6 462.6h0M1290.4 462.6h16.0M1244.0 464.2h0M1250.4 464.2h0M1288.8 464.2h16.0M1236.0 465.8h0M1242.4 465.8h3.2M1252.0 465.8h6.4M1274.4 465.8h0M1280.8 465.8h22.4M1244.0 467.4h3.2M1253.6 467.4h22.4M1282.4 467.4h19.2M1245.6 469.0h0M1252.0 469.0h48.0M1309.6 469.0h0M1244.0 470.6h0M1256.8 470.6h28.8M1295.2 470.6h3.2M1261.6 472.2h3.2M1271.2 472.2h12.8M1293.6 472.2h6.4M1306.4 472.2h0M1263.2 473.8h0M1276.0 473.8h12.8M1295.2 473.8h6.4M1261.6 475.4h0M1277.6 475.4h22.4M1306.4 475.4h0M1279.2 477.0h19.2M1272.8 480.2h0M1288.8 480.2h0" stroke="#C93D22" stroke-width="2.5" stroke-linecap="round" fill="none"/>
<path d="M1296.8 277.0h12.8M1292.0 278.6h3.2M1301.6 278.6h6.4M1284.0 280.2h0M1290.4 280.2h25.6M1282.4 281.8h35.2M1277.6 283.4h12.8M1296.8 283.4h25.6M1279.2 285.0h32.0M1317.6 285.0h3.2M1268.0 286.6h41.6M1316.0 286.6h12.8M1266.4 288.2h32.0M1304.8 288.2h25.6M1261.6 289.8h41.6M1309.6 289.8h16.0M1260.0 291.4h0M1269.6 291.4h51.2M1327.2 291.4h6.4M1258.4 293.0h28.8M1293.6 293.0h25.6M1325.6 293.0h6.4M1256.8 294.6h51.2M1317.6 294.6h22.4M1255.2 296.2h64.0M1325.6 296.2h16.0M1253.6 297.8h28.8M1288.8 297.8h51.2M1252.0 299.4h28.8M1287.2 299.4h35.2M1328.8 299.4h12.8M1244.0 301.0h3.2M1253.6 301.0h25.6M1285.6 301.0h57.6M1245.6 302.6h25.6M1277.6 302.6h0M1284.0 302.6h12.8M1303.2 302.6h9.6M1319.2 302.6h25.6M1240.8 304.2h3.2M1250.4 304.2h22.4M1279.2 304.2h44.8M1330.4 304.2h16.0M1239.2 305.8h108.8M1234.4 307.4h0M1244.0 307.4h83.2M1333.6 307.4h16.0M1229.6 309.0h0M1236.0 309.0h25.6M1268.0 309.0h16.0M1290.4 309.0h6.4M1303.2 309.0h28.8M1338.4 309.0h6.4M1228.0 310.6h0M1240.8 310.6h6.4M1253.6 310.6h6.4M1266.4 310.6h64.0M1336.8 310.6h12.8M1220.0 312.2h0M1232.8 312.2h3.2M1242.4 312.2h9.6M1258.4 312.2h41.6M1306.4 312.2h32.0M1344.8 312.2h9.6M1218.4 313.8h0M1228.0 313.8h19.2M1253.6 313.8h0M1260.0 313.8h38.4M1311.2 313.8h12.8M1330.4 313.8h25.6M1210.4 315.4h0M1216.8 315.4h19.2M1245.6 315.4h44.8M1316.0 315.4h38.4M1208.8 317.0h0M1221.6 317.0h0M1228.0 317.0h0M1237.6 317.0h35.2M1279.2 317.0h0M1292.0 317.0h0M1308.0 317.0h0M1314.4 317.0h44.8M1204.0 318.6h3.2M1220.0 318.6h0M1242.4 318.6h3.2M1252.0 318.6h0M1258.4 318.6h32.0M1316.0 318.6h28.8M1351.2 318.6h6.4M1199.2 320.2h9.6M1215.2 320.2h3.2M1231.2 320.2h3.2M1244.0 320.2h38.4M1317.6 320.2h41.6M1200.8 321.8h9.6M1236.0 321.8h0M1245.6 321.8h28.8M1280.8 321.8h0M1319.2 321.8h41.6M1192.8 323.4h6.4M1218.4 323.4h0M1228.0 323.4h6.4M1240.8 323.4h32.0M1279.2 323.4h0M1288.8 323.4h0M1320.8 323.4h41.6M1188.0 325.0h0M1194.4 325.0h12.8M1229.6 325.0h3.2M1239.2 325.0h9.6M1255.2 325.0h16.0M1325.6 325.0h0M1332.0 325.0h32.0M1186.4 326.6h9.6M1205.6 326.6h0M1212.0 326.6h0M1228.0 326.6h41.6M1327.2 326.6h38.4M1184.8 328.2h3.2M1194.4 328.2h3.2M1210.4 328.2h6.4M1229.6 328.2h41.6M1316.0 328.2h0M1325.6 328.2h16.0M1348.0 328.2h16.0M1183.2 329.8h3.2M1192.8 329.8h0M1199.2 329.8h3.2M1212.0 329.8h6.4M1231.2 329.8h35.2M1327.2 329.8h3.2M1336.8 329.8h9.6M1352.8 329.8h12.8M1188.0 331.4h0M1213.6 331.4h0M1220.0 331.4h0M1232.8 331.4h38.4M1328.8 331.4h6.4M1341.6 331.4h6.4M1354.4 331.4h9.6M1189.6 333.0h0M1212.0 333.0h0M1228.0 333.0h6.4M1244.0 333.0h28.8M1324.0 333.0h41.6M1175.2 334.6h3.2M1194.4 334.6h0M1200.8 334.6h0M1210.4 334.6h0M1236.0 334.6h28.8M1271.2 334.6h3.2M1287.2 334.6h0M1293.6 334.6h0M1328.8 334.6h25.6M1360.8 334.6h3.2M1173.6 336.2h3.2M1192.8 336.2h0M1199.2 336.2h3.2M1218.4 336.2h0M1231.2 336.2h3.2M1240.8 336.2h38.4M1288.8 336.2h0M1327.2 336.2h6.4M1340.0 336.2h28.8M1178.4 337.8h3.2M1191.2 337.8h0M1197.6 337.8h6.4M1210.4 337.8h0M1216.8 337.8h0M1229.6 337.8h28.8M1287.2 337.8h0M1328.8 337.8h38.4M1173.6 339.4h3.2M1183.2 339.4h0M1192.8 339.4h12.8M1212.0 339.4h0M1237.6 339.4h16.0M1272.8 339.4h3.2M1330.4 339.4h6.4M1343.2 339.4h25.6M1168.8 341.0h12.8M1188.0 341.0h0M1194.4 341.0h3.2M1204.0 341.0h0M1223.2 341.0h3.2M1236.0 341.0h9.6M1319.2 341.0h0M1332.0 341.0h16.0M1354.4 341.0h12.8M1180.0 342.6h3.2M1189.6 342.6h12.8M1224.8 342.6h0M1231.2 342.6h9.6M1327.2 342.6h41.6M1168.8 344.2h0M1178.4 344.2h3.2M1194.4 344.2h0M1207.2 344.2h6.4M1223.2 344.2h0M1229.6 344.2h0M1236.0 344.2h6.4M1332.0 344.2h9.6M1348.0 344.2h22.4M1170.4 345.8h3.2M1196.0 345.8h0M1205.6 345.8h0M1228.0 345.8h9.6M1330.4 345.8h25.6M1362.4 345.8h6.4M1168.8 347.4h0M1175.2 347.4h0M1181.6 347.4h0M1207.2 347.4h3.2M1229.6 347.4h3.2M1328.8 347.4h3.2M1338.4 347.4h32.0M1189.6 349.0h0M1196.0 349.0h0M1208.8 349.0h0M1218.4 349.0h0M1231.2 349.0h0M1330.4 349.0h3.2M1340.0 349.0h19.2M1365.6 349.0h6.4M1175.2 350.6h3.2M1184.8 350.6h3.2M1194.4 350.6h0M1204.0 350.6h6.4M1220.0 350.6h0M1226.4 350.6h3.2M1319.2 350.6h0M1328.8 350.6h44.8M1167.2 352.2h0M1176.8 352.2h0M1186.4 352.2h3.2M1205.6 352.2h6.4M1218.4 352.2h3.2M1231.2 352.2h0M1304.8 352.2h0M1330.4 352.2h41.6M1168.8 353.8h6.4M1188.0 353.8h0M1197.6 353.8h0M1204.0 353.8h0M1216.8 353.8h0M1223.2 353.8h3.2M1328.8 353.8h16.0M1351.2 353.8h22.4M1167.2 355.4h0M1189.6 355.4h0M1196.0 355.4h0M1205.6 355.4h0M1215.2 355.4h0M1327.2 355.4h44.8M1181.6 357.0h0M1191.2 357.0h3.2M1200.8 357.0h3.2M1213.6 357.0h0M1325.6 357.0h12.8M1344.8 357.0h25.6M1167.2 358.6h0M1180.0 358.6h0M1186.4 358.6h6.4M1202.4 358.6h0M1320.8 358.6h12.8M1340.0 358.6h28.8M1375.2 358.6h0M1168.8 360.2h0M1175.2 360.2h19.2M1322.4 360.2h9.6M1338.4 360.2h32.0M1176.8 361.8h3.2M1186.4 361.8h3.2M1196.0 361.8h0M1320.8 361.8h25.6M1352.8 361.8h3.2M1365.6 361.8h9.6M1168.8 363.4h0M1178.4 363.4h16.0M1207.2 363.4h0M1216.8 363.4h0M1319.2 363.4h16.0M1341.6 363.4h32.0M1167.2 365.0h0M1186.4 365.0h3.2M1196.0 365.0h0M1202.4 365.0h0M1212.0 365.0h6.4M1317.6 365.0h57.6M1168.8 366.6h0M1184.8 366.6h0M1197.6 366.6h3.2M1210.4 366.6h0M1316.0 366.6h38.4M1360.8 366.6h12.8M1173.6 368.2h0M1183.2 368.2h3.2M1212.0 368.2h3.2M1317.6 368.2h57.6M1175.2 369.8h0M1184.8 369.8h0M1204.0 369.8h9.6M1322.4 369.8h51.2M1173.6 371.4h0M1180.0 371.4h9.6M1202.4 371.4h0M1212.0 371.4h0M1320.8 371.4h32.0M1359.2 371.4h16.0M1178.4 373.0h3.2M1213.6 373.0h0M1319.2 373.0h54.4M1176.8 374.6h6.4M1199.2 374.6h0M1320.8 374.6h35.2M1362.4 374.6h12.8M1181.6 376.2h3.2M1204.0 376.2h0M1319.2 376.2h19.2M1344.8 376.2h28.8M1180.0 377.8h6.4M1192.8 377.8h0M1320.8 377.8h54.4M1181.6 379.4h0M1188.0 379.4h3.2M1200.8 379.4h3.2M1322.4 379.4h54.4M1176.8 381.0h0M1183.2 381.0h3.2M1192.8 381.0h0M1320.8 381.0h12.8M1340.0 381.0h35.2M1181.6 382.6h3.2M1191.2 382.6h0M1322.4 382.6h22.4M1351.2 382.6h9.6M1367.2 382.6h6.4M1189.6 384.2h0M1320.8 384.2h41.6M1368.8 384.2h6.4M1322.4 385.8h32.0M1360.8 385.8h16.0M1199.2 387.4h0M1320.8 387.4h54.4M1322.4 389.0h44.8M1373.6 389.0h0M1320.8 390.6h22.4M1349.6 390.6h25.6M1184.8 392.2h0M1200.8 392.2h0M1319.2 392.2h28.8M1354.4 392.2h19.2M1199.2 393.8h0M1320.8 393.8h35.2M1362.4 393.8h0M1368.8 393.8h6.4M1322.4 395.4h48.0M1208.8 397.0h0M1320.8 397.0h3.2M1330.4 397.0h25.6M1362.4 397.0h9.6M1319.2 398.6h51.2M1320.8 400.2h51.2M1319.2 401.8h51.2M1320.8 403.4h9.6M1336.8 403.4h35.2M1322.4 405.0h48.0M1192.8 406.6h0M1330.4 406.6h3.2M1340.0 406.6h19.2M1365.6 406.6h3.2M1200.8 408.2h0M1216.8 408.2h0M1319.2 408.2h0M1335.2 408.2h32.0M1317.6 409.8h0M1336.8 409.8h28.8M1325.6 411.4h0M1338.4 411.4h25.6M1202.4 413.0h0M1314.4 413.0h0M1336.8 413.0h3.2M1346.4 413.0h16.0M1194.4 414.6h0M1200.8 414.6h0M1210.4 414.6h0M1338.4 414.6h25.6M1333.6 416.2h0M1340.0 416.2h19.2M1220.0 417.8h0M1322.4 417.8h0M1338.4 417.8h6.4M1351.2 417.8h6.4M1336.8 419.4h22.4M1335.2 421.0h3.2M1344.8 421.0h16.0M1215.2 422.6h0M1224.8 422.6h0M1308.0 422.6h0M1336.8 422.6h19.2M1213.6 424.2h0M1335.2 424.2h12.8M1354.4 424.2h0M1196.0 425.8h0M1308.0 425.8h0M1317.6 425.8h0M1330.4 425.8h12.8M1349.6 425.8h0M1213.6 427.4h0M1335.2 427.4h16.0M1205.6 429.0h3.2M1327.2 429.0h0M1343.2 429.0h3.2M1223.2 430.6h0M1341.6 430.6h3.2M1218.4 432.2h0M1317.6 432.2h0M1232.8 433.8h3.2M1218.4 435.4h0M1324.0 435.4h0M1213.6 437.0h0M1277.6 437.0h0M1287.2 437.0h3.2M1335.2 437.0h0M1258.4 440.2h0M1264.8 440.2h0M1274.4 440.2h0M1319.2 440.2h0M1244.0 441.8h0M1255.2 443.4h0M1274.4 443.4h0M1290.4 443.4h0M1237.6 445.0h3.2M1250.4 448.2h0M1245.6 449.8h0M1264.8 449.8h0M1293.6 449.8h0M1250.4 451.4h0M1266.4 451.4h0M1304.8 451.4h0M1242.4 453.0h0M1255.2 456.2h0M1296.8 456.2h0M1260.0 457.8h0M1295.2 457.8h0M1277.6 459.4h3.2M1287.2 459.4h0M1276.0 461.0h0M1272.8 464.2h0" stroke="#EEF4B4" stroke-width="2.5" stroke-linecap="round" fill="none"/>
<path d="M1298.4 278.6h0M1312.8 286.6h0M1266.4 291.4h0M1324.0 291.4h0M1322.4 296.2h0M1346.4 301.0h0M1316.0 302.6h0M1247.2 304.2h0M1237.6 307.4h3.2M1232.8 309.0h0M1287.2 309.0h0M1300.0 309.0h0M1335.2 309.0h0M1351.2 309.0h0M1231.2 310.6h3.2M1250.4 310.6h0M1352.8 310.6h0M1223.2 312.2h6.4M1239.2 312.2h0M1224.8 313.8h0M1213.6 315.4h0M1239.2 315.4h0M1215.2 317.0h3.2M1231.2 317.0h0M1276.0 317.0h0M1213.6 318.6h3.2M1223.2 318.6h16.0M1221.6 320.2h6.4M1237.6 320.2h0M1213.6 321.8h0M1223.2 321.8h3.2M1232.8 321.8h0M1239.2 321.8h3.2M1202.4 323.4h0M1208.8 323.4h6.4M1221.6 323.4h3.2M1237.6 323.4h0M1191.2 325.0h0M1210.4 325.0h12.8M1236.0 325.0h0M1202.4 326.6h0M1208.8 326.6h0M1221.6 326.6h3.2M1272.8 326.6h0M1204.0 328.2h3.2M1220.0 328.2h6.4M1189.6 329.8h0M1196.0 329.8h0M1208.8 329.8h0M1221.6 329.8h3.2M1178.4 331.4h6.4M1191.2 331.4h6.4M1204.0 331.4h6.4M1216.8 331.4h0M1223.2 331.4h6.4M1351.2 331.4h0M1176.8 333.0h9.6M1192.8 333.0h16.0M1218.4 333.0h6.4M1237.6 333.0h0M1181.6 334.6h9.6M1197.6 334.6h0M1204.0 334.6h3.2M1213.6 334.6h19.2M1367.2 334.6h0M1180.0 336.2h9.6M1205.6 336.2h9.6M1221.6 336.2h6.4M1237.6 336.2h0M1172.0 337.8h3.2M1184.8 337.8h3.2M1207.2 337.8h0M1213.6 337.8h0M1223.2 337.8h3.2M1180.0 339.4h0M1186.4 339.4h3.2M1208.8 339.4h0M1215.2 339.4h19.2M1184.8 341.0h0M1207.2 341.0h12.8M1229.6 341.0h3.2M1173.6 342.6h0M1186.4 342.6h0M1205.6 342.6h16.0M1228.0 342.6h0M1172.0 344.2h3.2M1184.8 344.2h6.4M1197.6 344.2h6.4M1216.8 344.2h3.2M1226.4 344.2h0M1232.8 344.2h0M1344.8 344.2h0M1176.8 345.8h16.0M1199.2 345.8h3.2M1208.8 345.8h3.2M1218.4 345.8h0M1224.8 345.8h0M1372.0 345.8h0M1172.0 347.4h0M1178.4 347.4h0M1184.8 347.4h6.4M1200.8 347.4h3.2M1213.6 347.4h6.4M1226.4 347.4h0M1167.2 349.0h19.2M1192.8 349.0h0M1199.2 349.0h6.4M1212.0 349.0h3.2M1221.6 349.0h6.4M1168.8 350.6h3.2M1181.6 350.6h0M1191.2 350.6h0M1197.6 350.6h3.2M1213.6 350.6h3.2M1223.2 350.6h0M1170.4 352.2h0M1180.0 352.2h0M1192.8 352.2h9.6M1215.2 352.2h0M1224.8 352.2h3.2M1178.4 353.8h6.4M1191.2 353.8h3.2M1210.4 353.8h3.2M1220.0 353.8h0M1348.0 353.8h0M1170.4 355.4h16.0M1192.8 355.4h0M1199.2 355.4h0M1208.8 355.4h3.2M1218.4 355.4h6.4M1165.6 357.0h6.4M1178.4 357.0h0M1184.8 357.0h3.2M1207.2 357.0h3.2M1216.8 357.0h6.4M1170.4 358.6h6.4M1183.2 358.6h0M1196.0 358.6h3.2M1205.6 358.6h9.6M1224.8 358.6h0M1336.8 358.6h0M1197.6 360.2h25.6M1167.2 361.8h6.4M1192.8 361.8h0M1199.2 361.8h22.4M1172.0 363.4h3.2M1197.6 363.4h6.4M1210.4 363.4h3.2M1220.0 363.4h0M1173.6 365.0h9.6M1192.8 365.0h0M1199.2 365.0h0M1205.6 365.0h0M1172.0 366.6h0M1178.4 366.6h3.2M1188.0 366.6h6.4M1204.0 366.6h3.2M1213.6 366.6h0M1357.6 366.6h0M1170.4 368.2h0M1176.8 368.2h3.2M1189.6 368.2h19.2M1168.8 369.8h0M1178.4 369.8h3.2M1188.0 369.8h12.8M1319.2 369.8h0M1170.4 371.4h0M1192.8 371.4h6.4M1205.6 371.4h3.2M1172.0 373.0h3.2M1184.8 373.0h0M1191.2 373.0h19.2M1173.6 374.6h0M1186.4 374.6h3.2M1196.0 374.6h0M1202.4 374.6h0M1208.8 374.6h0M1172.0 376.2h6.4M1188.0 376.2h12.8M1173.6 377.8h3.2M1189.6 377.8h0M1196.0 377.8h6.4M1197.6 379.4h0M1173.6 381.0h0M1180.0 381.0h0M1196.0 381.0h3.2M1336.8 381.0h0M1194.4 382.6h3.2M1176.8 384.2h0M1183.2 384.2h3.2M1365.6 384.2h0M1188.0 385.8h0M1194.4 385.8h0M1370.4 389.0h0M1346.4 390.6h0M1351.2 392.2h0M1365.6 393.8h0M1359.2 397.0h0M1191.2 405.0h0M1212.0 409.8h0M1205.6 422.6h0M1351.2 424.2h0M1327.2 425.8h0M1216.8 430.6h3.2M1261.6 440.2h0M1237.6 441.8h3.2M1260.0 441.8h0M1236.0 443.4h0M1266.4 445.0h0M1277.6 453.0h0" stroke="#7FCB10" stroke-width="2.5" stroke-linecap="round" fill="none"/>
<path d="M1268.0 341.0h9.6M1263.2 342.6h12.8M1282.4 342.6h0M1258.4 344.2h28.8M1253.6 345.8h41.6M1239.2 347.4h0M1252.0 347.4h44.8M1237.6 349.0h0M1244.0 349.0h25.6M1282.4 349.0h16.0M1232.8 350.6h3.2M1242.4 350.6h22.4M1280.8 350.6h19.2M1234.4 352.2h3.2M1244.0 352.2h16.0M1292.0 352.2h9.6M1232.8 353.8h25.6M1293.6 353.8h9.6M1228.0 355.4h28.8M1298.4 355.4h6.4M1226.4 357.0h28.8M1300.0 357.0h6.4M1228.0 358.6h28.8M1304.8 358.6h3.2M1226.4 360.2h25.6M1303.2 360.2h6.4M1224.8 361.8h25.6M1304.8 361.8h6.4M1223.2 363.4h25.6M1306.4 363.4h6.4M1221.6 365.0h22.4M1304.8 365.0h9.6M1216.8 366.6h25.6M1309.6 366.6h3.2M1218.4 368.2h19.2M1308.0 368.2h3.2M1216.8 369.8h19.2M1309.6 369.8h6.4M1215.2 371.4h22.4M1311.2 371.4h6.4M1216.8 373.0h16.0M1312.8 373.0h3.2M1215.2 374.6h16.0M1311.2 374.6h6.4M1216.8 376.2h12.8M1312.8 376.2h3.2M1215.2 377.8h9.6M1314.4 377.8h3.2M1213.6 379.4h12.8M1312.8 379.4h6.4M1215.2 381.0h9.6M1311.2 381.0h6.4M1216.8 382.6h6.4M1312.8 382.6h6.4M1215.2 384.2h9.6M1314.4 384.2h3.2M1213.6 385.8h9.6M1312.8 385.8h6.4M1215.2 387.4h9.6M1314.4 387.4h3.2M1213.6 389.0h12.8M1312.8 389.0h6.4M1215.2 390.6h9.6M1314.4 390.6h3.2M1213.6 392.2h9.6M1312.8 392.2h3.2M1215.2 393.8h9.6M1314.4 393.8h3.2M1216.8 395.4h9.6M1312.8 395.4h6.4M1215.2 397.0h9.6M1311.2 397.0h6.4M1216.8 398.6h9.6M1309.6 398.6h6.4M1218.4 400.2h6.4M1314.4 400.2h3.2M1216.8 401.8h9.6M1309.6 401.8h6.4M1218.4 403.4h9.6M1308.0 403.4h9.6M1216.8 405.0h16.0M1306.4 405.0h6.4M1218.4 406.6h12.8M1304.8 406.6h9.6M1220.0 408.2h9.6M1303.2 408.2h9.6M1218.4 409.8h12.8M1301.6 409.8h9.6M1220.0 411.4h12.8M1303.2 411.4h9.6M1221.6 413.0h16.0M1295.2 413.0h16.0M1223.2 414.6h12.8M1293.6 414.6h19.2M1224.8 416.2h16.0M1288.8 416.2h19.2M1226.4 417.8h16.0M1290.4 417.8h16.0M1228.0 419.4h16.0M1282.4 419.4h25.6M1229.6 421.0h22.4M1280.8 421.0h25.6M1231.2 422.6h16.0M1276.0 422.6h28.8M1232.8 424.2h22.4M1268.0 424.2h35.2M1234.4 425.8h64.0M1239.2 427.4h57.6M1240.8 429.0h51.2M1242.4 430.6h44.8M1240.8 432.2h0M1247.2 432.2h38.4M1245.6 433.8h38.4M1250.4 435.4h16.0M1272.8 435.4h6.4M1255.2 437.0h0M1261.6 437.0h3.2M1274.4 437.0h0M1266.4 438.6h0" stroke="#DDB585" stroke-width="2.5" stroke-linecap="round" fill="none"/>
<path d="M1314.4 285.0h0M1301.6 288.2h0M1306.4 289.8h0M1332.0 289.8h0M1263.2 291.4h0M1311.2 294.6h0M1285.6 297.8h0M1284.0 299.4h0M1325.6 299.4h0M1250.4 301.0h0M1282.4 301.0h0M1280.8 302.6h0M1300.0 302.6h0M1276.0 304.2h0M1327.2 304.2h0M1264.8 309.0h0M1348.0 309.0h0M1263.2 310.6h0M1333.6 310.6h0M1255.2 312.2h0M1303.2 312.2h0M1341.6 312.2h0M1250.4 313.8h0M1256.8 313.8h0M1301.6 313.8h6.4M1327.2 313.8h0M1242.4 315.4h0M1293.6 315.4h19.2M1357.6 315.4h0M1282.4 317.0h6.4M1295.2 317.0h9.6M1311.2 317.0h0M1293.6 318.6h19.2M1348.0 318.6h0M1240.8 320.2h0M1285.6 320.2h28.8M1220.0 321.8h0M1277.6 321.8h0M1284.0 321.8h32.0M1205.6 323.4h0M1276.0 323.4h0M1282.4 323.4h3.2M1292.0 323.4h25.6M1274.4 325.0h48.0M1199.2 326.6h0M1276.0 326.6h48.0M1200.8 328.2h0M1274.4 328.2h38.4M1319.2 328.2h3.2M1269.6 329.8h54.4M1333.6 329.8h0M1349.6 329.8h0M1274.4 331.4h51.2M1338.4 331.4h0M1276.0 333.0h44.8M1268.0 334.6h0M1277.6 334.6h6.4M1290.4 334.6h0M1296.8 334.6h28.8M1357.6 334.6h0M1196.0 336.2h0M1282.4 336.2h3.2M1292.0 336.2h32.0M1336.8 336.2h0M1290.4 337.8h35.2M1295.2 339.4h32.0M1340.0 339.4h0M1300.0 341.0h16.0M1322.4 341.0h3.2M1351.2 341.0h0M1301.6 342.6h22.4M1303.2 344.2h25.6M1240.8 345.8h0M1308.0 345.8h19.2M1309.6 347.4h16.0M1335.2 347.4h0M1311.2 349.0h16.0M1336.8 349.0h0M1362.4 349.0h0M1312.8 350.6h3.2M1322.4 350.6h3.2M1314.4 352.2h12.8M1316.0 353.8h9.6M1314.4 355.4h9.6M1316.0 357.0h6.4M1341.6 357.0h0M1373.6 357.0h0M1317.6 358.6h0M1319.2 360.2h0M1335.2 360.2h0M1373.6 360.2h0M1349.6 361.8h0M1359.2 361.8h3.2M1338.4 363.4h0M1356.0 371.4h0M1205.6 374.6h0M1359.2 374.6h0M1341.6 376.2h0M1188.0 382.6h0M1348.0 382.6h0M1364.0 382.6h0M1359.2 393.8h0M1327.2 397.0h0M1348.0 417.8h0M1341.6 421.0h0M1346.4 425.8h0" stroke="#229150" stroke-width="2.9" stroke-linecap="round" fill="none"/>
<path d="M1272.8 349.0h6.4M1268.0 350.6h9.6M1263.2 352.2h25.6M1261.6 353.8h28.8M1260.0 355.4h35.2M1258.4 357.0h38.4M1260.0 358.6h41.6M1255.2 360.2h44.8M1253.6 361.8h48.0M1252.0 363.4h51.2M1247.2 365.0h54.4M1245.6 366.6h60.8M1240.8 368.2h64.0M1239.2 369.8h67.2M1240.8 371.4h67.2M1236.0 373.0h73.6M1234.4 374.6h73.6M1232.8 376.2h76.8M1228.0 377.8h83.2M1229.6 379.4h80.0M1228.0 381.0h80.0M1226.4 382.6h83.2M1228.0 384.2h83.2M1226.4 385.8h83.2M1228.0 387.4h83.2M1229.6 389.0h80.0M1228.0 390.6h83.2M1226.4 392.2h83.2M1228.0 393.8h83.2M1229.6 395.4h80.0M1228.0 397.0h80.0M1229.6 398.6h76.8M1228.0 400.2h83.2M1229.6 401.8h76.8M1231.2 403.4h73.6M1236.0 405.0h67.2M1234.4 406.6h67.2M1232.8 408.2h67.2M1234.4 409.8h64.0M1236.0 411.4h64.0M1240.8 413.0h51.2M1239.2 414.6h51.2M1244.0 416.2h41.6M1245.6 417.8h41.6M1247.2 419.4h32.0M1255.2 421.0h22.4M1250.4 422.6h22.4M1258.4 424.2h6.4" stroke="#4BAAD9" stroke-width="2.5" stroke-linecap="round" fill="none"/>
<path d="M1320.8 278.6h0M1287.2 280.2h0M1319.2 280.2h3.2M1271.2 283.4h0M1293.6 283.4h0M1269.6 285.0h0M1324.0 285.0h0M1332.0 286.6h0M1328.8 289.8h0M1336.8 291.4h0M1290.4 293.0h0M1322.4 293.0h0M1314.4 294.6h0M1344.8 299.4h0M1274.4 302.6h0M1330.4 307.4h0M1237.6 310.6h0M1221.6 313.8h0M1184.8 315.4h0M1202.4 317.0h3.2M1224.8 317.0h0M1234.4 317.0h0M1165.6 318.6h0M1172.0 318.6h0M1210.4 318.6h0M1248.8 318.6h0M1255.2 318.6h0M1212.0 320.2h0M1197.6 321.8h0M1216.8 321.8h0M1229.6 321.8h0M1173.6 323.4h0M1226.4 325.0h0M1252.0 325.0h0M1328.8 325.0h0M1157.6 326.6h0M1215.2 326.6h3.2M1344.8 328.2h0M1170.4 329.8h0M1205.6 329.8h0M1228.0 329.8h0M1200.8 331.4h0M1215.2 333.0h0M1240.8 333.0h0M1151.2 336.2h0M1157.6 336.2h0M1194.4 337.8h0M1220.0 337.8h0M1279.2 339.4h0M1156.0 341.0h0M1191.2 341.0h0M1200.8 341.0h0M1248.8 341.0h0M1264.8 341.0h0M1328.8 341.0h0M1170.4 342.6h0M1176.8 342.6h0M1244.0 342.6h0M1152.8 344.2h3.2M1290.4 344.2h0M1215.2 345.8h0M1221.6 345.8h0M1359.2 345.8h0M1194.4 347.4h3.2M1223.2 347.4h0M1236.0 347.4h0M1151.2 349.0h0M1148.0 352.2h0M1173.6 352.2h0M1183.2 352.2h0M1375.2 352.2h0M1200.8 353.8h0M1207.2 353.8h0M1229.6 353.8h0M1202.4 355.4h0M1375.2 355.4h0M1175.2 357.0h0M1197.6 357.0h0M1218.4 358.6h0M1372.0 358.6h0M1172.0 360.2h0M1183.2 361.8h0M1170.4 365.0h0M1208.8 365.0h0M1175.2 366.6h0M1376.8 366.6h0M1172.0 369.8h0M1176.8 371.4h0M1188.0 373.0h0M1376.8 373.0h0M1192.8 374.6h0M1212.0 374.6h0M1376.8 376.2h0M1205.6 377.8h3.2M1175.2 379.4h3.2M1184.8 379.4h0M1194.4 379.4h0M1207.2 379.4h0M1189.6 381.0h0M1156.0 382.6h0M1162.4 382.6h0M1175.2 382.6h3.2M1200.8 382.6h0M1207.2 382.6h0M1213.6 382.6h0M1180.0 384.2h0M1205.6 384.2h0M1175.2 385.8h9.6M1207.2 385.8h3.2M1357.6 385.8h0M1160.8 387.4h0M1176.8 387.4h6.4M1212.0 387.4h0M1178.4 389.0h12.8M1197.6 389.0h3.2M1207.2 389.0h3.2M1164.0 390.6h3.2M1176.8 390.6h9.6M1192.8 390.6h3.2M1202.4 390.6h0M1208.8 390.6h3.2M1165.6 392.2h0M1178.4 392.2h3.2M1188.0 392.2h0M1194.4 392.2h0M1204.0 392.2h0M1180.0 393.8h0M1189.6 393.8h6.4M1202.4 393.8h3.2M1181.6 395.4h9.6M1197.6 395.4h6.4M1210.4 395.4h0M1164.0 397.0h0M1186.4 397.0h0M1192.8 397.0h3.2M1202.4 397.0h3.2M1212.0 397.0h0M1184.8 398.6h12.8M1204.0 398.6h0M1210.4 398.6h3.2M1373.6 398.6h0M1183.2 400.2h3.2M1192.8 400.2h9.6M1208.8 400.2h0M1162.4 401.8h0M1184.8 401.8h6.4M1197.6 401.8h16.0M1183.2 403.4h6.4M1196.0 403.4h16.0M1333.6 403.4h0M1168.8 405.0h0M1188.0 405.0h0M1194.4 405.0h19.2M1316.0 405.0h0M1176.8 406.6h0M1186.4 406.6h3.2M1199.2 406.6h12.8M1324.0 406.6h3.2M1362.4 406.6h0M1172.0 408.2h0M1188.0 408.2h3.2M1197.6 408.2h0M1204.0 408.2h3.2M1213.6 408.2h0M1322.4 408.2h0M1328.8 408.2h3.2M1192.8 409.8h0M1199.2 409.8h3.2M1208.8 409.8h0M1215.2 409.8h0M1320.8 409.8h3.2M1330.4 409.8h0M1191.2 411.4h0M1200.8 411.4h16.0M1316.0 411.4h0M1322.4 411.4h0M1328.8 411.4h6.4M1192.8 413.0h6.4M1205.6 413.0h12.8M1317.6 413.0h12.8M1343.2 413.0h0M1191.2 414.6h0M1207.2 414.6h0M1213.6 414.6h3.2M1319.2 414.6h0M1325.6 414.6h3.2M1335.2 414.6h0M1189.6 416.2h0M1199.2 416.2h22.4M1311.2 416.2h6.4M1324.0 416.2h6.4M1336.8 416.2h0M1362.4 416.2h0M1175.2 417.8h0M1200.8 417.8h16.0M1223.2 417.8h0M1309.6 417.8h0M1328.8 417.8h6.4M1360.8 417.8h0M1196.0 419.4h12.8M1215.2 419.4h3.2M1317.6 419.4h0M1327.2 419.4h6.4M1178.4 421.0h0M1197.6 421.0h25.6M1309.6 421.0h6.4M1322.4 421.0h9.6M1199.2 422.6h0M1208.8 422.6h0M1218.4 422.6h3.2M1228.0 422.6h0M1314.4 422.6h6.4M1327.2 422.6h6.4M1197.6 424.2h12.8M1216.8 424.2h0M1223.2 424.2h3.2M1309.6 424.2h22.4M1199.2 425.8h0M1205.6 425.8h22.4M1311.2 425.8h0M1320.8 425.8h0M1172.0 427.4h0M1188.0 427.4h0M1207.2 427.4h3.2M1216.8 427.4h0M1226.4 427.4h3.2M1236.0 427.4h0M1300.0 427.4h3.2M1309.6 427.4h6.4M1322.4 427.4h6.4M1202.4 429.0h0M1215.2 429.0h16.0M1295.2 429.0h3.2M1311.2 429.0h12.8M1330.4 429.0h0M1204.0 430.6h3.2M1213.6 430.6h0M1229.6 430.6h9.6M1309.6 430.6h16.0M1335.2 430.6h3.2M1212.0 432.2h3.2M1221.6 432.2h12.8M1288.8 432.2h0M1298.4 432.2h16.0M1320.8 432.2h3.2M1330.4 432.2h0M1336.8 432.2h6.4M1178.4 433.8h0M1213.6 433.8h16.0M1239.2 433.8h0M1293.6 433.8h0M1300.0 433.8h6.4M1312.8 433.8h6.4M1325.6 433.8h0M1332.0 433.8h0M1186.4 435.4h0M1192.8 435.4h0M1208.8 435.4h0M1215.2 435.4h0M1224.8 435.4h3.2M1234.4 435.4h0M1240.8 435.4h3.2M1282.4 435.4h0M1292.0 435.4h0M1301.6 435.4h12.8M1333.6 435.4h3.2M1191.2 437.0h0M1207.2 437.0h0M1220.0 437.0h0M1226.4 437.0h3.2M1236.0 437.0h12.8M1268.0 437.0h0M1284.0 437.0h0M1293.6 437.0h16.0M1316.0 437.0h6.4M1332.0 437.0h0M1208.8 438.6h0M1215.2 438.6h6.4M1228.0 438.6h0M1234.4 438.6h19.2M1260.0 438.6h0M1272.8 438.6h19.2M1298.4 438.6h0M1308.0 438.6h16.0M1333.6 438.6h0M1181.6 440.2h0M1210.4 440.2h0M1216.8 440.2h6.4M1232.8 440.2h6.4M1245.6 440.2h0M1255.2 440.2h0M1271.2 440.2h0M1277.6 440.2h16.0M1300.0 440.2h16.0M1328.8 440.2h3.2M1189.6 441.8h3.2M1212.0 441.8h0M1221.6 441.8h12.8M1250.4 441.8h0M1263.2 441.8h12.8M1282.4 441.8h3.2M1292.0 441.8h0M1298.4 441.8h12.8M1317.6 441.8h3.2M1184.8 443.4h0M1220.0 443.4h12.8M1239.2 443.4h0M1245.6 443.4h6.4M1258.4 443.4h12.8M1280.8 443.4h6.4M1293.6 443.4h12.8M1312.8 443.4h0M1319.2 443.4h6.4M1199.2 445.0h0M1221.6 445.0h6.4M1234.4 445.0h0M1247.2 445.0h6.4M1260.0 445.0h3.2M1269.6 445.0h12.8M1288.8 445.0h3.2M1298.4 445.0h16.0M1226.4 446.6h28.8M1261.6 446.6h16.0M1284.0 446.6h25.6M1316.0 446.6h0M1192.8 448.2h0M1231.2 448.2h12.8M1260.0 448.2h0M1266.4 448.2h16.0M1288.8 448.2h9.6M1304.8 448.2h3.2M1317.6 448.2h0M1188.0 449.8h0M1229.6 449.8h0M1236.0 449.8h6.4M1271.2 449.8h3.2M1284.0 449.8h6.4M1296.8 449.8h9.6M1231.2 451.4h0M1237.6 451.4h0M1244.0 451.4h3.2M1253.6 451.4h9.6M1272.8 451.4h3.2M1282.4 451.4h0M1288.8 451.4h12.8M1308.0 451.4h3.2M1210.4 453.0h0M1220.0 453.0h0M1245.6 453.0h6.4M1258.4 453.0h3.2M1271.2 453.0h3.2M1280.8 453.0h0M1287.2 453.0h0M1296.8 453.0h3.2M1212.0 454.6h0M1247.2 454.6h9.6M1263.2 454.6h3.2M1272.8 454.6h6.4M1285.6 454.6h3.2M1295.2 454.6h9.6M1216.8 456.2h0M1248.8 456.2h0M1258.4 456.2h3.2M1268.0 456.2h0M1274.4 456.2h0M1284.0 456.2h6.4M1199.2 457.8h0M1247.2 457.8h0M1253.6 457.8h3.2M1263.2 457.8h0M1272.8 457.8h0M1279.2 457.8h0M1285.6 457.8h6.4M1301.6 457.8h0M1252.0 459.4h3.2M1261.6 459.4h0M1268.0 459.4h6.4M1212.0 461.0h0M1256.8 461.0h9.6M1279.2 461.0h3.2M1216.8 462.6h0M1226.4 462.6h0M1261.6 462.6h9.6M1284.0 462.6h0M1234.4 464.2h0M1276.0 464.2h0M1268.0 465.8h0M1221.6 467.4h0M1226.4 469.0h0M1242.4 469.0h0M1221.6 470.6h0M1314.4 470.6h0M1324.0 470.6h0M1290.4 472.2h0M1324.0 473.8h0M1239.2 475.4h0M1309.6 475.4h0M1260.0 477.0h0M1245.6 478.6h0M1271.2 478.6h0M1300.0 478.6h0M1253.6 480.2h0M1266.4 480.2h3.2M1327.2 480.2h0M1242.4 481.8h0M1252.0 481.8h0M1280.8 481.8h0M1264.8 485.0h0M1271.2 485.0h0M1306.4 485.0h0M1314.4 486.6h0M1280.8 491.4h0M1280.8 494.6h0" stroke="#5B12A0" stroke-width="3.3" stroke-linecap="round" fill="none"/>
<rect x="1379.2" y="245.3" width="33.6" height="7.1" fill="#000"/>
<circle cx="1574.8" cy="387.1" r="9" fill="#8BA5D9"/>
<circle cx="1574.8" cy="411.2" r="9" fill="#8BA5D9"/>
<circle cx="1595.6" cy="302.9" r="9" fill="#8BA5D9"/>
<circle cx="1595.6" cy="327.0" r="9" fill="#8BA5D9"/>
<circle cx="1595.6" cy="351.0" r="9" fill="#C63A23"/>
<circle cx="1595.6" cy="375.1" r="9" fill="#C63A23"/>
<circle cx="1595.6" cy="399.2" r="9" fill="#8BA5D9"/>
<circle cx="1595.6" cy="423.2" r="9" fill="#8BA5D9"/>
<circle cx="1616.5" cy="290.9" r="9" fill="#8BA5D9"/>
<circle cx="1616.5" cy="314.9" r="9" fill="#EEF4B4"/>
<circle cx="1616.5" cy="339.0" r="9" fill="#C63A23"/>
<circle cx="1616.5" cy="363.1" r="9" fill="#EEF4B4"/>
<circle cx="1616.5" cy="387.1" r="9" fill="#EEF4B4"/>
<circle cx="1616.5" cy="411.2" r="9" fill="#C63A23"/>
<circle cx="1616.5" cy="435.2" r="9" fill="#8BA5D9"/>
<circle cx="1637.3" cy="278.9" r="9" fill="#8BA5D9"/>
<circle cx="1637.3" cy="302.9" r="9" fill="#EEF4B4"/>
<circle cx="1637.3" cy="327.0" r="9" fill="#42A5D5"/>
<circle cx="1637.3" cy="351.0" r="9" fill="#42A5D5"/>
<circle cx="1637.3" cy="375.1" r="9" fill="#42A5D5"/>
<circle cx="1637.3" cy="399.2" r="9" fill="#EEF4B4"/>
<circle cx="1637.3" cy="423.2" r="9" fill="#C63A23"/>
<circle cx="1637.3" cy="447.3" r="9" fill="#FDD13A"/>
<circle cx="1658.2" cy="266.8" r="9" fill="#FDD13A"/>
<circle cx="1658.2" cy="290.9" r="9" fill="#EEF4B4"/>
<circle cx="1658.2" cy="314.9" r="9" fill="#42A5D5"/>
<circle cx="1658.2" cy="339.0" r="9" fill="#42A5D5"/>
<circle cx="1658.2" cy="363.1" r="9" fill="#42A5D5"/>
<circle cx="1658.2" cy="387.1" r="9" fill="#EEF4B4"/>
<circle cx="1658.2" cy="411.2" r="9" fill="#C63A23"/>
<circle cx="1658.2" cy="435.2" r="9" fill="#8BA5D9"/>
<circle cx="1658.2" cy="459.3" r="9" fill="#FDD13A"/>
<circle cx="1679.0" cy="254.8" r="9" fill="#FDD13A"/>
<circle cx="1679.0" cy="278.9" r="9" fill="#C63A23"/>
<circle cx="1679.0" cy="302.9" r="9" fill="#42A5D5"/>
<circle cx="1679.0" cy="327.0" r="9" fill="#42A5D5"/>
<circle cx="1679.0" cy="351.0" r="9" fill="#C63A23"/>
<circle cx="1679.0" cy="375.1" r="9" fill="#EEF4B4"/>
<circle cx="1679.0" cy="399.2" r="9" fill="#EEF4B4"/>
<circle cx="1679.0" cy="423.2" r="9" fill="#C63A23"/>
<circle cx="1679.0" cy="447.3" r="9" fill="#8BA5D9"/>
<circle cx="1679.0" cy="471.3" r="9" fill="#FDD13A"/>
<circle cx="1699.8" cy="266.8" r="9" fill="#FDD13A"/>
<circle cx="1699.8" cy="290.9" r="9" fill="#EEF4B4"/>
<circle cx="1699.8" cy="314.9" r="9" fill="#42A5D5"/>
<circle cx="1699.8" cy="339.0" r="9" fill="#42A5D5"/>
<circle cx="1699.8" cy="363.1" r="9" fill="#42A5D5"/>
<circle cx="1699.8" cy="387.1" r="9" fill="#EEF4B4"/>
<circle cx="1699.8" cy="411.2" r="9" fill="#EEF4B4"/>
<circle cx="1699.8" cy="435.2" r="9" fill="#C63A23"/>
<circle cx="1699.8" cy="459.3" r="9" fill="#FDD13A"/>
<circle cx="1720.7" cy="254.8" r="9" fill="#FDD13A"/>
<circle cx="1720.7" cy="278.9" r="9" fill="#8BA5D9"/>
<circle cx="1720.7" cy="302.9" r="9" fill="#EEF4B4"/>
<circle cx="1720.7" cy="327.0" r="9" fill="#42A5D5"/>
<circle cx="1720.7" cy="351.0" r="9" fill="#42A5D5"/>
<circle cx="1720.7" cy="375.1" r="9" fill="#42A5D5"/>
<circle cx="1720.7" cy="399.2" r="9" fill="#EEF4B4"/>
<circle cx="1720.7" cy="423.2" r="9" fill="#C63A23"/>
<circle cx="1720.7" cy="447.3" r="9" fill="#FDD13A"/>
<circle cx="1741.5" cy="266.8" r="9" fill="#FDD13A"/>
<circle cx="1741.5" cy="290.9" r="9" fill="#C63A23"/>
<circle cx="1741.5" cy="314.9" r="9" fill="#EEF4B4"/>
<circle cx="1741.5" cy="339.0" r="9" fill="#EEF4B4"/>
<circle cx="1741.5" cy="363.1" r="9" fill="#EEF4B4"/>
<circle cx="1741.5" cy="387.1" r="9" fill="#EEF4B4"/>
<circle cx="1741.5" cy="411.2" r="9" fill="#8BA5D9"/>
<circle cx="1762.4" cy="278.9" r="9" fill="#FDD13A"/>
<circle cx="1762.4" cy="302.9" r="9" fill="#8BA5D9"/>
<circle cx="1762.4" cy="327.0" r="9" fill="#C63A23"/>
<circle cx="1762.4" cy="351.0" r="9" fill="#C63A23"/>
<circle cx="1762.4" cy="375.1" r="9" fill="#8BA5D9"/>
<circle cx="1762.4" cy="399.2" r="9" fill="#FDD13A"/>
<circle cx="1783.2" cy="314.9" r="9" fill="#FDD13A"/>
<circle cx="1783.2" cy="339.0" r="9" fill="#FDD13A"/>
<circle cx="1783.2" cy="363.1" r="9" fill="#8BA5D9"/>
<rect x="1759.2" y="251.1" width="24.0" height="6.9" fill="#000"/>
</svg>
</body></html>
